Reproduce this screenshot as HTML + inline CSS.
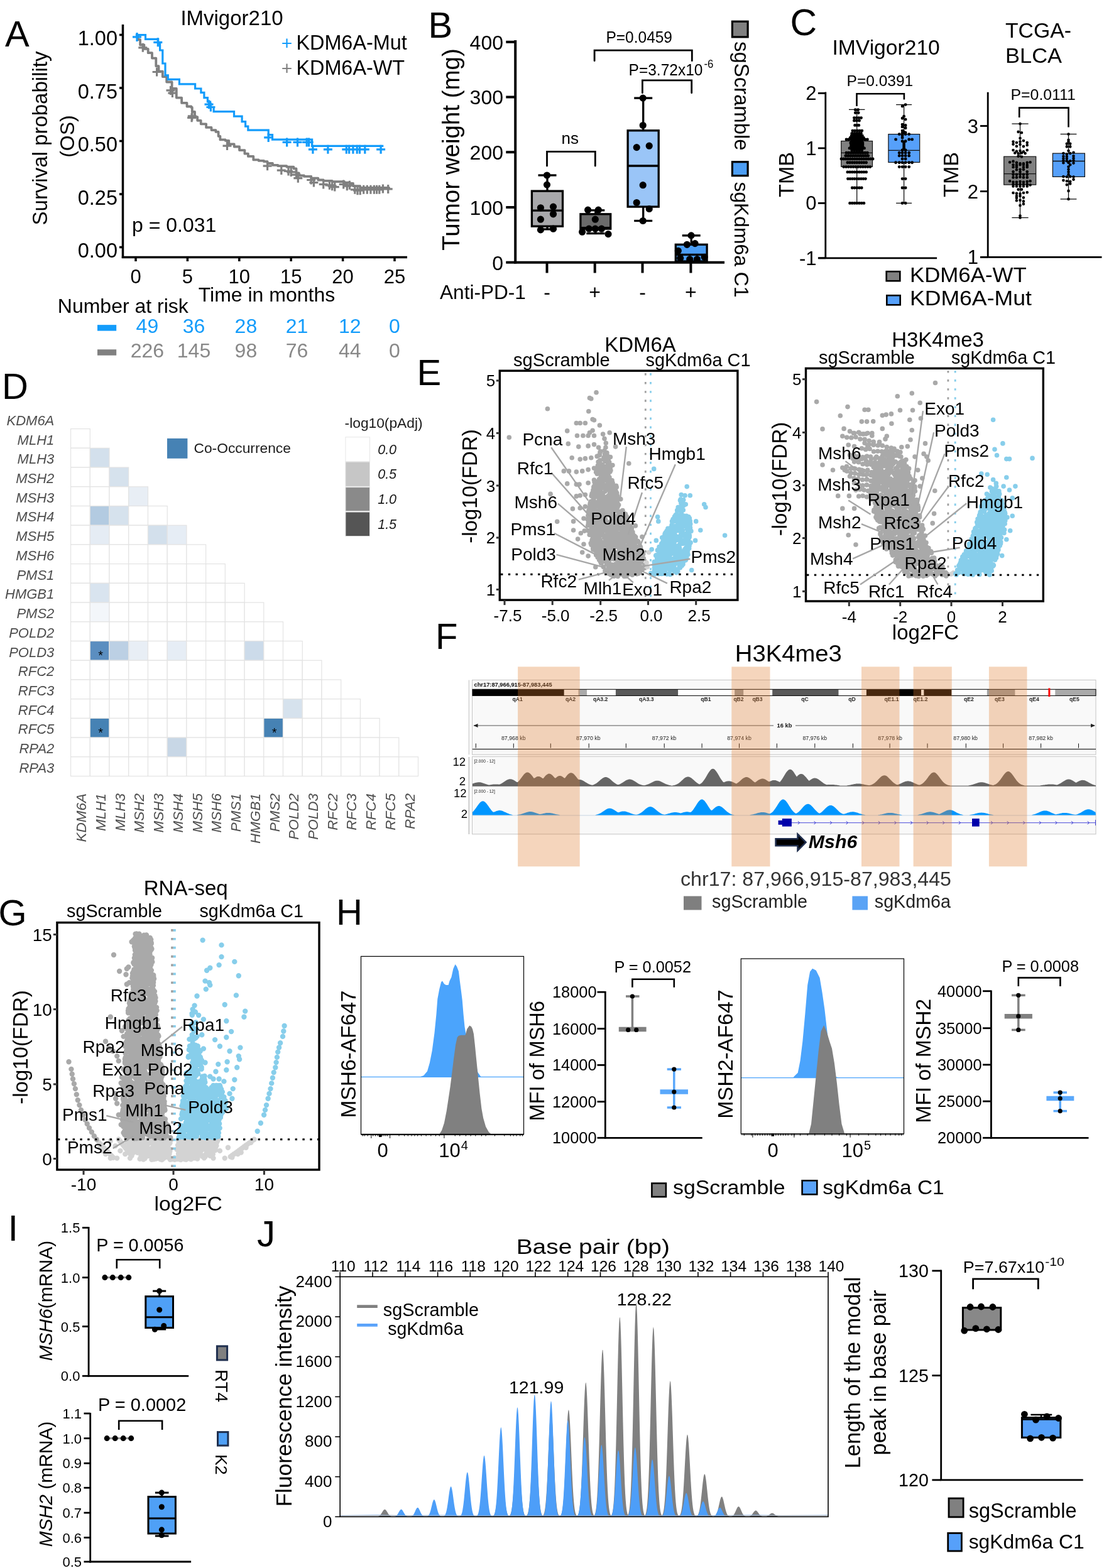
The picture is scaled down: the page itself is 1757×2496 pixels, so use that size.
<!DOCTYPE html>
<html><head><meta charset="utf-8"><title>Figure</title>
<style>html,body{margin:0;padding:0;background:#fff;}svg{display:block;}
text{font-family:"Liberation Sans",Arial,sans-serif;}</style></head>
<body><svg width="1757" height="2496" viewBox="0 0 1757 2496">
<rect width="1757" height="2496" fill="#fff"/>
<text x="8" y="74" font-size="58">A</text>
<text x="369" y="40" font-size="33" text-anchor="middle">IMvigor210</text>
<line x1="195.5" y1="39" x2="195.5" y2="411" stroke="#000" stroke-width="3.5"/>
<line x1="193.8" y1="409.5" x2="648" y2="409.5" stroke="#000" stroke-width="3.5"/>
<line x1="190" y1="55.5" x2="196" y2="55.5" stroke="#000" stroke-width="3.5"/>
<text x="187" y="72" font-size="32.5" text-anchor="end">1.00</text>
<line x1="190" y1="140" x2="196" y2="140" stroke="#000" stroke-width="3.5"/>
<text x="187" y="156.5" font-size="32.5" text-anchor="end">0.75</text>
<line x1="190" y1="224.5" x2="196" y2="224.5" stroke="#000" stroke-width="3.5"/>
<text x="187" y="241" font-size="32.5" text-anchor="end">0.50</text>
<line x1="190" y1="309" x2="196" y2="309" stroke="#000" stroke-width="3.5"/>
<text x="187" y="325.5" font-size="32.5" text-anchor="end">0.25</text>
<line x1="190" y1="393.5" x2="196" y2="393.5" stroke="#000" stroke-width="3.5"/>
<text x="187" y="410" font-size="32.5" text-anchor="end">0.00</text>
<line x1="216" y1="409" x2="216" y2="416" stroke="#000" stroke-width="3.5"/>
<text x="216" y="451" font-size="31" text-anchor="middle">0</text>
<line x1="298.4" y1="409" x2="298.4" y2="416" stroke="#000" stroke-width="3.5"/>
<text x="298.4" y="451" font-size="31" text-anchor="middle">5</text>
<line x1="380.8" y1="409" x2="380.8" y2="416" stroke="#000" stroke-width="3.5"/>
<text x="380.8" y="451" font-size="31" text-anchor="middle">10</text>
<line x1="463.2" y1="409" x2="463.2" y2="416" stroke="#000" stroke-width="3.5"/>
<text x="463.2" y="451" font-size="31" text-anchor="middle">15</text>
<line x1="545.6" y1="409" x2="545.6" y2="416" stroke="#000" stroke-width="3.5"/>
<text x="545.6" y="451" font-size="31" text-anchor="middle">20</text>
<line x1="628" y1="409" x2="628" y2="416" stroke="#000" stroke-width="3.5"/>
<text x="628" y="451" font-size="31" text-anchor="middle">25</text>
<text x="75" y="220" font-size="33" text-anchor="middle" transform="rotate(-90 75 220)">Survival probability</text>
<text x="117.5" y="217" font-size="32" text-anchor="middle" transform="rotate(-90 117.5 217)">(OS)</text>
<text x="210" y="368.5" font-size="32">p = 0.031</text>
<text x="315.7" y="480" font-size="32">Time in months</text>
<text x="91.8" y="498" font-size="32">Number at risk</text>
<text x="456.6" y="78.5" font-size="30" text-anchor="middle" fill="#139cfb">+</text>
<text x="471.4" y="79" font-size="32.4">KDM6A-Mut</text>
<text x="456.6" y="118.5" font-size="30" text-anchor="middle" fill="#808080">+</text>
<text x="471.4" y="119" font-size="32.4">KDM6A-WT</text>
<line x1="155" y1="521.9" x2="185.2" y2="521.9" stroke="#139cfb" stroke-width="9.5"/>
<line x1="155" y1="561" x2="185.2" y2="561" stroke="#808080" stroke-width="9.5"/>
<text x="234.4" y="529.5" font-size="32" text-anchor="middle" fill="#139cfb">49</text>
<text x="308.5" y="529.5" font-size="32" text-anchor="middle" fill="#139cfb">36</text>
<text x="391.4" y="529.5" font-size="32" text-anchor="middle" fill="#139cfb">28</text>
<text x="472.6" y="529.5" font-size="32" text-anchor="middle" fill="#139cfb">21</text>
<text x="556.8" y="529.5" font-size="32" text-anchor="middle" fill="#139cfb">12</text>
<text x="628" y="529.5" font-size="32" text-anchor="middle" fill="#139cfb">0</text>
<text x="234.4" y="569" font-size="32" text-anchor="middle" fill="#888888">226</text>
<text x="308.5" y="569" font-size="32" text-anchor="middle" fill="#888888">145</text>
<text x="391.4" y="569" font-size="32" text-anchor="middle" fill="#888888">98</text>
<text x="472.6" y="569" font-size="32" text-anchor="middle" fill="#888888">76</text>
<text x="556.8" y="569" font-size="32" text-anchor="middle" fill="#888888">44</text>
<text x="628" y="569" font-size="32" text-anchor="middle" fill="#888888">0</text>
<path d="M215.9 55.6 L219.7 55.6 L219.7 63.1 L223.1 63.1 L223.1 71.5 L229.4 71.5 L229.4 77.9 L235.7 77.9 L235.7 84.2 L242 84.2 L242 92.6 L248.3 92.6 L248.3 105.2 L252.5 105.2 L252.5 113.6 L258.8 113.6 L258.8 122.1 L265.2 122.1 L265.2 130.5 L273.6 130.5 L273.6 141 L280.8 141 L280.8 155.6 L289.1 155.6 L289.1 163.9 L297.5 163.9 L297.5 169.5 L304.4 169.5 L304.4 170.9 L305.8 170.9 L305.8 177.8 L310 177.8 L310 186.2 L314.2 186.2 L314.2 191.8 L319.7 191.8 L319.7 197.3 L328.1 197.3 L328.1 202.9 L336.5 202.9 L336.5 207.1 L343.4 207.1 L343.4 209.9 L347.6 209.9 L347.6 216.8 L350.4 216.8 L350.4 222.4 L358.7 222.4 L358.7 223.8 L364.3 223.8 L364.3 229.4 L372.7 229.4 L372.7 233.5 L381 233.5 L381 239.1 L389.4 239.1 L389.4 244.7 L394.9 244.7 L394.9 248.9 L403.3 248.9 L403.3 254.4 L411.6 254.4 L411.6 255.8 L420 255.8 L420 257.2 L425.6 257.2 L425.6 260 L433.9 260 L433.9 262.8 L442.3 262.8 L442.3 264.2 L456.2 264.2 L456.2 265.6 L467.3 265.6 L467.3 268.4 L471.5 268.4 L471.5 275.3 L475.7 275.3 L475.7 279.5 L484 279.5 L484 280.9 L495.2 280.9 L495.2 283.7 L506.3 283.7 L506.3 286.5 L514.7 286.5 L514.7 287.8 L528.6 287.8 L528.6 289.2 L548.1 289.2 L548.1 290.6 L556.4 290.6 L556.4 292 L562 292 L562 296.2 L573.2 296.2 L573.2 299 L619.1 299 L619.1 300.4" fill="none" stroke="#808080" stroke-width="3.8" stroke-linejoin="round"/>
<path d="M215.9 55.6 L231.5 55.6 L231.5 62.3 L251.7 62.3 L251.7 69.4 L254.6 69.4 L254.6 80 L258.8 80 L258.8 101 L263 101 L263 119.9 L267.3 119.9 L267.3 126.3 L285.4 126.3 L285.4 133.8 L310.6 133.8 L310.6 141 L319.9 141 L319.9 147.3 L324.9 147.3 L324.9 155.7 L330.4 155.7 L330.4 162 L334.6 162 L334.6 170.5 L340.1 170.5 L340.1 177.6 L372.5 177.6 L372.5 185.2 L385.1 185.2 L385.1 193.6 L390.6 193.6 L390.6 201.2 L394.8 201.2 L394.8 207.1 L427.2 207.1 L427.2 214.6 L433.5 214.6 L433.5 222.2 L496.6 222.2 L496.6 232.3 L610.3 232.3" fill="none" stroke="#139cfb" stroke-width="3.2"/>
<path d="M220.3 75.8h14M227.3 68.8v14M242.6 114.5h14M249.6 107.5v14M264.5 143.9h14M271.5 136.9v14M267.4 148.1h14M274.4 141.1v14M298.1 187.3h14M305.1 180.3v14M298.8 184.8h14M305.8 177.8v14M354.5 232.1h14M361.5 225.1v14M418.6 264.2h14M425.6 257.2v14M440.8 271.1h14M447.8 264.1v14M452 272.5h14M459 265.5v14M456.2 273.9h14M463.2 266.9v14M464.5 278.1h14M471.5 271.1v14M467.3 283.7h14M474.3 276.7v14M488.2 286.5h14M495.2 279.5v14M492.4 290.6h14M499.4 283.6v14M507.7 293.4h14M514.7 286.4v14M517.4 294.8h14M524.4 287.8v14M521.6 296.2h14M528.6 289.2v14M525.8 297.6h14M532.8 290.6v14M539.7 293.4h14M546.7 286.4v14M545.3 296.2h14M552.3 289.2v14M549.4 294.8h14M556.4 287.8v14M557.8 301.8h14M564.8 294.8v14M562 303.2h14M569 296.2v14M566.2 303.2h14M573.2 296.2v14M571.7 301.8h14M578.7 294.8v14M577.3 301.8h14M584.3 294.8v14M582.9 301.8h14M589.9 294.8v14M588.4 301.8h14M595.4 294.8v14M592.6 301.8h14M599.6 294.8v14M596.8 301.8h14M603.8 294.8v14M602.4 300.4h14M609.4 293.4v14M610.7 300.9h14M617.7 293.9v14" fill="none" stroke="#808080" stroke-width="3.2"/>
<path d="M211 58.9h14M218 51.9v14M244.3 67.3h14M251.3 60.3v14M325.5 166.2h14M332.5 159.2v14M328.4 170.5h14M335.4 163.5v14M420.2 218.9h14M427.2 211.9v14M449.6 226.4h14M456.6 219.4v14M466.5 226.4h14M473.5 219.4v14M481.2 226.4h14M488.2 219.4v14M484.6 226.4h14M491.6 219.4v14M490.9 237.8h14M497.9 230.8v14M514.9 237.8h14M521.9 230.8v14M544.3 237.8h14M551.3 230.8v14M548.6 237.8h14M555.6 230.8v14M554.9 237.8h14M561.9 230.8v14M561.2 237.8h14M568.2 230.8v14M565.4 237.8h14M572.4 230.8v14M573.8 237.8h14M580.8 230.8v14M599.1 237.8h14M606.1 230.8v14" fill="none" stroke="#139cfb" stroke-width="3.2"/>
<text x="681.5" y="60" font-size="58">B</text>
<line x1="820.2" y1="64" x2="820.2" y2="419.5" stroke="#000" stroke-width="4"/>
<line x1="818.2" y1="417.7" x2="1153" y2="417.7" stroke="#000" stroke-width="4"/>
<line x1="805.3" y1="417.7" x2="820" y2="417.7" stroke="#000" stroke-width="4"/>
<text x="801" y="429.5" font-size="32" text-anchor="end">0</text>
<line x1="805.3" y1="330" x2="820" y2="330" stroke="#000" stroke-width="4"/>
<text x="801" y="341.8" font-size="32" text-anchor="end">100</text>
<line x1="805.3" y1="242.2" x2="820" y2="242.2" stroke="#000" stroke-width="4"/>
<text x="801" y="254.1" font-size="32" text-anchor="end">200</text>
<line x1="805.3" y1="154.5" x2="820" y2="154.5" stroke="#000" stroke-width="4"/>
<text x="801" y="166.3" font-size="32" text-anchor="end">300</text>
<line x1="805.3" y1="66.8" x2="820" y2="66.8" stroke="#000" stroke-width="4"/>
<text x="801" y="78.6" font-size="32" text-anchor="end">400</text>
<line x1="870.5" y1="417" x2="870.5" y2="434.5" stroke="#000" stroke-width="4"/>
<line x1="946.7" y1="417" x2="946.7" y2="434.5" stroke="#000" stroke-width="4"/>
<line x1="1022.5" y1="417" x2="1022.5" y2="434.5" stroke="#000" stroke-width="4"/>
<line x1="1099.4" y1="417" x2="1099.4" y2="434.5" stroke="#000" stroke-width="4"/>
<text x="700" y="476" font-size="31.6">Anti-PD-1</text>
<text x="870.5" y="476" font-size="32" text-anchor="middle">-</text>
<text x="946.7" y="476" font-size="32" text-anchor="middle">+</text>
<text x="1022.5" y="476" font-size="32" text-anchor="middle">-</text>
<text x="1099.4" y="476" font-size="32" text-anchor="middle">+</text>
<text x="731" y="238" font-size="38.5" text-anchor="middle" transform="rotate(-90 731 238)">Tumor weight (mg)</text>
<line x1="871" y1="279" x2="871" y2="304.1" stroke="#000" stroke-width="3.3"/><line x1="871" y1="360.2" x2="871" y2="364.9" stroke="#000" stroke-width="3.3"/><line x1="856.5" y1="279" x2="885.5" y2="279" stroke="#000" stroke-width="3.3"/><line x1="856.5" y1="364.9" x2="885.5" y2="364.9" stroke="#000" stroke-width="3.3"/><rect x="846.4" y="304.1" width="49.1" height="56.1" fill="#a8a8ab" stroke="#000" stroke-width="3.3"/><line x1="846.4" y1="335.2" x2="895.5" y2="335.2" stroke="#000" stroke-width="3.3"/>
<line x1="947.8" y1="334.8" x2="947.8" y2="340.8" stroke="#000" stroke-width="3.3"/><line x1="947.8" y1="364.2" x2="947.8" y2="371.6" stroke="#000" stroke-width="3.3"/><line x1="933.3" y1="334.8" x2="962.3" y2="334.8" stroke="#000" stroke-width="3.3"/><line x1="933.3" y1="371.6" x2="962.3" y2="371.6" stroke="#000" stroke-width="3.3"/><rect x="923.9" y="340.8" width="47.8" height="23.4" fill="#6a6a6a" stroke="#000" stroke-width="3.3"/><line x1="923.9" y1="362.6" x2="971.7" y2="362.6" stroke="#000" stroke-width="3.3"/>
<line x1="1023.7" y1="156.1" x2="1023.7" y2="207.8" stroke="#000" stroke-width="3.3"/><line x1="1023.7" y1="329.1" x2="1023.7" y2="351.5" stroke="#000" stroke-width="3.3"/><line x1="1009.2" y1="156.1" x2="1038.2" y2="156.1" stroke="#000" stroke-width="3.3"/><line x1="1009.2" y1="351.5" x2="1038.2" y2="351.5" stroke="#000" stroke-width="3.3"/><rect x="999.1" y="207.8" width="49.1" height="121.3" fill="#9ac5f7" stroke="#000" stroke-width="3.3"/><line x1="999.1" y1="264" x2="1048.2" y2="264" stroke="#000" stroke-width="3.3"/>
<line x1="1100.2" y1="374.9" x2="1100.2" y2="389.3" stroke="#000" stroke-width="3.3"/><line x1="1100.2" y1="416" x2="1100.2" y2="416" stroke="#000" stroke-width="3.3"/><line x1="1085.7" y1="374.9" x2="1114.7" y2="374.9" stroke="#000" stroke-width="3.3"/><line x1="1085.7" y1="416" x2="1114.7" y2="416" stroke="#000" stroke-width="3.3"/><rect x="1075.3" y="389.3" width="49.8" height="26.7" fill="#4c9ef5" stroke="#000" stroke-width="3.3"/><line x1="1075.3" y1="405.3" x2="1125.1" y2="405.3" stroke="#000" stroke-width="3.3"/>
<path d="M870.5 279h0M870.5 294.1h0M860.4 330.8h0M880.5 329.1h0M880.5 340.8h0M860.4 349.2h0M860.4 365.9h0M880.5 364.2h0M935.6 334.2h0M952.3 334.2h0M947.3 349.2h0M926.6 369.2h0M937.3 364.2h0M947.3 364.2h0M957.4 364.2h0M968 372.6h0M1023.2 156.1h0M1023.2 199.5h0M1013.2 234.6h0M1033.2 232.2h0M1023.2 294.7h0M1013.2 322.5h0M1033.2 332.5h0M1023.2 351.5h0M1100 374.9h0M1093.4 389.3h0M1106.1 387.6h0M1079.3 399.3h0M1082.7 411h0M1097.7 412.7h0M1121.1 409.3h0M1109.4 412.7h0" stroke="#000" stroke-width="11.2" stroke-linecap="round" fill="none"/>
<path d="M870.5 264V241.3H947.3V264" fill="none" stroke="#000" stroke-width="2.8" stroke-linecap="round"/>
<text x="907.2" y="229" font-size="26" text-anchor="middle">ns</text>
<path d="M946.1 96.7V80.1H1101.3V96.7" fill="none" stroke="#000" stroke-width="2.8" stroke-linecap="round"/>
<text x="964.5" y="67.8" font-size="26" textLength="105.5" lengthAdjust="spacingAndGlyphs">P=0.0459</text>
<path d="M1022.4 147.8V127.8H1100.7V147.8" fill="none" stroke="#000" stroke-width="2.8" stroke-linecap="round"/>
<text x="1000.6" y="119.6" font-size="26" textLength="117.8" lengthAdjust="spacingAndGlyphs">P=3.72x10</text>
<text x="1120.4" y="108.3" font-size="18" textLength="15" lengthAdjust="spacingAndGlyphs">-6</text>
<rect x="1165.4" y="34.2" width="24.7" height="24.7" fill="#808080" stroke="#000" stroke-width="3.2"/>
<text x="1168.5" y="66" font-size="32.9" transform="rotate(90 1168.5 66)">sgScramble</text>
<rect x="1165.4" y="257.7" width="24.7" height="22" fill="#4c9ef5" stroke="#000" stroke-width="3.2"/>
<text x="1168.5" y="289.5" font-size="31.8" transform="rotate(90 1168.5 289.5)">sgKdm6a C1</text>
<text x="1257.5" y="55.5" font-size="59">C</text>
<text x="1324.5" y="86.6" font-size="33" textLength="171.3" lengthAdjust="spacingAndGlyphs">IMVigor210</text>
<text x="1600" y="59.5" font-size="33" textLength="105" lengthAdjust="spacingAndGlyphs">TCGA-</text>
<text x="1600" y="100" font-size="33" textLength="90" lengthAdjust="spacingAndGlyphs">BLCA</text>
<line x1="1313.8" y1="146.5" x2="1313.8" y2="412" stroke="#000" stroke-width="2.8"/>
<line x1="1302.3" y1="410.8" x2="1491.1" y2="410.8" stroke="#000" stroke-width="2.8"/>
<line x1="1301.9" y1="148.4" x2="1313.8" y2="148.4" stroke="#000" stroke-width="2.8"/>
<text x="1299.5" y="159.4" font-size="31" text-anchor="end">2</text>
<line x1="1301.9" y1="235.9" x2="1313.8" y2="235.9" stroke="#000" stroke-width="2.8"/>
<text x="1299.5" y="246.9" font-size="31" text-anchor="end">1</text>
<line x1="1301.9" y1="323.4" x2="1313.8" y2="323.4" stroke="#000" stroke-width="2.8"/>
<text x="1299.5" y="334.4" font-size="31" text-anchor="end">0</text>
<line x1="1301.9" y1="410.8" x2="1313.8" y2="410.8" stroke="#000" stroke-width="2.8"/>
<text x="1299.5" y="421.8" font-size="31" text-anchor="end">-1</text>
<text x="1263" y="278" font-size="34" text-anchor="middle" transform="rotate(-90 1263 278)">TMB</text>
<path d="M1363.5 169.1V149.3H1438.9V158.6" fill="none" stroke="#000" stroke-width="2.6"/>
<text x="1400.4" y="136.8" font-size="24" text-anchor="middle" textLength="105.7" lengthAdjust="spacingAndGlyphs">P=0.0391</text>
<line x1="1363.7" y1="174.4" x2="1363.7" y2="323.4" stroke="#111" stroke-width="1.3"/><line x1="1351" y1="174.4" x2="1376.4" y2="174.4" stroke="#111" stroke-width="1.3"/><line x1="1351" y1="323.4" x2="1376.4" y2="323.4" stroke="#111" stroke-width="1.3"/><rect x="1338.7" y="224.5" width="49.8" height="40.8" fill="#808080" stroke="#111" stroke-width="1.2"/><line x1="1338.7" y1="243.3" x2="1388.5" y2="243.3" stroke="#111" stroke-width="1.3"/>
<line x1="1438.6" y1="166.6" x2="1438.6" y2="323.4" stroke="#111" stroke-width="1.3"/><line x1="1426.1" y1="166.6" x2="1451.1" y2="166.6" stroke="#111" stroke-width="1.3"/><line x1="1426.1" y1="323.4" x2="1451.1" y2="323.4" stroke="#111" stroke-width="1.3"/><rect x="1413.9" y="213.6" width="49.8" height="44.8" fill="#56a0fa" stroke="#111" stroke-width="1.2"/><line x1="1413.9" y1="239.4" x2="1463.6" y2="239.4" stroke="#111" stroke-width="1.3"/>
<path d="M1352.6 323.4h0M1356.3 323.4h0M1360 323.4h0M1363.7 323.4h0M1367.5 323.4h0M1371.2 323.4h0M1374.9 323.4h0M1356.3 299h0M1360 299h0M1363.7 299h0M1367.5 299h0M1371.2 299h0M1349.5 284.6h0M1353 284.6h0M1356.5 284.6h0M1359.9 284.6h0M1363.4 284.6h0M1366.9 284.6h0M1370.4 284.6h0M1373.9 284.6h0M1377.4 284.6h0M1348.9 273.9h0M1352.6 273.9h0M1356.3 273.9h0M1360 273.9h0M1363.7 273.9h0M1367.5 273.9h0M1371.2 273.9h0M1374.9 273.9h0M1378.6 273.9h0M1342.7 265.6h0M1346.5 265.6h0M1350.3 265.6h0M1354.2 265.6h0M1358 265.6h0M1361.8 265.6h0M1365.7 265.6h0M1369.5 265.6h0M1373.3 265.6h0M1377.1 265.6h0M1381 265.6h0M1384.8 265.6h0M1348.9 258.8h0M1352.6 258.8h0M1356.3 258.8h0M1360 258.8h0M1363.7 258.8h0M1367.5 258.8h0M1371.2 258.8h0M1374.9 258.8h0M1378.6 258.8h0M1339 252.9h0M1342.6 252.9h0M1346.1 252.9h0M1349.7 252.9h0M1353.3 252.9h0M1356.9 252.9h0M1360.5 252.9h0M1364 252.9h0M1367.6 252.9h0M1371.2 252.9h0M1374.8 252.9h0M1378.4 252.9h0M1381.9 252.9h0M1385.5 252.9h0M1389.1 252.9h0M1345.8 247.9h0M1349.4 247.9h0M1353 247.9h0M1356.6 247.9h0M1360.1 247.9h0M1363.7 247.9h0M1367.3 247.9h0M1370.9 247.9h0M1374.5 247.9h0M1378.1 247.9h0M1381.7 247.9h0M1347 243.3h0M1350.7 243.3h0M1354.5 243.3h0M1358.2 243.3h0M1361.9 243.3h0M1365.6 243.3h0M1369.3 243.3h0M1373 243.3h0M1376.7 243.3h0M1380.4 243.3h0M1355.7 239h0M1359.7 239h0M1363.7 239h0M1367.8 239h0M1371.8 239h0M1352 235.9h0M1355.9 235.9h0M1359.8 235.9h0M1363.7 235.9h0M1367.7 235.9h0M1371.6 235.9h0M1375.5 235.9h0M1354.5 232.8h0M1358.2 232.8h0M1361.9 232.8h0M1365.6 232.8h0M1369.3 232.8h0M1373 232.8h0M1354.5 230.1h0M1358.2 230.1h0M1361.9 230.1h0M1365.6 230.1h0M1369.3 230.1h0M1373 230.1h0M1353.8 227.4h0M1357.7 227.4h0M1361.5 227.4h0M1365.3 227.4h0M1369.2 227.4h0M1373 227.4h0M1355.1 224.8h0M1359.3 224.8h0M1363.4 224.8h0M1367.6 224.8h0M1371.8 224.8h0M1347 221.9h0M1350.7 221.9h0M1354.5 221.9h0M1358.2 221.9h0M1361.9 221.9h0M1365.6 221.9h0M1369.3 221.9h0M1373 221.9h0M1376.7 221.9h0M1380.4 221.9h0M1353.2 219.2h0M1356.7 219.2h0M1360.2 219.2h0M1363.7 219.2h0M1367.2 219.2h0M1370.8 219.2h0M1374.3 219.2h0M1355.1 216.1h0M1358.5 216.1h0M1362 216.1h0M1365.5 216.1h0M1368.9 216.1h0M1372.4 216.1h0M1355.7 212.4h0M1359.4 212.4h0M1363.1 212.4h0M1366.8 212.4h0M1370.5 212.4h0M1356.9 208.1h0M1360.6 208.1h0M1364.4 208.1h0M1368.1 208.1h0M1371.8 208.1h0M1360.6 199.4h0M1363.7 199.4h0M1366.8 199.4h0M1359.4 192h0M1363.4 192h0M1367.5 192h0M1359.4 187.6h0M1363.1 187.6h0M1366.8 187.6h0M1370.5 187.6h0M1361.3 179.6h0M1366.2 179.6h0M1361.3 174.7h0M1365.6 174.7h0M1441.1 166.6h0M1436.1 169.1h0M1438.6 185.2h0M1436.1 188.3h0M1441.1 190.1h0M1436.1 198.2h0M1441.1 199.4h0M1436.1 201.9h0M1441.1 203.7h0M1436.1 208.1h0M1438.6 209.9h0M1436.1 211.8h0M1441.1 211.2h0M1431.2 213.6h0M1436.1 213.6h0M1441.1 213.6h0M1446.7 213.6h0M1436.1 215.7h0M1436.1 219.2h0M1425.6 221.9h0M1446.7 221.9h0M1451.6 221.9h0M1436.1 224.8h0M1441.1 224.8h0M1438.6 226.6h0M1438.6 229.1h0M1438.6 231.6h0M1438.6 234.1h0M1438.6 235.9h0M1436.1 239h0M1441.1 239h0M1431.2 243.3h0M1436.1 243.3h0M1441.1 243.3h0M1446.7 243.3h0M1431.2 247.9h0M1436.1 247.9h0M1441.1 247.9h0M1446.7 247.9h0M1436.1 252.9h0M1441.1 252.9h0M1425.6 258.8h0M1431.2 258.8h0M1436.1 258.8h0M1441.1 258.8h0M1446.7 258.8h0M1451.6 258.8h0M1431.2 265.6h0M1436.1 265.6h0M1441.1 265.6h0M1446.7 265.6h0M1436.1 284.6h0M1441.1 284.6h0M1436.1 299h0M1441.1 299h0M1436.1 323.4h0M1441.1 323.4h0" stroke="#000" stroke-width="4.9" stroke-linecap="round" fill="none"/>
<line x1="1572.2" y1="146.8" x2="1572.2" y2="410" stroke="#000" stroke-width="2.8"/>
<line x1="1560.1" y1="409.3" x2="1753.5" y2="409.3" stroke="#000" stroke-width="2.8"/>
<line x1="1560" y1="200.5" x2="1572.2" y2="200.5" stroke="#000" stroke-width="2.8"/>
<text x="1557" y="211.5" font-size="31" text-anchor="end">3</text>
<line x1="1560" y1="304.6" x2="1572.2" y2="304.6" stroke="#000" stroke-width="2.8"/>
<text x="1557" y="315.6" font-size="31" text-anchor="end">2</text>
<line x1="1560" y1="409.3" x2="1572.2" y2="409.3" stroke="#000" stroke-width="2.8"/>
<text x="1557" y="420.3" font-size="31" text-anchor="end">1</text>
<text x="1525" y="278" font-size="34" text-anchor="middle" transform="rotate(-90 1525 278)">TMB</text>
<path d="M1622.2 187V171.6H1700.5V202.5" fill="none" stroke="#000" stroke-width="2.6"/>
<text x="1660.2" y="158.9" font-size="24" text-anchor="middle" textLength="103.4" lengthAdjust="spacingAndGlyphs">P=0.0111</text>
<line x1="1623.5" y1="197.1" x2="1623.5" y2="346.5" stroke="#111" stroke-width="1.3"/><line x1="1610.4" y1="197.1" x2="1636.6" y2="197.1" stroke="#111" stroke-width="1.3"/><line x1="1610.4" y1="346.5" x2="1636.6" y2="346.5" stroke="#111" stroke-width="1.3"/><rect x="1597.7" y="249.2" width="51" height="44.9" fill="#808080" stroke="#111" stroke-width="1.2"/><line x1="1597.7" y1="276.6" x2="1648.8" y2="276.6" stroke="#111" stroke-width="1.3"/>
<line x1="1700.5" y1="213.5" x2="1700.5" y2="316.9" stroke="#111" stroke-width="1.3"/><line x1="1687.6" y1="213.5" x2="1713.4" y2="213.5" stroke="#111" stroke-width="1.3"/><line x1="1687.6" y1="316.9" x2="1713.4" y2="316.9" stroke="#111" stroke-width="1.3"/><rect x="1675.4" y="244.1" width="51" height="37.3" fill="#56a0fa" stroke="#111" stroke-width="1.2"/><line x1="1675.4" y1="256.5" x2="1726.4" y2="256.5" stroke="#111" stroke-width="1.3"/>
<path d="M1623.5 197.1h0M1620.6 209.9h0M1625.9 211.2h0M1623.5 220h0M1612.5 225.6h0M1617.9 227h0M1623.5 225.6h0M1628.9 224h0M1634.7 227h0M1612.5 229.6h0M1617.9 232.7h0M1623.5 230h0M1628.9 233.1h0M1634.7 231h0M1612.5 239h0M1617.9 240.8h0M1623.5 240.1h0M1628.9 241.2h0M1634.7 239h0M1615.2 243.5h0M1620.6 244.4h0M1625.9 243.5h0M1631.6 244.1h0M1620.6 248.8h0M1625.9 249.5h0M1607.1 258.2h0M1612.5 256.9h0M1617.9 258.9h0M1623.5 260.3h0M1628.9 260.3h0M1634.7 258.9h0M1639.6 258.2h0M1612.5 262.3h0M1617.9 262.9h0M1623.5 262.3h0M1628.9 262.3h0M1634.7 262.9h0M1612.5 265.9h0M1617.9 265.9h0M1623.5 269.7h0M1628.9 265.9h0M1634.7 265.9h0M1612.5 273.4h0M1617.9 270.3h0M1623.5 273.7h0M1628.9 269.7h0M1634.7 273.4h0M1612.5 277.7h0M1617.9 277.7h0M1623.5 277.7h0M1628.9 277.7h0M1634.7 277.7h0M1612.5 282.4h0M1617.9 282.4h0M1623.5 281.7h0M1628.9 282.4h0M1634.7 282.4h0M1607.1 288.2h0M1612.5 289.8h0M1617.9 289.8h0M1623.5 289.1h0M1628.9 289.8h0M1634.7 289.1h0M1639.6 288.2h0M1612.5 296.5h0M1617.9 296.5h0M1623.5 296.5h0M1628.9 296.5h0M1634.7 296.5h0M1639.6 294.5h0M1612.5 293.2h0M1617.9 293.2h0M1623.5 293.2h0M1628.9 293.2h0M1634.7 293.2h0M1620.6 301.6h0M1625.9 301.6h0M1612.5 307h0M1617.9 307.9h0M1623.5 308.6h0M1628.9 307h0M1634.7 306.2h0M1617.9 312h0M1623.5 312h0M1628.9 314.6h0M1617.9 315h0M1623.5 318.7h0M1617.9 319.3h0M1628.9 320.4h0M1628.9 324.7h0M1623.5 327.1h0M1623.5 343.5h0M1623.5 346.5h0M1700.5 213.5h0M1700.5 222.7h0M1700.5 225.3h0M1697.8 228.7h0M1703.2 228.7h0M1697.8 233.4h0M1703.2 233.4h0M1700.5 240.1h0M1692.4 244.1h0M1697.8 245.5h0M1703.2 244.1h0M1708.5 242.8h0M1692.4 248.8h0M1697.8 249.2h0M1708.5 248.2h0M1692.4 252.2h0M1697.8 252.5h0M1708.5 251.9h0M1692.4 255.6h0M1697.8 256.2h0M1703.2 256.2h0M1708.5 255.6h0M1692.4 259.2h0M1700.5 258.9h0M1708.5 259.6h0M1703.2 262.3h0M1700.5 265.6h0M1700.5 269.7h0M1700.5 273.7h0M1700.5 277.7h0M1692.4 281.1h0M1697.8 281.5h0M1703.2 281.1h0M1708.5 281.5h0M1692.4 287.1h0M1697.8 288.2h0M1703.2 289.1h0M1708.5 285.8h0M1697.8 294.1h0M1703.2 292.5h0M1700.5 303.9h0M1700.5 316.9h0" stroke="#000" stroke-width="4.6" stroke-linecap="round" fill="none"/>
<rect x="1410.7" y="432.2" width="21.6" height="15" fill="#808080" stroke="#000" stroke-width="2.6"/>
<rect x="1411.3" y="470.3" width="21.4" height="15" fill="#56a0fa" stroke="#000" stroke-width="2.6"/>
<text x="1447.9" y="448.5" font-size="33" textLength="185.8" lengthAdjust="spacingAndGlyphs">KDM6A-WT</text>
<text x="1447.9" y="486.2" font-size="33" textLength="194" lengthAdjust="spacingAndGlyphs">KDM6A-Mut</text>
<text x="3" y="634.5" font-size="58">D</text>
<rect x="112.6" y="682.6" width="30.7" height="30.7" fill="#fff" stroke="#e3e3e3" stroke-width="1.2"/><rect x="112.6" y="713.3" width="30.7" height="30.7" fill="#fff" stroke="#e3e3e3" stroke-width="1.2"/><rect x="143.3" y="713.3" width="30.7" height="30.7" fill="#D3E0EC" stroke="#e3e3e3" stroke-width="1.2"/><rect x="112.6" y="744" width="30.7" height="30.7" fill="#fff" stroke="#e3e3e3" stroke-width="1.2"/><rect x="143.3" y="744" width="30.7" height="30.7" fill="#fff" stroke="#e3e3e3" stroke-width="1.2"/><rect x="174" y="744" width="30.7" height="30.7" fill="#D6E2ED" stroke="#e3e3e3" stroke-width="1.2"/><rect x="112.6" y="774.8" width="30.7" height="30.7" fill="#fff" stroke="#e3e3e3" stroke-width="1.2"/><rect x="143.3" y="774.8" width="30.7" height="30.7" fill="#fff" stroke="#e3e3e3" stroke-width="1.2"/><rect x="174" y="774.8" width="30.7" height="30.7" fill="#fff" stroke="#e3e3e3" stroke-width="1.2"/><rect x="204.8" y="774.8" width="30.7" height="30.7" fill="#E8EEF5" stroke="#e3e3e3" stroke-width="1.2"/><rect x="112.6" y="805.5" width="30.7" height="30.7" fill="#fff" stroke="#e3e3e3" stroke-width="1.2"/><rect x="143.3" y="805.5" width="30.7" height="30.7" fill="#B3CBE1" stroke="#e3e3e3" stroke-width="1.2"/><rect x="174" y="805.5" width="30.7" height="30.7" fill="#D6E2ED" stroke="#e3e3e3" stroke-width="1.2"/><rect x="204.8" y="805.5" width="30.7" height="30.7" fill="#fff" stroke="#e3e3e3" stroke-width="1.2"/><rect x="235.5" y="805.5" width="30.7" height="30.7" fill="#fff" stroke="#e3e3e3" stroke-width="1.2"/><rect x="112.6" y="836.2" width="30.7" height="30.7" fill="#fff" stroke="#e3e3e3" stroke-width="1.2"/><rect x="143.3" y="836.2" width="30.7" height="30.7" fill="#E5ECF4" stroke="#e3e3e3" stroke-width="1.2"/><rect x="174" y="836.2" width="30.7" height="30.7" fill="#fff" stroke="#e3e3e3" stroke-width="1.2"/><rect x="204.8" y="836.2" width="30.7" height="30.7" fill="#fff" stroke="#e3e3e3" stroke-width="1.2"/><rect x="235.5" y="836.2" width="30.7" height="30.7" fill="#D3E0EC" stroke="#e3e3e3" stroke-width="1.2"/><rect x="266.2" y="836.2" width="30.7" height="30.7" fill="#E6EDF5" stroke="#e3e3e3" stroke-width="1.2"/><rect x="112.6" y="866.9" width="30.7" height="30.7" fill="#fff" stroke="#e3e3e3" stroke-width="1.2"/><rect x="143.3" y="866.9" width="30.7" height="30.7" fill="#fff" stroke="#e3e3e3" stroke-width="1.2"/><rect x="174" y="866.9" width="30.7" height="30.7" fill="#fff" stroke="#e3e3e3" stroke-width="1.2"/><rect x="204.8" y="866.9" width="30.7" height="30.7" fill="#fff" stroke="#e3e3e3" stroke-width="1.2"/><rect x="235.5" y="866.9" width="30.7" height="30.7" fill="#fff" stroke="#e3e3e3" stroke-width="1.2"/><rect x="266.2" y="866.9" width="30.7" height="30.7" fill="#fff" stroke="#e3e3e3" stroke-width="1.2"/><rect x="296.9" y="866.9" width="30.7" height="30.7" fill="#fff" stroke="#e3e3e3" stroke-width="1.2"/><rect x="112.6" y="897.6" width="30.7" height="30.7" fill="#fff" stroke="#e3e3e3" stroke-width="1.2"/><rect x="143.3" y="897.6" width="30.7" height="30.7" fill="#fff" stroke="#e3e3e3" stroke-width="1.2"/><rect x="174" y="897.6" width="30.7" height="30.7" fill="#fff" stroke="#e3e3e3" stroke-width="1.2"/><rect x="204.8" y="897.6" width="30.7" height="30.7" fill="#fff" stroke="#e3e3e3" stroke-width="1.2"/><rect x="235.5" y="897.6" width="30.7" height="30.7" fill="#fff" stroke="#e3e3e3" stroke-width="1.2"/><rect x="266.2" y="897.6" width="30.7" height="30.7" fill="#fff" stroke="#e3e3e3" stroke-width="1.2"/><rect x="296.9" y="897.6" width="30.7" height="30.7" fill="#fff" stroke="#e3e3e3" stroke-width="1.2"/><rect x="327.6" y="897.6" width="30.7" height="30.7" fill="#fff" stroke="#e3e3e3" stroke-width="1.2"/><rect x="112.6" y="928.4" width="30.7" height="30.7" fill="#fff" stroke="#e3e3e3" stroke-width="1.2"/><rect x="143.3" y="928.4" width="30.7" height="30.7" fill="#D9E4EF" stroke="#e3e3e3" stroke-width="1.2"/><rect x="174" y="928.4" width="30.7" height="30.7" fill="#fff" stroke="#e3e3e3" stroke-width="1.2"/><rect x="204.8" y="928.4" width="30.7" height="30.7" fill="#fff" stroke="#e3e3e3" stroke-width="1.2"/><rect x="235.5" y="928.4" width="30.7" height="30.7" fill="#fff" stroke="#e3e3e3" stroke-width="1.2"/><rect x="266.2" y="928.4" width="30.7" height="30.7" fill="#fff" stroke="#e3e3e3" stroke-width="1.2"/><rect x="296.9" y="928.4" width="30.7" height="30.7" fill="#fff" stroke="#e3e3e3" stroke-width="1.2"/><rect x="327.6" y="928.4" width="30.7" height="30.7" fill="#fff" stroke="#e3e3e3" stroke-width="1.2"/><rect x="358.4" y="928.4" width="30.7" height="30.7" fill="#fff" stroke="#e3e3e3" stroke-width="1.2"/><rect x="112.6" y="959.1" width="30.7" height="30.7" fill="#fff" stroke="#e3e3e3" stroke-width="1.2"/><rect x="143.3" y="959.1" width="30.7" height="30.7" fill="#F3F6FA" stroke="#e3e3e3" stroke-width="1.2"/><rect x="174" y="959.1" width="30.7" height="30.7" fill="#fff" stroke="#e3e3e3" stroke-width="1.2"/><rect x="204.8" y="959.1" width="30.7" height="30.7" fill="#fff" stroke="#e3e3e3" stroke-width="1.2"/><rect x="235.5" y="959.1" width="30.7" height="30.7" fill="#fff" stroke="#e3e3e3" stroke-width="1.2"/><rect x="266.2" y="959.1" width="30.7" height="30.7" fill="#fff" stroke="#e3e3e3" stroke-width="1.2"/><rect x="296.9" y="959.1" width="30.7" height="30.7" fill="#fff" stroke="#e3e3e3" stroke-width="1.2"/><rect x="327.6" y="959.1" width="30.7" height="30.7" fill="#fff" stroke="#e3e3e3" stroke-width="1.2"/><rect x="358.4" y="959.1" width="30.7" height="30.7" fill="#fff" stroke="#e3e3e3" stroke-width="1.2"/><rect x="389.1" y="959.1" width="30.7" height="30.7" fill="#fff" stroke="#e3e3e3" stroke-width="1.2"/><rect x="112.6" y="989.8" width="30.7" height="30.7" fill="#fff" stroke="#e3e3e3" stroke-width="1.2"/><rect x="143.3" y="989.8" width="30.7" height="30.7" fill="#fff" stroke="#e3e3e3" stroke-width="1.2"/><rect x="174" y="989.8" width="30.7" height="30.7" fill="#fff" stroke="#e3e3e3" stroke-width="1.2"/><rect x="204.8" y="989.8" width="30.7" height="30.7" fill="#fff" stroke="#e3e3e3" stroke-width="1.2"/><rect x="235.5" y="989.8" width="30.7" height="30.7" fill="#fff" stroke="#e3e3e3" stroke-width="1.2"/><rect x="266.2" y="989.8" width="30.7" height="30.7" fill="#fff" stroke="#e3e3e3" stroke-width="1.2"/><rect x="296.9" y="989.8" width="30.7" height="30.7" fill="#fff" stroke="#e3e3e3" stroke-width="1.2"/><rect x="327.6" y="989.8" width="30.7" height="30.7" fill="#fff" stroke="#e3e3e3" stroke-width="1.2"/><rect x="358.4" y="989.8" width="30.7" height="30.7" fill="#fff" stroke="#e3e3e3" stroke-width="1.2"/><rect x="389.1" y="989.8" width="30.7" height="30.7" fill="#fff" stroke="#e3e3e3" stroke-width="1.2"/><rect x="419.8" y="989.8" width="30.7" height="30.7" fill="#fff" stroke="#e3e3e3" stroke-width="1.2"/><rect x="112.6" y="1020.5" width="30.7" height="30.7" fill="#fff" stroke="#e3e3e3" stroke-width="1.2"/><rect x="143.3" y="1020.5" width="30.7" height="30.7" fill="#5B8EC0" stroke="#e3e3e3" stroke-width="1.2"/><rect x="174" y="1020.5" width="30.7" height="30.7" fill="#BCD0E4" stroke="#e3e3e3" stroke-width="1.2"/><rect x="204.8" y="1020.5" width="30.7" height="30.7" fill="#E8EEF5" stroke="#e3e3e3" stroke-width="1.2"/><rect x="235.5" y="1020.5" width="30.7" height="30.7" fill="#fff" stroke="#e3e3e3" stroke-width="1.2"/><rect x="266.2" y="1020.5" width="30.7" height="30.7" fill="#E6EDF5" stroke="#e3e3e3" stroke-width="1.2"/><rect x="296.9" y="1020.5" width="30.7" height="30.7" fill="#fff" stroke="#e3e3e3" stroke-width="1.2"/><rect x="327.6" y="1020.5" width="30.7" height="30.7" fill="#fff" stroke="#e3e3e3" stroke-width="1.2"/><rect x="358.4" y="1020.5" width="30.7" height="30.7" fill="#fff" stroke="#e3e3e3" stroke-width="1.2"/><rect x="389.1" y="1020.5" width="30.7" height="30.7" fill="#CCDBEA" stroke="#e3e3e3" stroke-width="1.2"/><rect x="419.8" y="1020.5" width="30.7" height="30.7" fill="#fff" stroke="#e3e3e3" stroke-width="1.2"/><rect x="450.5" y="1020.5" width="30.7" height="30.7" fill="#fff" stroke="#e3e3e3" stroke-width="1.2"/><rect x="112.6" y="1051.2" width="30.7" height="30.7" fill="#fff" stroke="#e3e3e3" stroke-width="1.2"/><rect x="143.3" y="1051.2" width="30.7" height="30.7" fill="#fff" stroke="#e3e3e3" stroke-width="1.2"/><rect x="174" y="1051.2" width="30.7" height="30.7" fill="#fff" stroke="#e3e3e3" stroke-width="1.2"/><rect x="204.8" y="1051.2" width="30.7" height="30.7" fill="#fff" stroke="#e3e3e3" stroke-width="1.2"/><rect x="235.5" y="1051.2" width="30.7" height="30.7" fill="#fff" stroke="#e3e3e3" stroke-width="1.2"/><rect x="266.2" y="1051.2" width="30.7" height="30.7" fill="#fff" stroke="#e3e3e3" stroke-width="1.2"/><rect x="296.9" y="1051.2" width="30.7" height="30.7" fill="#fff" stroke="#e3e3e3" stroke-width="1.2"/><rect x="327.6" y="1051.2" width="30.7" height="30.7" fill="#fff" stroke="#e3e3e3" stroke-width="1.2"/><rect x="358.4" y="1051.2" width="30.7" height="30.7" fill="#fff" stroke="#e3e3e3" stroke-width="1.2"/><rect x="389.1" y="1051.2" width="30.7" height="30.7" fill="#fff" stroke="#e3e3e3" stroke-width="1.2"/><rect x="419.8" y="1051.2" width="30.7" height="30.7" fill="#fff" stroke="#e3e3e3" stroke-width="1.2"/><rect x="450.5" y="1051.2" width="30.7" height="30.7" fill="#fff" stroke="#e3e3e3" stroke-width="1.2"/><rect x="481.2" y="1051.2" width="30.7" height="30.7" fill="#fff" stroke="#e3e3e3" stroke-width="1.2"/><rect x="112.6" y="1082" width="30.7" height="30.7" fill="#fff" stroke="#e3e3e3" stroke-width="1.2"/><rect x="143.3" y="1082" width="30.7" height="30.7" fill="#fff" stroke="#e3e3e3" stroke-width="1.2"/><rect x="174" y="1082" width="30.7" height="30.7" fill="#fff" stroke="#e3e3e3" stroke-width="1.2"/><rect x="204.8" y="1082" width="30.7" height="30.7" fill="#fff" stroke="#e3e3e3" stroke-width="1.2"/><rect x="235.5" y="1082" width="30.7" height="30.7" fill="#fff" stroke="#e3e3e3" stroke-width="1.2"/><rect x="266.2" y="1082" width="30.7" height="30.7" fill="#fff" stroke="#e3e3e3" stroke-width="1.2"/><rect x="296.9" y="1082" width="30.7" height="30.7" fill="#fff" stroke="#e3e3e3" stroke-width="1.2"/><rect x="327.6" y="1082" width="30.7" height="30.7" fill="#fff" stroke="#e3e3e3" stroke-width="1.2"/><rect x="358.4" y="1082" width="30.7" height="30.7" fill="#fff" stroke="#e3e3e3" stroke-width="1.2"/><rect x="389.1" y="1082" width="30.7" height="30.7" fill="#fff" stroke="#e3e3e3" stroke-width="1.2"/><rect x="419.8" y="1082" width="30.7" height="30.7" fill="#fff" stroke="#e3e3e3" stroke-width="1.2"/><rect x="450.5" y="1082" width="30.7" height="30.7" fill="#fff" stroke="#e3e3e3" stroke-width="1.2"/><rect x="481.2" y="1082" width="30.7" height="30.7" fill="#fff" stroke="#e3e3e3" stroke-width="1.2"/><rect x="512" y="1082" width="30.7" height="30.7" fill="#fff" stroke="#e3e3e3" stroke-width="1.2"/><rect x="112.6" y="1112.7" width="30.7" height="30.7" fill="#fff" stroke="#e3e3e3" stroke-width="1.2"/><rect x="143.3" y="1112.7" width="30.7" height="30.7" fill="#fff" stroke="#e3e3e3" stroke-width="1.2"/><rect x="174" y="1112.7" width="30.7" height="30.7" fill="#fff" stroke="#e3e3e3" stroke-width="1.2"/><rect x="204.8" y="1112.7" width="30.7" height="30.7" fill="#fff" stroke="#e3e3e3" stroke-width="1.2"/><rect x="235.5" y="1112.7" width="30.7" height="30.7" fill="#fff" stroke="#e3e3e3" stroke-width="1.2"/><rect x="266.2" y="1112.7" width="30.7" height="30.7" fill="#fff" stroke="#e3e3e3" stroke-width="1.2"/><rect x="296.9" y="1112.7" width="30.7" height="30.7" fill="#fff" stroke="#e3e3e3" stroke-width="1.2"/><rect x="327.6" y="1112.7" width="30.7" height="30.7" fill="#fff" stroke="#e3e3e3" stroke-width="1.2"/><rect x="358.4" y="1112.7" width="30.7" height="30.7" fill="#fff" stroke="#e3e3e3" stroke-width="1.2"/><rect x="389.1" y="1112.7" width="30.7" height="30.7" fill="#fff" stroke="#e3e3e3" stroke-width="1.2"/><rect x="419.8" y="1112.7" width="30.7" height="30.7" fill="#fff" stroke="#e3e3e3" stroke-width="1.2"/><rect x="450.5" y="1112.7" width="30.7" height="30.7" fill="#D6E2ED" stroke="#e3e3e3" stroke-width="1.2"/><rect x="481.2" y="1112.7" width="30.7" height="30.7" fill="#fff" stroke="#e3e3e3" stroke-width="1.2"/><rect x="512" y="1112.7" width="30.7" height="30.7" fill="#fff" stroke="#e3e3e3" stroke-width="1.2"/><rect x="542.7" y="1112.7" width="30.7" height="30.7" fill="#fff" stroke="#e3e3e3" stroke-width="1.2"/><rect x="112.6" y="1143.4" width="30.7" height="30.7" fill="#fff" stroke="#e3e3e3" stroke-width="1.2"/><rect x="143.3" y="1143.4" width="30.7" height="30.7" fill="#4682B4" stroke="#e3e3e3" stroke-width="1.2"/><rect x="174" y="1143.4" width="30.7" height="30.7" fill="#fff" stroke="#e3e3e3" stroke-width="1.2"/><rect x="204.8" y="1143.4" width="30.7" height="30.7" fill="#fff" stroke="#e3e3e3" stroke-width="1.2"/><rect x="235.5" y="1143.4" width="30.7" height="30.7" fill="#fff" stroke="#e3e3e3" stroke-width="1.2"/><rect x="266.2" y="1143.4" width="30.7" height="30.7" fill="#fff" stroke="#e3e3e3" stroke-width="1.2"/><rect x="296.9" y="1143.4" width="30.7" height="30.7" fill="#fff" stroke="#e3e3e3" stroke-width="1.2"/><rect x="327.6" y="1143.4" width="30.7" height="30.7" fill="#fff" stroke="#e3e3e3" stroke-width="1.2"/><rect x="358.4" y="1143.4" width="30.7" height="30.7" fill="#fff" stroke="#e3e3e3" stroke-width="1.2"/><rect x="389.1" y="1143.4" width="30.7" height="30.7" fill="#fff" stroke="#e3e3e3" stroke-width="1.2"/><rect x="419.8" y="1143.4" width="30.7" height="30.7" fill="#4682B4" stroke="#e3e3e3" stroke-width="1.2"/><rect x="450.5" y="1143.4" width="30.7" height="30.7" fill="#fff" stroke="#e3e3e3" stroke-width="1.2"/><rect x="481.2" y="1143.4" width="30.7" height="30.7" fill="#fff" stroke="#e3e3e3" stroke-width="1.2"/><rect x="512" y="1143.4" width="30.7" height="30.7" fill="#fff" stroke="#e3e3e3" stroke-width="1.2"/><rect x="542.7" y="1143.4" width="30.7" height="30.7" fill="#fff" stroke="#e3e3e3" stroke-width="1.2"/><rect x="573.4" y="1143.4" width="30.7" height="30.7" fill="#fff" stroke="#e3e3e3" stroke-width="1.2"/><rect x="112.6" y="1174.1" width="30.7" height="30.7" fill="#fff" stroke="#e3e3e3" stroke-width="1.2"/><rect x="143.3" y="1174.1" width="30.7" height="30.7" fill="#fff" stroke="#e3e3e3" stroke-width="1.2"/><rect x="174" y="1174.1" width="30.7" height="30.7" fill="#fff" stroke="#e3e3e3" stroke-width="1.2"/><rect x="204.8" y="1174.1" width="30.7" height="30.7" fill="#fff" stroke="#e3e3e3" stroke-width="1.2"/><rect x="235.5" y="1174.1" width="30.7" height="30.7" fill="#fff" stroke="#e3e3e3" stroke-width="1.2"/><rect x="266.2" y="1174.1" width="30.7" height="30.7" fill="#C8D7E6" stroke="#e3e3e3" stroke-width="1.2"/><rect x="296.9" y="1174.1" width="30.7" height="30.7" fill="#fff" stroke="#e3e3e3" stroke-width="1.2"/><rect x="327.6" y="1174.1" width="30.7" height="30.7" fill="#fff" stroke="#e3e3e3" stroke-width="1.2"/><rect x="358.4" y="1174.1" width="30.7" height="30.7" fill="#fff" stroke="#e3e3e3" stroke-width="1.2"/><rect x="389.1" y="1174.1" width="30.7" height="30.7" fill="#fff" stroke="#e3e3e3" stroke-width="1.2"/><rect x="419.8" y="1174.1" width="30.7" height="30.7" fill="#fff" stroke="#e3e3e3" stroke-width="1.2"/><rect x="450.5" y="1174.1" width="30.7" height="30.7" fill="#fff" stroke="#e3e3e3" stroke-width="1.2"/><rect x="481.2" y="1174.1" width="30.7" height="30.7" fill="#fff" stroke="#e3e3e3" stroke-width="1.2"/><rect x="512" y="1174.1" width="30.7" height="30.7" fill="#fff" stroke="#e3e3e3" stroke-width="1.2"/><rect x="542.7" y="1174.1" width="30.7" height="30.7" fill="#fff" stroke="#e3e3e3" stroke-width="1.2"/><rect x="573.4" y="1174.1" width="30.7" height="30.7" fill="#fff" stroke="#e3e3e3" stroke-width="1.2"/><rect x="604.1" y="1174.1" width="30.7" height="30.7" fill="#fff" stroke="#e3e3e3" stroke-width="1.2"/><rect x="112.6" y="1204.8" width="30.7" height="30.7" fill="#fff" stroke="#e3e3e3" stroke-width="1.2"/><rect x="143.3" y="1204.8" width="30.7" height="30.7" fill="#fff" stroke="#e3e3e3" stroke-width="1.2"/><rect x="174" y="1204.8" width="30.7" height="30.7" fill="#fff" stroke="#e3e3e3" stroke-width="1.2"/><rect x="204.8" y="1204.8" width="30.7" height="30.7" fill="#fff" stroke="#e3e3e3" stroke-width="1.2"/><rect x="235.5" y="1204.8" width="30.7" height="30.7" fill="#fff" stroke="#e3e3e3" stroke-width="1.2"/><rect x="266.2" y="1204.8" width="30.7" height="30.7" fill="#fff" stroke="#e3e3e3" stroke-width="1.2"/><rect x="296.9" y="1204.8" width="30.7" height="30.7" fill="#fff" stroke="#e3e3e3" stroke-width="1.2"/><rect x="327.6" y="1204.8" width="30.7" height="30.7" fill="#fff" stroke="#e3e3e3" stroke-width="1.2"/><rect x="358.4" y="1204.8" width="30.7" height="30.7" fill="#fff" stroke="#e3e3e3" stroke-width="1.2"/><rect x="389.1" y="1204.8" width="30.7" height="30.7" fill="#fff" stroke="#e3e3e3" stroke-width="1.2"/><rect x="419.8" y="1204.8" width="30.7" height="30.7" fill="#fff" stroke="#e3e3e3" stroke-width="1.2"/><rect x="450.5" y="1204.8" width="30.7" height="30.7" fill="#fff" stroke="#e3e3e3" stroke-width="1.2"/><rect x="481.2" y="1204.8" width="30.7" height="30.7" fill="#fff" stroke="#e3e3e3" stroke-width="1.2"/><rect x="512" y="1204.8" width="30.7" height="30.7" fill="#fff" stroke="#e3e3e3" stroke-width="1.2"/><rect x="542.7" y="1204.8" width="30.7" height="30.7" fill="#fff" stroke="#e3e3e3" stroke-width="1.2"/><rect x="573.4" y="1204.8" width="30.7" height="30.7" fill="#fff" stroke="#e3e3e3" stroke-width="1.2"/><rect x="604.1" y="1204.8" width="30.7" height="30.7" fill="#fff" stroke="#e3e3e3" stroke-width="1.2"/><rect x="634.8" y="1204.8" width="30.7" height="30.7" fill="#fff" stroke="#e3e3e3" stroke-width="1.2"/>
<text x="160.2" y="1049.9" font-size="20" text-anchor="middle">*</text>
<text x="160.2" y="1172.8" font-size="20" text-anchor="middle">*</text>
<text x="436.7" y="1172.8" font-size="20" text-anchor="middle">*</text>
<text x="86.3" y="676.8" font-size="22" text-anchor="end" fill="#4d4d4d" font-style="italic">KDM6A</text>
<text x="86.3" y="707.6" font-size="22" text-anchor="end" fill="#4d4d4d" font-style="italic">MLH1</text>
<text x="86.3" y="738.3" font-size="22" text-anchor="end" fill="#4d4d4d" font-style="italic">MLH3</text>
<text x="86.3" y="769" font-size="22" text-anchor="end" fill="#4d4d4d" font-style="italic">MSH2</text>
<text x="86.3" y="799.7" font-size="22" text-anchor="end" fill="#4d4d4d" font-style="italic">MSH3</text>
<text x="86.3" y="830.4" font-size="22" text-anchor="end" fill="#4d4d4d" font-style="italic">MSH4</text>
<text x="86.3" y="861.2" font-size="22" text-anchor="end" fill="#4d4d4d" font-style="italic">MSH5</text>
<text x="86.3" y="891.9" font-size="22" text-anchor="end" fill="#4d4d4d" font-style="italic">MSH6</text>
<text x="86.3" y="922.6" font-size="22" text-anchor="end" fill="#4d4d4d" font-style="italic">PMS1</text>
<text x="86.3" y="953.3" font-size="22" text-anchor="end" fill="#4d4d4d" font-style="italic">HMGB1</text>
<text x="86.3" y="984" font-size="22" text-anchor="end" fill="#4d4d4d" font-style="italic">PMS2</text>
<text x="86.3" y="1014.8" font-size="22" text-anchor="end" fill="#4d4d4d" font-style="italic">POLD2</text>
<text x="86.3" y="1045.5" font-size="22" text-anchor="end" fill="#4d4d4d" font-style="italic">POLD3</text>
<text x="86.3" y="1076.2" font-size="22" text-anchor="end" fill="#4d4d4d" font-style="italic">RFC2</text>
<text x="86.3" y="1106.9" font-size="22" text-anchor="end" fill="#4d4d4d" font-style="italic">RFC3</text>
<text x="86.3" y="1137.6" font-size="22" text-anchor="end" fill="#4d4d4d" font-style="italic">RFC4</text>
<text x="86.3" y="1168.4" font-size="22" text-anchor="end" fill="#4d4d4d" font-style="italic">RFC5</text>
<text x="86.3" y="1199.1" font-size="22" text-anchor="end" fill="#4d4d4d" font-style="italic">RPA2</text>
<text x="86.3" y="1229.8" font-size="22" text-anchor="end" fill="#4d4d4d" font-style="italic">RPA3</text>
<text x="137.3" y="1263" font-size="22.5" text-anchor="end" fill="#4d4d4d" font-style="italic" transform="rotate(-90 137.3 1263)">KDM6A</text>
<text x="168" y="1263" font-size="22.5" text-anchor="end" fill="#4d4d4d" font-style="italic" transform="rotate(-90 168 1263)">MLH1</text>
<text x="198.7" y="1263" font-size="22.5" text-anchor="end" fill="#4d4d4d" font-style="italic" transform="rotate(-90 198.7 1263)">MLH3</text>
<text x="229.4" y="1263" font-size="22.5" text-anchor="end" fill="#4d4d4d" font-style="italic" transform="rotate(-90 229.4 1263)">MSH2</text>
<text x="260.1" y="1263" font-size="22.5" text-anchor="end" fill="#4d4d4d" font-style="italic" transform="rotate(-90 260.1 1263)">MSH3</text>
<text x="290.9" y="1263" font-size="22.5" text-anchor="end" fill="#4d4d4d" font-style="italic" transform="rotate(-90 290.9 1263)">MSH4</text>
<text x="321.6" y="1263" font-size="22.5" text-anchor="end" fill="#4d4d4d" font-style="italic" transform="rotate(-90 321.6 1263)">MSH5</text>
<text x="352.3" y="1263" font-size="22.5" text-anchor="end" fill="#4d4d4d" font-style="italic" transform="rotate(-90 352.3 1263)">MSH6</text>
<text x="383" y="1263" font-size="22.5" text-anchor="end" fill="#4d4d4d" font-style="italic" transform="rotate(-90 383 1263)">PMS1</text>
<text x="413.7" y="1263" font-size="22.5" text-anchor="end" fill="#4d4d4d" font-style="italic" transform="rotate(-90 413.7 1263)">HMGB1</text>
<text x="444.5" y="1263" font-size="22.5" text-anchor="end" fill="#4d4d4d" font-style="italic" transform="rotate(-90 444.5 1263)">PMS2</text>
<text x="475.2" y="1263" font-size="22.5" text-anchor="end" fill="#4d4d4d" font-style="italic" transform="rotate(-90 475.2 1263)">POLD2</text>
<text x="505.9" y="1263" font-size="22.5" text-anchor="end" fill="#4d4d4d" font-style="italic" transform="rotate(-90 505.9 1263)">POLD3</text>
<text x="536.6" y="1263" font-size="22.5" text-anchor="end" fill="#4d4d4d" font-style="italic" transform="rotate(-90 536.6 1263)">RFC2</text>
<text x="567.3" y="1263" font-size="22.5" text-anchor="end" fill="#4d4d4d" font-style="italic" transform="rotate(-90 567.3 1263)">RFC3</text>
<text x="598.1" y="1263" font-size="22.5" text-anchor="end" fill="#4d4d4d" font-style="italic" transform="rotate(-90 598.1 1263)">RFC4</text>
<text x="628.8" y="1263" font-size="22.5" text-anchor="end" fill="#4d4d4d" font-style="italic" transform="rotate(-90 628.8 1263)">RFC5</text>
<text x="659.5" y="1263" font-size="22.5" text-anchor="end" fill="#4d4d4d" font-style="italic" transform="rotate(-90 659.5 1263)">RPA2</text>
<rect x="266" y="697.9" width="32.4" height="31.9" fill="#4682B4"/>
<text x="308.5" y="720.5" font-size="22.4" fill="#1a1a1a" textLength="154.4" lengthAdjust="spacingAndGlyphs">Co-Occurrence</text>
<text x="548.6" y="680.6" font-size="22" fill="#1a1a1a" textLength="124" lengthAdjust="spacingAndGlyphs">-log10(pAdj)</text>
<rect x="549.9" y="695.8" width="38.6" height="38.8" fill="#ffffff" stroke="#e6e6e6" stroke-width="1"/>
<rect x="549.9" y="735.2" width="38.6" height="39.1" fill="#c6c6c6" stroke="#e6e6e6" stroke-width="1"/>
<rect x="549.9" y="775.6" width="38.6" height="38" fill="#8a8a8a" stroke="#e6e6e6" stroke-width="1"/>
<rect x="549.9" y="815" width="38.6" height="38.6" fill="#555555" stroke="#e6e6e6" stroke-width="1"/>
<text x="601.2" y="723.2" font-size="21.5" fill="#1a1a1a" font-style="italic">0.0</text>
<text x="601.2" y="762.3" font-size="21.5" fill="#1a1a1a" font-style="italic">0.5</text>
<text x="601.2" y="802.2" font-size="21.5" fill="#1a1a1a" font-style="italic">1.0</text>
<text x="601.2" y="842.1" font-size="21.5" fill="#1a1a1a" font-style="italic">1.5</text>
<text x="663.5" y="613" font-size="58">E</text>
<text x="1019" y="560" font-size="33" text-anchor="middle">KDM6A</text>
<text x="817" y="583" font-size="29" textLength="153.7" lengthAdjust="spacingAndGlyphs">sgScramble</text>
<text x="1027.5" y="583" font-size="29" textLength="167" lengthAdjust="spacingAndGlyphs">sgKdm6a C1</text>
<line x1="1027.3" y1="594" x2="1027.3" y2="953" stroke="#a0a0a0" stroke-width="2.8" stroke-dasharray="3.4 10.7" stroke-dashoffset="0"/>
<line x1="1035.5" y1="594" x2="1035.5" y2="953" stroke="#87ceeb" stroke-width="2.8" stroke-dasharray="3.4 10.7" stroke-dashoffset="0"/>
<path d="M972.1 810.7h0M965.9 817.4h0M959.6 770.4h0M968.6 890.6h0M982.2 858.9h0M943.8 805.3h0M980.7 860.7h0M952.2 769.3h0M965.1 867.3h0M959.1 852.3h0M967.7 885.4h0M1000.7 850.5h0M1020.1 875.1h0M973.4 778h0M943.7 783.4h0M984.4 865.4h0M1005.3 898.3h0M971.2 853.7h0M939.5 834.6h0M1019.4 870.7h0M980.3 889.8h0M975.9 865.4h0M944.1 786h0M965.9 881.2h0M964.1 772.1h0M1016.8 899.5h0M955.5 803.5h0M951.7 783.3h0M966.3 796.3h0M958.2 801h0M992.5 817.9h0M989.3 868.9h0M1010.2 866.6h0M1008.7 883.1h0M941.9 821.6h0M944 860h0M955.3 792.4h0M950.6 767.7h0M944.8 775.4h0M966.7 898.1h0M955.8 799.3h0M942.5 836.1h0M983.1 813.7h0M981.7 784.9h0M974.4 843.2h0M970 869.8h0M959.3 843.8h0M1005.8 887.3h0M955.8 795.3h0M954.9 763.9h0M1017.6 911.1h0M949.4 817.2h0M967.9 790.5h0M990.5 902.2h0M946.1 863h0M1000 864.2h0M959.2 878.4h0M1009.4 884.6h0M987.6 913.5h0M972.9 909.6h0M979.4 779.5h0M1012.3 887.3h0M943.9 814.9h0M1010.8 862.4h0M970.7 890.4h0M967.2 805.8h0M944.8 800.5h0M989.2 903.8h0M967.9 851.9h0M994 905h0M966.9 842.4h0M975.5 788.4h0M972.3 786.7h0M973.6 847.6h0M943.7 847.5h0M956.2 848.2h0M990.2 881.9h0M980.3 879.9h0M976.4 856.5h0M982.9 869.3h0M1015.3 870.3h0M982.7 800.5h0M962.2 892.6h0M951.1 829.5h0M960 883.7h0M953.6 873h0M997.4 822.5h0M984.5 891.4h0M949.5 841.1h0M957 829.2h0M943.4 858.3h0M980.9 913.5h0M958.4 802.2h0M976.3 904h0M942.9 849.9h0M996.2 826.8h0M945.3 860h0M1017.6 895.2h0M972.2 831.3h0M969.1 906.4h0M943.6 842.9h0M950.3 784.9h0M977.2 808.8h0M946.7 805.3h0M950.7 814.4h0M970.3 846.8h0M1011.6 907.7h0M989.8 827.9h0M978.1 821.7h0M1006.3 915.2h0M973.6 871.5h0M943.9 814.5h0M942.7 799.9h0M1002.7 892.8h0M952.4 804.1h0M965.2 832.2h0M980 913.7h0M984.7 912.6h0M949.1 834.6h0M954 839.4h0M945.8 773.6h0M953.6 762.9h0M992.4 852.3h0M1007.2 863.7h0M996.2 821.1h0M1002.8 861.4h0M1007.6 900.9h0M990 888.2h0M991.7 839.4h0M1018.3 890.5h0M958.7 867.7h0M957.3 764.3h0M981.6 848h0M941 867.3h0M987.4 885.9h0M940.6 844.3h0M950 876.3h0M987 914.2h0M987.8 835.3h0M944 857.2h0M973 782.7h0M938.2 807.6h0M967.7 768.9h0M963.9 869.2h0M968.5 841.3h0M989.7 907.9h0M949.2 830.6h0M997.2 909.4h0M1011 910.5h0M984.8 840.1h0M935.7 836.5h0M956.3 837.4h0M955.4 781.6h0M1008.5 892.7h0M1021.4 892.5h0M964.9 872.5h0M995.5 818.4h0M968.8 852.8h0M943.1 803h0M1021.9 891.8h0M962.6 798.9h0M982.4 789.4h0M1000.7 899.7h0M939.6 846.5h0M1002.5 875.6h0M943.1 861.6h0M990.4 906.4h0M978.1 813.9h0M999.7 914.3h0M957.8 807.1h0M950.4 785.9h0M973.5 903.1h0M948 830.7h0M947.6 773.7h0M965.4 797.3h0M985.7 900.1h0M959.3 825h0M952.2 813h0M992.7 912.9h0M955 859.2h0M957.3 802.3h0M955.6 894h0M997.6 901.5h0M946.1 798.7h0M1002.3 842.2h0M1002.8 873.9h0M937.9 831.9h0M1018.1 883.5h0M949.1 861.8h0M947 870.2h0M963.2 842.6h0M959.9 761h0M1014.4 911.5h0M952.2 834.8h0M981.6 911.8h0M960.4 866.4h0M957.7 865.2h0M959.1 764.7h0M1002.7 867.6h0M960.4 876.6h0M1008.9 913.3h0M974 795.9h0M951 838h0M996.4 825.5h0M951.1 782.5h0M971 913.9h0M975.1 768.9h0M1026 899.6h0M972.9 907.2h0M963.8 907.9h0M968.9 864.8h0M937.1 812h0M984.6 803.7h0M976.6 792.2h0M955.3 889.8h0M997.8 834.5h0M979.8 789.9h0M953.8 888.2h0M974.1 764.8h0M976.6 901.9h0M978.8 911.3h0M964.1 873.1h0M1020.3 904.8h0M960.5 763.2h0M961.9 820.7h0M1004.4 876.5h0M961.7 855.7h0M971.3 771.8h0M940.6 798.6h0M1006.9 847h0M943 801.4h0M966.6 838.4h0M967.7 796.5h0M1006 866.3h0M1004.8 864.8h0M956.5 805.9h0M963.5 876.5h0M979.8 798.3h0M965.8 851.1h0M975 775.6h0M956.2 892.7h0M947.3 805.9h0M1013.5 913.7h0M987 830.6h0M998 909.4h0M966.1 857.7h0M952.9 781.7h0M952.7 854.5h0M965.9 761.1h0M949.8 788.7h0M954.1 885.5h0M964.7 775.4h0M951.5 860.8h0M963.5 869.7h0M956.1 808.9h0M983.2 917.5h0M943.9 874.9h0M1013 902.4h0M936.3 832.5h0M1001.7 846.9h0M944.6 818.2h0M983.4 804.3h0M974.8 776.6h0M972.6 912.8h0M998.8 835.9h0M950.4 857.8h0M979.2 884h0M967.2 893.6h0M963.1 793.9h0M950.7 820.2h0M946.4 874.4h0M938.9 848.6h0M997.3 892.4h0M958.1 846.6h0M962.6 826h0M973.5 863.9h0M988.1 837h0M961.6 883.1h0M944.1 834.4h0M964 827.7h0M980.2 840.3h0M951.9 882.7h0M1001.8 839.3h0M1024.3 888.7h0M1010.4 904.7h0M983 907h0M1014.9 879.3h0M980.2 782.1h0M962.7 792.4h0M946.9 810h0M953.8 867.2h0M988.7 883.9h0M1005.2 860.3h0M1000 847.4h0M999 859.3h0M992.8 851h0M984.4 829.5h0M940.2 864.7h0M964.9 764.7h0M993.8 827.9h0M969.2 780.3h0M957.1 762.8h0M952.3 776.2h0M952 851.9h0M948.7 858.3h0M971 908h0M984.5 897.6h0M968.8 801.3h0M983.1 848.6h0M1014.3 875.7h0M938.8 823.7h0M989.8 882.9h0M974.3 908.7h0M985.8 855.8h0M974 888.4h0M983 807h0M948.7 883.6h0M987.8 893.3h0M962.2 877h0M945.2 776h0M996.9 869.6h0M959 801.5h0M968.8 884.5h0M955.7 861.2h0M974.9 899h0M982 909.3h0M973.4 899h0M1004.5 903.4h0M982.6 833.8h0M1007.6 895.4h0M951.9 849.8h0M1007 858.1h0M946.7 782.3h0M970 906.8h0M967 763.9h0M994.7 859.9h0M956.3 889.4h0M974.8 909.2h0M976.6 777.1h0M1012.5 888.2h0M946.4 859.5h0M959.1 791.8h0M955 762.6h0M967.6 872.9h0M1012.1 912.3h0M969.3 857.4h0M957.9 828.6h0M958.7 871.2h0M1014.5 896.2h0M950.1 786.4h0M948.2 837.3h0M993 837.8h0M972.4 804.3h0M979.7 838.4h0M990.5 870h0M959.1 815.8h0M1018.1 900.6h0M954.4 763.3h0M983.8 902.4h0M988.9 899.6h0M989.4 843.7h0M964.3 861.9h0M953.1 864.4h0M973.3 829h0M978.6 779.3h0M953.1 797.1h0M953.8 870.9h0M955.6 784.1h0M958.9 842.2h0M1018.6 875h0M981.2 775.4h0M982.1 885.5h0M958.6 776.3h0M986.8 884.9h0M949.6 859.7h0M992.9 855.1h0M996.7 903.4h0M962.9 878.2h0M1003.6 873.9h0M994.8 870.4h0M963 861.1h0M970.4 859h0M996 883.5h0M960 799h0M989.2 858h0M1001.7 907h0M985.1 882.8h0M994.6 914h0M968.3 908.6h0M989.2 850.5h0M993.8 840.6h0M1002.7 842.1h0M943 821.6h0M974.8 915.6h0M938.9 802.9h0M980.2 825.7h0M949.2 815.2h0M985.5 877h0M943.5 821.5h0M996 882.6h0M950.6 833.8h0M1000.3 912.3h0M986.2 889.3h0M944.1 806h0M1015.5 891.6h0M950.4 801.8h0M935.2 826.9h0M962.1 873.9h0M959.5 807.2h0M966.5 860.5h0M968.3 903.1h0M953.6 891.3h0M947.6 863.4h0M974.3 782h0M987.6 814.3h0M1016.4 885h0M987.8 855.9h0M1014.6 901.2h0M967 843.6h0M975.3 899.4h0M961.9 796.5h0M962.9 782.2h0M936.4 844.9h0M994.7 892.8h0M969 864.9h0M985.2 860.3h0M966.5 867.7h0M991.9 915.1h0M1006.4 901.8h0M1003.5 858.6h0M967 817.4h0M980.4 881.6h0M988.8 826.4h0M952.4 823.4h0M965 863.2h0M968.3 809.6h0M942 860.1h0M985.7 874h0M946.1 767.2h0M996.9 855.9h0M999.5 903.7h0M983.6 858.8h0M992.5 867.4h0M942.1 832h0M974.4 788.1h0M983.6 904.4h0M993.5 889.9h0M958.4 800.3h0M971.3 809.9h0M996.3 907.5h0M971 765.6h0M969.3 850.6h0M1009.9 853.3h0M942.3 834.8h0M950.9 861.6h0M966.2 761.8h0M971.9 779.8h0M974.4 789.1h0M999.6 872.6h0M1015.3 871.9h0M943.7 873.1h0M945.7 862.6h0M960.7 836.5h0M986.2 850.6h0M973 817h0M985.9 825.7h0M940.7 849.3h0M997 890.6h0M969.5 854.7h0M1004.3 900.3h0M997.7 854.8h0M950.9 804.3h0M988.1 826.4h0M1014.5 900.2h0M993.5 888.2h0M1018.8 887.4h0M967.9 814.4h0M1006 885.9h0M998.7 907.2h0M956.6 866.9h0M955.6 885h0M967.8 887.3h0M1001.9 851.3h0M977.4 842.1h0M948.7 789.3h0M985.8 870.6h0M944.6 823.2h0M973.7 818.7h0M993.9 884.3h0M937.7 814.1h0M996.3 896.8h0M1020.6 881.1h0M948.2 799.6h0M943.4 788h0M969.3 847.8h0M995.4 822.4h0M968.6 800.1h0M986.3 911.1h0M999.4 830.5h0M976.6 916.7h0M980.8 799.9h0M1019.5 871.9h0M970.2 768.2h0M980.2 908.4h0M945 853.2h0M943.8 810.7h0M951.7 835.7h0M981.2 790.3h0M965.6 896.9h0M996.9 830.3h0M986.7 893h0M945.1 835.1h0M971.9 794.5h0M999 847.1h0M945.8 801.6h0M963.9 812.4h0M977.1 865.4h0M947.9 804.7h0M977.6 774.8h0M936.8 813.4h0M966.3 891.4h0M974 781.2h0M948.3 872.3h0M949.8 838h0M998.8 856.5h0M941.7 851.8h0M1000.1 875.6h0M956.5 896.5h0M1016 903.8h0M977.5 801.6h0M957.9 817.6h0M975.9 853.7h0M943.2 830.1h0M1010.3 872.7h0M939.4 819.8h0M972.2 837.8h0M1005 844.6h0M944.4 794.8h0M967.2 764.1h0M966.9 790.3h0M988.2 850.8h0M952.2 873.1h0M954.8 837.7h0M948.5 778.7h0M948.1 853.2h0M948.5 850.2h0M980.9 890.4h0M1002.5 842.7h0M966 882.6h0M991 812.5h0M1011.3 887h0M991.8 893.8h0M968.2 798.9h0M940.2 817.2h0M936.4 828h0M995.9 882.6h0M1016.8 887.8h0M982.5 802.7h0M977.5 857.9h0M970 804.9h0M979.1 911.1h0M945.3 833.3h0M954.8 779h0M950.6 823.8h0M995.2 892.6h0M993.8 862.5h0M976.5 832.5h0M951.7 833.7h0M957.1 794.5h0M963 852.3h0M995.5 896.1h0M1003.6 837.3h0M978.4 784.5h0M960.7 829.1h0M942.3 829.1h0M970.6 876.5h0M971.7 815.3h0M992 894.2h0M1003.4 876.6h0M983.6 834.7h0M1015.7 904.5h0M1008.1 852.3h0M993.9 850.1h0M983 897.8h0M983.5 831.1h0M965.7 805.8h0M983.7 820.3h0M986.6 894.2h0M947.3 788.5h0M943 850.6h0M1013.8 905.4h0M980.5 791.7h0M962.8 761h0M1023.6 882.1h0M983.9 841.4h0M972.2 821.1h0M948.3 866.7h0M969.5 818.7h0M1007.3 850.4h0M978.4 836.6h0M993.5 917.4h0M974.8 888.8h0M998.4 840.7h0M1018.3 868.8h0M968.2 900.3h0M963 805.3h0M968.2 789.2h0M1011.7 855h0M970.2 860.3h0M1001 884.3h0M969.9 759.9h0M951.5 852.4h0M954 838.3h0M1015.4 862h0M945.5 850.5h0M950.2 776.2h0M979.1 842.2h0M951.2 887.3h0M1001.8 881.6h0M951.7 815.5h0M970 851.7h0M990.1 820.5h0M951.6 829.1h0M1020.2 895h0M996.1 888.8h0M1018.1 911.7h0M972.2 797.9h0M979.2 794.4h0M952.1 836.2h0M949.3 786.8h0M995.6 913.5h0M939.6 820.5h0M947.3 815.1h0M939.8 804.3h0M952.1 864.7h0M962.9 871.3h0M985.5 891.8h0M964.7 892.1h0M958 815.3h0M1018.3 911.4h0M967.2 839.4h0M955.3 852.6h0M1003 855.8h0M991.3 845.4h0M970.3 820.4h0M941.9 808.6h0M943 810.3h0M972.5 848.5h0M953.5 806.4h0M972.1 795.2h0M982.5 804.1h0M1013.2 882.3h0M943.9 780.3h0M968 867.2h0M980 824.8h0M946.8 815.2h0M947.1 875.8h0M952.3 765.7h0M939.6 807.4h0M946.8 808.7h0M1006 892.6h0M970.6 799.7h0M983.9 814.7h0M950.9 882.6h0M957.9 894.9h0M975.5 798.1h0M999 878.3h0M986.9 821.8h0M984.2 803.9h0M1005.9 869.1h0M942.8 859h0M981.5 870.1h0M1008.4 906.6h0M991.2 887.2h0M994.8 913.2h0M955.5 798.9h0M955 824.6h0M959 865.7h0M1001.5 841.1h0M987 815.1h0M948.2 846.3h0M975.7 865.1h0M955.5 880.9h0M948.2 805.2h0M952 768.9h0M950.5 870.7h0M956.6 810.8h0M942 786h0M960.4 776.6h0M941.2 789.4h0M1000.1 905.3h0M977.1 907.8h0M940.4 798.4h0M970.1 882.2h0M966.1 893.5h0M1004.7 883.8h0M981.7 811.2h0M966.6 810.1h0M965.2 797.3h0M991.9 859h0M946.4 837.8h0M941.7 806.9h0M975.6 868.5h0M969 913.2h0M982.9 829.1h0M985.6 895.1h0M959.5 841h0M989.6 828.9h0M978.4 902.8h0M958.2 829.6h0M954.8 790.3h0M942.9 857.7h0M963.6 866.7h0M955.9 835.6h0M966.5 763.7h0M979.1 830.3h0M960.7 818.4h0M964 843.4h0M978.4 777.4h0M998.1 846.3h0M963.5 799.5h0M964.6 799.2h0M944.8 795.3h0M941.3 840.8h0M963.1 824.1h0M1006.9 896.4h0M1022.2 879.4h0M1007.9 873.8h0M994.9 821.5h0M946.1 848.7h0M965.7 882.5h0M971.4 818.4h0M971.6 793.1h0M980.7 857.9h0M950.3 867.3h0M992.5 818.5h0M990.2 873.9h0M1019.5 886.8h0M955.5 866.5h0M973.8 830.2h0M947.7 777.3h0M991.5 886.4h0M988.8 819.8h0M993.7 844.8h0M983.1 909.9h0M978.4 783.3h0M963.5 886.4h0M980.6 889.2h0M992.9 834.8h0M962.6 856.3h0M949.7 852.8h0M969.8 816.6h0M935.9 820.9h0M938.2 851.2h0M967 766.5h0M962.2 802.6h0M963.3 800.9h0M1006.3 881.7h0M966.3 859.8h0M1000 867.5h0M993.8 876.7h0M959.6 814.9h0M956.1 768.9h0M949.9 817.6h0M936.9 814.7h0M987.6 897.6h0M948.7 849.6h0M955.6 769.8h0M1016.6 874.6h0M950.1 851.9h0M975.7 902h0M954.6 763h0M973.1 871.1h0M969.5 896.5h0M990.8 875.8h0M966 898.3h0M978.8 789.2h0M955.3 860.9h0M991.3 862.3h0M959.7 812.9h0M969.8 812.4h0M939.4 800.1h0M1022.5 906.2h0M950.4 874.2h0M974 784.1h0M973.3 826.5h0M979.6 847.4h0M970.2 880.5h0M970.2 831.2h0M962.9 908.7h0M988.1 834.8h0M949.2 773.6h0M1004.1 847.4h0M946.5 817.3h0M956.9 876.4h0M959.5 838.5h0M974.1 886.4h0M1007.2 902.7h0M976 909.3h0M959 799.3h0M974 796h0M1014.9 861.3h0M1009.4 897.3h0M976.4 889.9h0M980.5 854.2h0M1018.1 899.4h0M1017.7 896.3h0M977.2 917.2h0M969.6 774.8h0M977.9 773.6h0M1019.4 873h0M970.1 764.5h0M980.4 868.7h0M944.3 796.1h0M948.5 778.4h0M979.9 827.3h0M960.1 838.8h0M991.5 814.8h0M975.9 899.5h0M944.2 787.4h0M958.2 824.1h0M981.6 863h0M1009.3 868.9h0M967.5 873.2h0M960.7 820.7h0M999 906.3h0M947.8 819.1h0M952.1 883.7h0M991.8 869.5h0M1006 846.4h0M997.7 894.8h0M996.7 917.2h0M1000 877.3h0M973.5 821.8h0M989.3 866.8h0M979.9 845.5h0M970.8 834.4h0M945.1 835h0M993.6 906.5h0M952.7 843h0M990.9 832.4h0M971.9 766.2h0M962.7 889.1h0M955.4 799.2h0M984 886.8h0M980.6 773.3h0M978.7 869.6h0M960.9 886h0M981.1 867.3h0M954.9 797h0M947.9 819.8h0M949.5 849.9h0M968 873.3h0M985.7 895.6h0M977.1 885.1h0M953.5 817.6h0M986.8 824.1h0M969.5 815.2h0M1021.6 906.1h0M994.4 872.3h0M978.2 811.6h0M965.8 819.5h0M960.4 902.4h0M971.5 853.4h0M988.1 892.6h0M991.1 900.6h0M982.6 840.5h0M947.7 876.8h0M1000.4 867.2h0M964 881.5h0M972.4 775.5h0M985.8 848.9h0M946.3 872.2h0M986.7 869h0M979.8 897.7h0M1005.3 841.6h0M953.3 802.9h0M966.5 847.5h0M973.5 767.4h0M969.2 886.6h0M964.1 791.4h0M965.1 818.6h0M996 852h0M958.8 847.6h0M976.1 843.9h0M979.9 810.7h0M984.1 886.7h0M1015.2 907.7h0M1004.6 860.8h0M972.3 848.4h0M963.3 866.3h0M944.5 792.1h0M979.8 883.8h0M1009.4 863.9h0M945.4 868.2h0M1006.7 869.7h0M967 805.9h0M945.4 809.9h0M1014 904.1h0M972.3 914.9h0M949.3 819.6h0M969.4 845.9h0M996.5 874.9h0M960.5 842.9h0M1017.2 878.4h0M994.3 896.4h0M954.2 773.3h0M973.3 901.1h0M998.3 906.1h0M1016.1 912.9h0M965.3 863.5h0M984.6 830.7h0M966.1 806.6h0M983.6 884.4h0M974.4 815.3h0M981.4 785.3h0M966.7 897.9h0M964.5 777.9h0M949.7 778h0M962.1 844.3h0M949.5 790.7h0M978.1 779.5h0M974.7 836.8h0M999.5 868.7h0M943.3 783.7h0M953.6 821.7h0M997 900.7h0M953 883.8h0M997.4 915.3h0M967.9 869.1h0M1019.6 888h0M940.6 824.7h0M967.4 867.1h0M951.5 781.6h0M988.6 835.5h0M1000.8 903.4h0M960.5 893.5h0M955.3 873.2h0M1005.9 912.6h0M1007 877.6h0M998.2 853h0M971.1 883.8h0M1017.8 911.8h0M1012.1 884.3h0M960.3 796.1h0M980.8 796.9h0M971.4 868.1h0M1000.1 883.7h0M976.6 823.8h0M996.8 892h0M948.6 751.6h0M952.1 735.3h0M963.9 750.5h0M954.2 733.8h0M951.3 741.4h0M965.8 733.1h0M965.9 720.9h0M966.6 729.3h0M968.1 730.8h0M963.9 712.3h0M954.3 724.1h0M968.9 736.4h0M950.3 754.3h0M970.7 741.6h0M961 742h0M969.7 735.7h0M959.5 744.4h0M949.8 746.6h0M967.4 727.6h0M963.9 754.2h0M958 739.4h0M955.7 747.4h0M962.1 748.1h0M971.4 744.1h0M955.6 745.7h0M957.4 751.1h0M967.7 753.5h0M954.9 720.3h0M967.3 726.3h0M956.5 757.5h0M956.8 756.7h0M955.1 732.9h0M968.3 730.8h0M966.1 724.8h0M956.4 742.2h0M963.3 734.4h0M957.6 747.7h0M955.9 755.4h0M966.6 741.9h0M969.7 738.9h0M953.6 724.8h0M967.8 744.2h0M961.9 717.5h0M967.1 757.8h0M971.9 748.7h0M958.3 747.2h0M953.3 750.2h0M962 753.3h0M955.6 718.6h0M966.4 731.7h0M958.4 743.7h0M967.7 739.3h0M952.4 749.4h0M960.7 743.9h0M968 754.5h0M970.9 750.9h0M955.5 745.4h0M954 751h0M962.5 722.8h0M958 758.1h0M968.7 745.2h0M962 727.6h0M955.5 718.8h0M965.8 733.2h0M961.8 717.5h0M960.9 728.3h0M949.4 750.3h0M961.2 748.9h0M962.2 732.2h0M958.5 746.4h0M949 624.8h0M938.4 633.5h0M940.8 634.7h0M871.4 650.7h0M936.8 654.7h0M943.1 667.6h0M945.5 668.8h0M917.3 673.5h0M923.2 673.5h0M931.4 673.5h0M954.4 677h0M902.7 685.9h0M943.1 685.2h0M938.4 688.8h0M959.6 691.1h0M970.2 688.8h0M810.3 696.3h0M918.5 693.5h0M927.9 693.5h0M936.1 693.5h0M945.5 693.5h0M962 698.2h0M964.3 705.2h0M904.3 706.4h0M920.8 711.1h0M936.1 709.9h0M945.5 707.6h0M952.6 712.3h0M979.6 711.1h0M910.2 728.7h0M923.2 731.1h0M931.4 729.9h0M940.8 728.7h0M950.2 726.4h0M963.1 731.1h0M971.4 727.6h0M1000.8 737.7h0M897.3 749.9h0M905.5 749.9h0M917.3 751.1h0M926.7 749.9h0M936.1 747.6h0M945.5 745.2h0M954.9 742.8h0M964.3 742.8h0M974.9 740.5h0M902.7 769.9h0M917.3 771.1h0M922 771.1h0M936.1 768.7h0M945.5 764h0M954.9 761.7h0M964.3 759.3h0M978.4 773.4h0M876.1 786.4h0M917.3 789.9h0M923.2 788.7h0M931.4 787.5h0M942 789.9h0M951.4 787.5h0M959.6 785.2h0M970.2 786.4h0M983.1 794.6h0M987.8 794.6h0M911.4 809.9h0M923.2 808.7h0M931.4 806.3h0M940.8 804h0M950.2 801.6h0M959.6 801.6h0M886.7 830.3h0M912.6 829.9h0M929 825.2h0M936.1 821.6h0M924.3 848.7h0M930.2 845.1h0M1011.3 836.9h0M1021.9 854.5h0M936.1 885.1h0M929 866.3h0M947.8 902.7h0M912.6 844h0M919.6 858.1h0M926.7 879.2h0M1016 862.8h0M1018.4 872.2h0" stroke="#a9a9a9" stroke-width="7.6" stroke-linecap="round" fill="none"/>
<path d="M1032.5 879.2h0M1030.2 902.7h0M1029 895.7h0" stroke="#d3d3d3" stroke-width="7.6" stroke-linecap="round" fill="none"/>
<path d="M1059.8 868.6h0M1057.2 896.1h0M1054.7 913.2h0M1088.9 833h0M1060.3 887.1h0M1074.1 838.3h0M1058.2 869h0M1056.5 886.6h0M1096.7 873.1h0M1088.7 890.8h0M1045.7 888.4h0M1094.8 839.8h0M1056 888.4h0M1083.8 853.9h0M1036.9 913.7h0M1096 836.9h0M1045.7 896.1h0M1092.1 830.5h0M1058.7 906.2h0M1045.5 897.8h0M1057.1 873.4h0M1096.7 844.1h0M1092.8 887.3h0M1070.2 861.5h0M1047.1 896.8h0M1085.4 821.7h0M1092.3 856.1h0M1043.2 894.4h0M1041.4 904.1h0M1095.5 850.9h0M1059.8 866h0M1081.3 856.4h0M1081.8 832.3h0M1082.2 875.5h0M1086.3 861.8h0M1082 825.5h0M1056 883.7h0M1068.5 881.5h0M1057.7 876.8h0M1051.2 913.3h0M1073.1 894.6h0M1046.9 890.2h0M1077.7 824h0M1066.2 908h0M1077 908h0M1061 845.2h0M1091.1 891.7h0M1084 887.2h0M1069.1 835.8h0M1087.4 894.5h0M1072.5 872.7h0M1086.1 878.7h0M1085.5 827.7h0M1059.2 847.8h0M1084.2 890.5h0M1046.5 896.8h0M1066.3 881.6h0M1051.6 871.8h0M1085.5 889.1h0M1077.8 830h0M1072.4 892.2h0M1035.8 912.5h0M1089.8 827.5h0M1068.9 876.8h0M1083.4 858.8h0M1072.7 906.6h0M1069.4 906.3h0M1081.3 900.4h0M1063.7 862h0M1072.1 848.7h0M1098.2 829.4h0M1083.2 882h0M1054.5 891.2h0M1063.8 859.2h0M1090.7 851.4h0M1062.5 904.1h0M1073.5 850h0M1055.5 871h0M1075 870.4h0M1076.2 908.7h0M1047.9 885.3h0M1096.4 840.4h0M1088.5 821.7h0M1052.9 913.5h0M1081.5 885.1h0M1054.9 891.3h0M1098.5 840.1h0M1078.1 881h0M1061.1 876.7h0M1071 826.5h0M1060.5 854.5h0M1082.7 885.1h0M1075.3 837.2h0M1073.9 858.9h0M1089.9 889h0M1057.7 852.6h0M1081.8 898.4h0M1054.6 896h0M1092.4 821.4h0M1055.1 875.7h0M1098.7 834h0M1080.4 856.5h0M1062.9 841.4h0M1085.2 900.6h0M1061.6 854.7h0M1059.6 894.6h0M1060.5 869.6h0M1060.1 895.3h0M1051.4 892.4h0M1076.2 841h0M1089.1 880.8h0M1041.1 899.1h0M1073.7 861.7h0M1048.8 887.4h0M1061.3 865.6h0M1055 861.9h0M1097.3 854.4h0M1058 872.6h0M1086.3 890.4h0M1056.5 869.8h0M1042.7 901.8h0M1054.4 863.8h0M1061 863.1h0M1050.1 882.8h0M1042.7 913h0M1072 868.9h0M1054 890.1h0M1081.4 867.4h0M1073.2 909.4h0M1085.5 837.5h0M1047.5 905.3h0M1075.2 823.8h0M1066.6 875.3h0M1092.1 884.3h0M1081.4 842.4h0M1078.7 909.6h0M1087.8 878.9h0M1097.4 863.4h0M1072.2 850.7h0M1063 883.3h0M1082.9 844.7h0M1055.1 887.4h0M1083.5 834.5h0M1048.8 875.1h0M1084.2 842.5h0M1093.9 863h0M1093 882.7h0M1095.7 858.8h0M1077.3 830.2h0M1063.5 902.3h0M1070.6 900.3h0M1060.6 868.7h0M1085.1 882.4h0M1096 838.6h0M1081.9 874.1h0M1075.2 844.5h0M1051.6 869.7h0M1066.1 890.2h0M1044.2 883.7h0M1084.8 865.2h0M1093.5 881.4h0M1062.9 894.3h0M1053.4 910.5h0M1075.6 842.3h0M1050.5 882.8h0M1072.4 841.4h0M1081.9 823.8h0M1080 860h0M1051.8 909.1h0M1051.9 886.7h0M1083.1 865.8h0M1098.1 835.6h0M1074.1 892.6h0M1094.2 880.1h0M1093.1 848.7h0M1090.5 877h0M1046.5 875.8h0M1061.3 870.8h0M1075.2 827h0M1054.9 885.9h0M1099.9 845.4h0M1093.9 822.3h0M1049.7 911.7h0M1069.1 869.6h0M1052.7 865.5h0M1072.2 828.3h0M1058.4 879.1h0M1058.2 894.9h0M1095.4 866.7h0M1054.3 873.2h0M1079.9 885.6h0M1070.2 895.9h0M1052.3 896.1h0M1056.2 873.6h0M1078.5 875.2h0M1077.8 843.1h0M1049 870.6h0M1057.3 888.6h0M1076 880.6h0M1051.8 905.3h0M1052 882.8h0M1087 898.2h0M1056.8 895.2h0M1073.6 888.3h0M1084.4 828.8h0M1047.6 903h0M1084 831.7h0M1079.1 854.6h0M1044.9 893.4h0M1065.8 856.9h0M1060.1 883.3h0M1087.8 865.3h0M1096.8 855.4h0M1041.4 908.3h0M1064.5 863.3h0M1058.4 906h0M1048.5 878.7h0M1064.1 891.1h0M1072.2 828.5h0M1048 911.1h0M1046.9 892.7h0M1085.3 827.1h0M1048.2 898.8h0M1058.7 892.4h0M1098.1 832h0M1090.9 831.5h0M1069.3 877.3h0M1049.3 887.8h0M1067.7 852.3h0M1089.5 850.7h0M1074.8 852.6h0M1068.5 897.7h0M1094.3 877.5h0M1058.3 897.5h0M1071.9 855.7h0M1096.1 830.8h0M1094.4 859.1h0M1088.5 891.5h0M1083.8 888.9h0M1075.8 844.3h0M1065.7 899.4h0M1071.7 852.1h0M1081.8 899.8h0M1075.2 890.5h0M1064.2 872h0M1085.2 894.1h0M1072.1 840.6h0M1069.5 829.9h0M1044.4 895.4h0M1078.1 839.1h0M1056.3 895.9h0M1068.8 879.9h0M1051.9 905.1h0M1043.5 902.7h0M1072.5 875.7h0M1093.1 866h0M1062.4 883h0M1089.9 885.9h0M1072.5 861.1h0M1093.4 829.1h0M1052.2 894.6h0M1053.2 890.5h0M1085.7 861.2h0M1050.1 907.9h0M1065.1 851.4h0M1081.3 871.9h0M1066.6 914.5h0M1091.5 872.3h0M1081.6 840h0M1075.7 910.3h0M1079 873.1h0M1071 896h0M1077.2 844.8h0M1053 868.7h0M1088 821h0M1054.9 890.8h0M1078.6 869h0M1064 905.5h0M1078.9 888.2h0M1085.6 887.3h0M1078.5 907.5h0M1055 862.1h0M1048 895.4h0M1099.1 863.7h0M1067.4 852.1h0M1078.4 839.2h0M1053.3 878.6h0M1069.8 841h0M1065.5 850.2h0M1097.7 865.6h0M1072.9 866.2h0M1068.9 839.1h0M1089.2 836.4h0M1050.6 911.4h0M1085 860.4h0M1093.6 857.3h0M1089.9 874.3h0M1074.5 889h0M1056.3 907h0M1086.4 848.5h0M1049.7 889.6h0M1090.7 854.9h0M1063.2 875.9h0M1053.7 909.3h0M1096 837.6h0M1057 895.7h0M1067.8 865.6h0M1062.2 904.6h0M1057.8 907.9h0M1083.4 851.7h0M1059.8 894.4h0M1095.9 856.9h0M1064.2 871.1h0M1074.2 897.7h0M1073.4 822.5h0M1052 896.2h0M1091.1 825.9h0M1090.8 888.2h0M1051.2 872.3h0M1045.5 907.5h0M1061.6 890.8h0M1091.4 891.3h0M1074.8 824h0M1053 879.7h0M1088.1 837.5h0M1076.5 911.6h0M1064 861.3h0M1042.1 914h0M1076.9 837.4h0M1069.2 889.8h0M1066 884.5h0M1063.8 894.8h0M1053.9 903.3h0M1065.6 901.3h0M1079.1 833.8h0M1084.3 885.4h0M1041.3 894.4h0M1074.6 895.5h0M1067.3 874.1h0M1050.8 907.8h0M1095.6 855.9h0M1082.5 895h0M1048 913.6h0M1072.7 891.7h0M1095.1 866.4h0M1080.4 891.6h0M1076.3 874.4h0M1072 830.1h0M1072.6 902.4h0M1086.4 844.6h0M1090.5 829.6h0M1073.1 840.6h0M1090.5 860.6h0M1085.5 891.8h0M1086.8 864.9h0M1053.8 871.3h0M1057.4 880.4h0M1064.1 897.1h0M1059.2 904.5h0M1085.9 864.6h0M1093.1 837.9h0M1083.3 831.7h0M1097.3 852.1h0M1062.4 865h0M1077.8 906.3h0M1084.8 878.1h0M1088.6 879.8h0M1095.2 862.2h0M1078 896.2h0M1093.3 842.3h0M1055.2 872.6h0M1082.8 833.3h0M1082.4 845.6h0M1049.9 892.1h0M1082.4 903.8h0M1059.2 912.8h0M1058.7 911.4h0M1066.5 850h0M1087.3 832.1h0M1081.7 873.4h0M1088.9 880.1h0M1074.7 883.5h0M1086 826.5h0M1067.6 839.8h0M1072.9 899.2h0M1043.7 884.2h0M1097.4 825.1h0M1058.1 849.9h0M1046.4 875.9h0M1093.7 839.5h0M1097 868.9h0M1056.5 858.5h0M1074.7 845.9h0M1094.9 882.7h0M1061.4 913.9h0M1093.1 872.3h0M1067 844.4h0M1092.7 834.5h0M1085 835.5h0M1074.5 873.2h0M1083.5 795h0M1083.9 800.8h0M1088.2 804.6h0M1084.3 816.2h0M1077.1 818.5h0M1082.5 796.4h0M1084.4 805.5h0M1076.4 818.8h0M1089.9 802.5h0M1077.8 812.8h0M1087.7 795.8h0M1086.6 811.3h0M1087.7 803.3h0M1077.8 813.1h0M1087.3 811.9h0M1083.3 794.7h0M1086.5 799.7h0M1078.8 820.3h0M1082.4 811.9h0M1077.7 812.4h0M1074.9 820.2h0M1079.2 807.6h0M1040.7 746.4h0M1093.2 774.6h0M1084.2 787.5h0M1090.1 788.7h0M1098.3 788.7h0M1120.7 802.8h0M1123 807.5h0M1080.7 807.5h0M1091.3 802.8h0M1046.6 822.8h0M1047.8 829.9h0M1107.7 829.9h0M1114.8 844h0M1153.6 852.2h0M1106.6 860.4h0M1100.7 907.5h0M1037.2 874.5h0M1044.3 860.4h0M1053.7 855.7h0M1096 822.8h0M1088.9 822.8h0" stroke="#87ceeb" stroke-width="7.6" stroke-linecap="round" fill="none"/>
<line x1="797" y1="914.2" x2="1172" y2="914.2" stroke="#000" stroke-width="3" stroke-dasharray="3.4 8.4" stroke-dashoffset="0"/>
<path d="M877.3 712.3L936.1 796.9M996.8 711.1L986.6 796.9M1074.8 739.3L1017.2 872.2M877.3 752.3L938.4 821.6M1021.9 784L999.6 851M887.9 801.6L936.1 842.8M882 848.7L950.2 883.9M885.5 882.8L964.3 903.9M1098.3 889.8L1020.7 901.6M920.8 922.7L969 909.8M969 923.9L980.8 914.5M1007.8 927.4L997.2 918M1061.9 928.6L1018.4 907.5" fill="none" stroke="#a6a6a6" stroke-width="2.4"/>
<text x="831.4" y="708.7" font-size="28">Pcna</text>
<text x="974.9" y="707.6" font-size="28">Msh3</text>
<text x="1032.5" y="732.3" font-size="28">Hmgb1</text>
<text x="822.7" y="754.6" font-size="28">Rfc1</text>
<text x="998.4" y="778.1" font-size="28">Rfc5</text>
<text x="818.5" y="808.7" font-size="28">Msh6</text>
<text x="940.3" y="834.6" font-size="28">Pold4</text>
<text x="812.6" y="852.2" font-size="28">Pms1</text>
<text x="813.3" y="892.2" font-size="28">Pold3</text>
<text x="958.4" y="892.2" font-size="28">Msh2</text>
<text x="1099.5" y="895.7" font-size="28">Pms2</text>
<text x="860.4" y="934.5" font-size="28">Rfc2</text>
<text x="928.6" y="946.3" font-size="28">Mlh1</text>
<text x="990.2" y="947.5" font-size="28">Exo1</text>
<text x="1065.4" y="943.9" font-size="28">Rpa2</text>
<rect x="795.3" y="590.2" width="378.6" height="364.9" fill="none" stroke="#000" stroke-width="3.4"/>
<line x1="789.8" y1="605.9" x2="795.3" y2="605.9" stroke="#333" stroke-width="3"/>
<text x="788.3" y="615.4" font-size="26" text-anchor="end">5</text>
<line x1="789.8" y1="689.4" x2="795.3" y2="689.4" stroke="#333" stroke-width="3"/>
<text x="788.3" y="698.9" font-size="26" text-anchor="end">4</text>
<line x1="789.8" y1="773" x2="795.3" y2="773" stroke="#333" stroke-width="3"/>
<text x="788.3" y="782.5" font-size="26" text-anchor="end">3</text>
<line x1="789.8" y1="855.9" x2="795.3" y2="855.9" stroke="#333" stroke-width="3"/>
<text x="788.3" y="865.4" font-size="26" text-anchor="end">2</text>
<line x1="789.8" y1="938.4" x2="795.3" y2="938.4" stroke="#333" stroke-width="3"/>
<text x="788.3" y="947.9" font-size="26" text-anchor="end">1</text>
<line x1="803" y1="955.1" x2="803" y2="963.1" stroke="#333" stroke-width="3"/>
<text x="808" y="989.1" font-size="26" text-anchor="middle">-7.5</text>
<line x1="879.2" y1="955.1" x2="879.2" y2="963.1" stroke="#333" stroke-width="3"/>
<text x="884.2" y="989.1" font-size="26" text-anchor="middle">-5.0</text>
<line x1="955.7" y1="955.1" x2="955.7" y2="963.1" stroke="#333" stroke-width="3"/>
<text x="960.7" y="989.1" font-size="26" text-anchor="middle">-2.5</text>
<line x1="1031.5" y1="955.1" x2="1031.5" y2="963.1" stroke="#333" stroke-width="3"/>
<text x="1036.5" y="989.1" font-size="26" text-anchor="middle">0.0</text>
<line x1="1107.7" y1="955.1" x2="1107.7" y2="963.1" stroke="#333" stroke-width="3"/>
<text x="1112.7" y="989.1" font-size="26" text-anchor="middle">2.5</text>
<text x="758.5" y="774" font-size="33" text-anchor="middle" transform="rotate(-90 758.5 774)">-log10(FDR)</text>
<text x="1492.5" y="551.5" font-size="33" text-anchor="middle">H3K4me3</text>
<text x="1303" y="579" font-size="29" textLength="153" lengthAdjust="spacingAndGlyphs">sgScramble</text>
<text x="1514" y="579" font-size="29" textLength="166" lengthAdjust="spacingAndGlyphs">sgKdm6a C1</text>
<text x="1473" y="1018" font-size="33" text-anchor="middle">log2FC</text>
<line x1="1508.9" y1="590" x2="1508.9" y2="955" stroke="#a0a0a0" stroke-width="2.8" stroke-dasharray="3.4 10.7" stroke-dashoffset="0"/>
<line x1="1520.2" y1="590" x2="1520.2" y2="955" stroke="#87ceeb" stroke-width="2.8" stroke-dasharray="3.4 10.7" stroke-dashoffset="0"/>
<path d="M1461.9 862.4h0M1447.1 799.3h0M1429.5 829.7h0M1434.2 771.8h0M1437.8 758.2h0M1390.5 769.5h0M1423.8 847.9h0M1456.4 866.7h0M1418.4 796.8h0M1431.9 751.2h0M1435.8 895h0M1433.9 896.2h0M1390.7 814.1h0M1442 757.7h0M1505.8 917h0M1456.1 881.8h0M1505.7 912.4h0M1435.2 845.1h0M1421.8 831.2h0M1411.7 835.8h0M1423.3 796.9h0M1405.9 820.5h0M1452.3 839.4h0M1443.1 868.1h0M1423.3 792.2h0M1419.8 813.2h0M1441.1 868.9h0M1441.3 872.7h0M1415.9 810.4h0M1426.8 876.6h0M1433.7 789.6h0M1454 863.5h0M1412.5 796.1h0M1466.4 838.2h0M1441 884.9h0M1436.3 768.7h0M1414.4 832h0M1460 831.9h0M1452.6 892.3h0M1463.5 820.9h0M1405.7 781.2h0M1455.6 904.6h0M1449 821.9h0M1456.7 813.2h0M1436.5 824h0M1414.5 793.2h0M1417.7 813.9h0M1459.9 877.7h0M1402.8 854.9h0M1425.5 863.2h0M1451.4 784h0M1427.8 789.6h0M1411.7 804.4h0M1439.1 858.2h0M1407.7 771h0M1458.1 820.1h0M1403.5 790.7h0M1401.6 848.6h0M1435.6 883.6h0M1482.3 880.2h0M1403.6 759.7h0M1461.9 854.9h0M1455 842.2h0M1437.2 768.1h0M1401.7 765.8h0M1397.4 751h0M1427.3 812.2h0M1424.6 798.9h0M1476.7 914.5h0M1457.7 833h0M1411.5 785.6h0M1430 806.6h0M1457.4 798h0M1438.3 812.3h0M1420.1 839.4h0M1450.6 891.7h0M1465.6 910.4h0M1432.8 777.6h0M1410.3 825.1h0M1473 882.5h0M1392.3 813.2h0M1435.4 787.3h0M1438.3 863.4h0M1432.2 783.6h0M1451.5 866.4h0M1397.7 773.3h0M1435.6 835.7h0M1428.8 773h0M1433.2 773.1h0M1453.5 841.8h0M1430 846h0M1471.3 889.2h0M1461.2 811.4h0M1427.5 887.9h0M1467.8 852.8h0M1458.3 912.9h0M1477.7 891.8h0M1460.7 837.5h0M1443.3 824.1h0M1411 839.5h0M1430.9 900.6h0M1393.6 806.8h0M1412.8 854.8h0M1455.1 799.5h0M1500 901.8h0M1413.6 824.1h0M1485.3 905.3h0M1453.4 788.6h0M1459.7 842.8h0M1418.2 774.6h0M1429.5 881.8h0M1489.9 910.3h0M1467.6 889.4h0M1407.1 816.7h0M1472.9 909.9h0M1450.1 834.3h0M1436.1 875h0M1438.8 785.6h0M1441 860.5h0M1419 776.3h0M1409.8 835.2h0M1465.6 871.2h0M1429.2 766.4h0M1436.7 831.1h0M1385.6 787h0M1473.7 883.9h0M1442.5 842.8h0M1406.3 771.5h0M1470.7 894.7h0M1464.6 886.7h0M1443.6 909.7h0M1402.9 819.4h0M1413.9 787.5h0M1426.4 775.5h0M1424.3 782.3h0M1454.1 824h0M1441.1 783.9h0M1413.5 845.8h0M1465 881h0M1433.1 788.7h0M1394.8 812.7h0M1413.5 858h0M1404.2 842.5h0M1425.7 890.7h0M1404.2 792.1h0M1404.3 765h0M1414.2 800.7h0M1424.2 882.2h0M1409.6 787.9h0M1439.2 768.7h0M1446.1 916.9h0M1476.8 877h0M1396.3 816.1h0M1467.1 908.9h0M1453.6 823.6h0M1423.9 830.1h0M1474.3 899.4h0M1439 844.1h0M1449.5 791.5h0M1444.4 763.9h0M1484.3 913.9h0M1435.5 856.1h0M1435.4 772.5h0M1454.3 872.2h0M1405 860.3h0M1436.7 824.3h0M1438 806.8h0M1408.7 798.5h0M1405.1 841.7h0M1475 872.7h0M1412.3 754.8h0M1421.5 780.6h0M1430.3 819.9h0M1415.1 800.7h0M1463.6 823.3h0M1449.6 804.3h0M1411.5 816.3h0M1417.1 768.9h0M1456.4 896.5h0M1423.9 878h0M1464.2 837.3h0M1468.3 900.4h0M1424.6 820.1h0M1473 903.5h0M1472.3 869.2h0M1434.9 768.8h0M1398.7 753.8h0M1405.2 829.6h0M1392.1 787.7h0M1395.4 783.1h0M1437.1 887.7h0M1388.9 790.8h0M1476.5 874.5h0M1454.9 818.8h0M1433.1 767.4h0M1419 848.7h0M1426.9 833.6h0M1408 797.6h0M1391.9 796.5h0M1433.4 884.4h0M1420.8 769.8h0M1437.3 870.7h0M1496.9 899.6h0M1493.4 908.1h0M1472.4 852.8h0M1442.7 858.7h0M1429.6 779.9h0M1437.1 783h0M1394.5 766.6h0M1444.4 830h0M1447.1 757.8h0M1418.4 815.9h0M1452 866.8h0M1429.3 817.8h0M1455 782h0M1411.5 828.3h0M1476.1 874.6h0M1439.5 889.7h0M1437.5 882.1h0M1452 812.1h0M1434.3 891.6h0M1400.5 776.6h0M1399.7 806.8h0M1467.6 870.3h0M1410.4 805.5h0M1386.4 795.3h0M1393.9 823.3h0M1425 894.4h0M1455.6 910.9h0M1431.7 754.7h0M1416.3 847.8h0M1413.7 798.5h0M1451.1 915.8h0M1470.4 892.2h0M1455.8 885.8h0M1455.4 886.3h0M1399.8 795h0M1462 868.9h0M1467.8 855.5h0M1441.1 886.3h0M1439.7 905.5h0M1457.3 806.2h0M1469.8 858.4h0M1446.7 880.5h0M1420.6 877.4h0M1418.8 854.1h0M1414.3 864.8h0M1409.1 773.3h0M1439.3 825h0M1417.9 779.7h0M1414.8 753.6h0M1497.2 909.9h0M1431.6 880.8h0M1416.2 801.5h0M1425.8 858.4h0M1386.3 784.4h0M1415.3 766.3h0M1486 890.3h0M1460.5 890.3h0M1406.4 752.7h0M1440.1 854.2h0M1420 813.3h0M1440.2 767.7h0M1442.9 850.5h0M1473.4 877.2h0M1469.5 861.6h0M1413.5 791.9h0M1432.4 800h0M1457.1 806h0M1438.7 845.2h0M1474.6 916.3h0M1467.5 842.8h0M1446.8 854.7h0M1465.3 839.7h0M1440.6 752.9h0M1391.4 760.6h0M1419.9 858.8h0M1442.3 814.3h0M1419.8 838.9h0M1455.3 848.6h0M1473.1 909.5h0M1449.7 815h0M1441 779.8h0M1453.1 906.8h0M1406.8 832.9h0M1458.7 891h0M1456.3 905.5h0M1407 776.6h0M1415 867.6h0M1427.6 884.4h0M1434.7 887.6h0M1450.7 907.5h0M1471.8 888.5h0M1471.5 879.7h0M1499.4 915h0M1480.9 904.4h0M1445.5 864.9h0M1426.2 796.6h0M1447.9 773.2h0M1435.2 791.1h0M1438.8 771h0M1407.8 801.8h0M1470.2 879.4h0M1410.3 777.3h0M1432 897.5h0M1458.3 876.3h0M1430.7 764.5h0M1456.9 896.5h0M1404.9 755.8h0M1469.6 882.3h0M1405.4 839.4h0M1411.4 814.9h0M1433.3 874h0M1433.5 797.8h0M1461.6 830.8h0M1475.1 907.4h0M1442.4 894.6h0M1438.2 767.8h0M1455.9 776.7h0M1455.7 830.9h0M1436.9 899.5h0M1468.3 856.9h0M1440.4 860.8h0M1420.9 798.6h0M1496.7 902.9h0M1404.5 830.4h0M1494.5 904.4h0M1475.4 887.4h0M1419.7 786.3h0M1450.4 819.2h0M1477.9 872.6h0M1415.8 787.5h0M1466.8 846.9h0M1409.6 856.3h0M1425.3 762.1h0M1422.6 819.7h0M1427.8 779.3h0M1414.8 841.2h0M1420.5 803.3h0M1455.2 914.1h0M1410.7 759.6h0M1431.8 881.2h0M1452.1 880.9h0M1401 839.6h0M1431.2 862.1h0M1453.1 904h0M1429.7 761.8h0M1421.2 788.1h0M1427.1 756.3h0M1403 797.2h0M1444.2 781.6h0M1418.9 826.3h0M1462.5 885.3h0M1405 816.2h0M1477.1 913.2h0M1426.2 857.2h0M1386.4 789.1h0M1450.3 824.8h0M1424.6 870.6h0M1457.6 868.2h0M1431.4 809h0M1413.4 755.6h0M1428.5 879.1h0M1467.3 881.5h0M1451 832.3h0M1385.5 787h0M1442.4 793.8h0M1454.6 856.9h0M1442.3 862.3h0M1413.8 850.4h0M1394.1 802.5h0M1431.6 808.8h0M1393.8 779.5h0M1418.8 876h0M1405.5 792.6h0M1437.9 797.9h0M1466.4 844.3h0M1460.5 910.3h0M1419.5 804.2h0M1487.7 900.6h0M1454.1 802.2h0M1394.2 796.1h0M1403 811.9h0M1418.6 792.4h0M1444.6 801.5h0M1473.1 871.5h0M1449 882.7h0M1453.8 805.6h0M1467 852.2h0M1476.4 898.7h0M1447 790.4h0M1438.2 809.1h0M1416.2 782.7h0M1490.7 914.6h0M1397.4 757.5h0M1397.8 775.5h0M1459.3 883.3h0M1439.5 894.4h0M1477.6 878.3h0M1459.4 807h0M1454.7 808h0M1453.7 784h0M1439.1 770.2h0M1418.8 875.7h0M1492.9 910.6h0M1456.7 871.4h0M1395.1 819.2h0M1491.5 906.4h0M1416.1 829.3h0M1432.3 841.6h0M1474 863.7h0M1434.8 764.4h0M1466.8 851.8h0M1452.4 823.8h0M1454.7 796.6h0M1395.7 795.8h0M1457.8 916.7h0M1432.5 775.1h0M1428.5 847.9h0M1465.4 908.6h0M1425.4 891.1h0M1440.8 866.7h0M1442.2 774.8h0M1415.1 772.6h0M1419.8 795h0M1466.5 858.7h0M1467.6 836h0M1409.5 786.5h0M1418.3 802.9h0M1445.4 831.5h0M1430.6 872.5h0M1448.2 872.3h0M1411.5 850h0M1448.3 808.1h0M1455.2 913.9h0M1436.8 768.4h0M1439.8 858.8h0M1444.4 844.5h0M1438.6 860.1h0M1421.7 877h0M1424.1 821.7h0M1425.7 844.3h0M1463.5 821.9h0M1434.6 765.7h0M1434.6 816.6h0M1390.9 811.9h0M1410 798.3h0M1438.9 890.3h0M1439.4 867.2h0M1449.4 815.3h0M1432.9 894.8h0M1418.1 870h0M1393.7 760.7h0M1450.6 885.7h0M1443.2 853.5h0M1460.2 820.9h0M1425.6 872.5h0M1412.6 807.8h0M1406.3 824h0M1474.6 870.8h0M1479.5 909.5h0M1428.8 769.1h0M1404.6 857.2h0M1398 771.3h0M1454.1 801.7h0M1438.3 836.6h0M1397.2 796.6h0M1453.2 794.3h0M1394.9 778.2h0M1414.3 786.3h0M1445.7 877.4h0M1457.4 816.8h0M1410.9 821.6h0M1488.1 913.9h0M1400.4 814.3h0M1475.9 898.4h0M1408.9 827.5h0M1434.4 780.2h0M1448.4 841.3h0M1411.8 822.9h0M1425.6 785.9h0M1409.4 805.2h0M1444.9 797.4h0M1476.4 882.3h0M1406.4 859.8h0M1423.1 778h0M1449 887.9h0M1441.2 791h0M1461.4 807.6h0M1394.2 793.4h0M1466.7 859.6h0M1401.2 800.2h0M1422.7 857.9h0M1459.3 796.1h0M1411 757.8h0M1452.6 781.8h0M1432.1 792h0M1416.3 860.3h0M1438.2 896.6h0M1420.7 791h0M1462.1 843h0M1454.6 828.8h0M1399.6 753.7h0M1409.1 851.2h0M1437.8 799.7h0M1440.1 768.7h0M1440 818.8h0M1399.6 803.9h0M1419.7 817.8h0M1426.3 842.7h0M1440.1 884.2h0M1500 906.4h0M1467.7 878.4h0M1416.4 846.2h0M1427.6 804.4h0M1439.9 767.5h0M1438.8 883.5h0M1434.5 774.9h0M1401.3 812.6h0M1475.4 889.5h0M1426.5 807.3h0M1435.9 875.1h0M1466.8 866.4h0M1438.1 877.5h0M1445.5 796.3h0M1401.2 801.6h0M1495.5 911.6h0M1435.4 838.9h0M1398.5 819.1h0M1441.4 904.2h0M1461.8 862.9h0M1409.5 866.2h0M1435.1 752.4h0M1440.1 776.1h0M1449.5 776.7h0M1444.8 875.4h0M1444.3 797h0M1457 864.2h0M1421.2 831.9h0M1458.2 897.8h0M1435.8 844.6h0M1501.2 910.9h0M1467.5 869.8h0M1436 775.5h0M1486.7 888.1h0M1411.7 858.9h0M1409 763.4h0M1391.3 794.2h0M1470 902.4h0M1437.2 824.8h0M1459.6 808.5h0M1414.5 871.9h0M1395 771.3h0M1387.2 787.6h0M1425.1 796.3h0M1428.5 800.8h0M1452.6 850.3h0M1439 865.7h0M1396.8 828.1h0M1407.5 828.4h0M1482 894.2h0M1431.4 886.9h0M1459.2 795.9h0M1410.6 769.2h0M1397.2 808.9h0M1482.8 891.5h0M1400.9 805.6h0M1496.7 911.8h0M1434.4 761.1h0M1453.5 767.9h0M1414.7 839.9h0M1412.4 794.6h0M1467 847h0M1482.9 897h0M1444.7 753.7h0M1428.7 793.1h0M1433.6 790.1h0M1410.7 762.5h0M1455.9 774.6h0M1471.3 884.1h0M1476.6 912.5h0M1459.1 796.5h0M1468.4 872.5h0M1453.9 818.9h0M1387.2 783.9h0M1407 840.3h0M1445 904.5h0M1423.3 819.3h0M1431.2 751.1h0M1442 772.6h0M1436.7 894.5h0M1400.9 850.6h0M1435.7 822.6h0M1446.2 914.3h0M1421.7 866.6h0M1423 804.8h0M1435.4 777.7h0M1401.3 804.7h0M1417.3 767.6h0M1484.9 903.9h0M1413.5 862.4h0M1434.5 852.8h0M1438.6 829.5h0M1426.3 821.3h0M1469.3 842.4h0M1413.2 843.6h0M1419.5 855.9h0M1423 816h0M1417.7 859.5h0M1393.5 808.3h0M1442.4 801.7h0M1449.8 855.9h0M1394.4 750.9h0M1431.2 822.7h0M1463.3 856.2h0M1418.2 819.7h0M1419.9 854.1h0M1432.4 880.8h0M1424.8 804.2h0M1426.3 756.7h0M1471.1 885.6h0M1421.8 815.8h0M1484.3 904h0M1408.8 867.5h0M1463.3 889.3h0M1455.8 802.8h0M1421 839.4h0M1461.3 808.9h0M1429.8 901.4h0M1445.2 820.3h0M1472 885.7h0M1392.8 770.8h0M1456.8 891.2h0M1394.3 789.8h0M1460.9 804.9h0M1450.7 819.9h0M1491.2 911.4h0M1410.5 788.4h0M1472.3 915.6h0M1432.9 833.4h0M1442.3 878.7h0M1472.8 874.9h0M1442 802.2h0M1439.1 846.3h0M1408.3 763.4h0M1435.4 771.2h0M1424.1 872.7h0M1452 871.1h0M1414.5 788.6h0M1450.2 795.5h0M1414.2 856.2h0M1389.9 794.7h0M1422.6 801.1h0M1475.7 902.5h0M1425.3 848.3h0M1424.5 882.9h0M1395.1 787.7h0M1391.9 753.9h0M1400.8 793.8h0M1405.7 751h0M1414.4 804.7h0M1450 804.7h0M1410.8 873.9h0M1419.1 789.6h0M1450.3 784.9h0M1424.8 771h0M1428.6 770.2h0M1448.7 863.1h0M1391.5 813.7h0M1482 890.4h0M1399.5 763.3h0M1452.5 808.4h0M1445.5 887.4h0M1475.2 906.9h0M1431.7 863h0M1399.6 767.3h0M1430.5 773.3h0M1463.3 857h0M1449.1 876.2h0M1396 778.9h0M1444.6 763.5h0M1419 860.2h0M1401 849.4h0M1426.9 766.3h0M1403.8 764h0M1423.6 849h0M1465.7 908.6h0M1468.4 840.8h0M1463.3 879.1h0M1454.5 912.7h0M1414.4 845.5h0M1463.9 881.1h0M1446.3 832.3h0M1462.1 917.4h0M1471.2 862.3h0M1395.2 825.2h0M1416.6 829.1h0M1391.9 768.2h0M1410.4 779.3h0M1423.4 834.1h0M1424.8 772.9h0M1464 912.6h0M1424.2 803.9h0M1426.3 883.5h0M1414.5 785h0M1422.9 814.9h0M1444.7 846.7h0M1423.5 849.9h0M1401.1 839.8h0M1455.9 875h0M1413.3 798h0M1402.2 796.6h0M1458.9 795.8h0M1440.5 769.9h0M1438 763.2h0M1415.9 869.6h0M1484.7 899.2h0M1429 829.4h0M1422.4 793.6h0M1442.4 758.9h0M1408.9 846.4h0M1402.3 830.8h0M1439.5 794.6h0M1458.2 835.6h0M1440.1 909.9h0M1442.4 896.2h0M1426.5 773.5h0M1404 827.4h0M1429.9 870.5h0M1417 762.1h0M1452.8 793.5h0M1453.6 773.7h0M1435.2 899h0M1450.9 826.8h0M1456.4 781.7h0M1397.2 752.6h0M1475.9 875.9h0M1402.1 787.9h0M1394.7 758.6h0M1416.9 815.5h0M1444.3 870.3h0M1438.7 840.7h0M1453.8 825.1h0M1413.3 866h0M1428.2 759.4h0M1478.7 894.9h0M1481.7 877.9h0M1415.2 850.6h0M1429.2 772.3h0M1425.2 893.8h0M1458.2 913h0M1479.1 895.3h0M1471.5 900.3h0M1425.8 751.6h0M1422.2 879.3h0M1391.3 787.8h0M1440.2 768.4h0M1466.9 841.8h0M1439.5 847.6h0M1453.2 893.4h0M1443.9 857.2h0M1440.6 804.3h0M1409.2 754h0M1433.4 850.6h0M1420 855.7h0M1411.7 835.8h0M1438.1 878.3h0M1452.5 793h0M1439.1 907.2h0M1463.2 856.1h0M1436.3 864h0M1431.1 864.6h0M1456 882h0M1404.3 767.8h0M1424 755.9h0M1498.4 904.9h0M1414.6 828.9h0M1429.5 828.1h0M1403.2 751h0M1435.4 854.7h0M1438.6 905.4h0M1425.4 755.7h0M1405.7 859.5h0M1437.4 826h0M1443.9 758h0M1448.1 841.6h0M1478.7 905h0M1449.8 885.4h0M1428.7 885.9h0M1425.9 895.1h0M1448 761.2h0M1408.4 853.7h0M1422.2 846.8h0M1388.7 775.5h0M1468 860.2h0M1473.5 878.8h0M1432.4 841.3h0M1399.5 764.2h0M1504.1 914.9h0M1443.1 832.8h0M1426.7 869.1h0M1409.1 820.8h0M1432.3 777h0M1449.3 761.7h0M1408.3 795.2h0M1444 764.9h0M1463.1 880.4h0M1448.9 854.3h0M1446.5 837.7h0M1445 772.1h0M1449.2 845.5h0M1435.1 832.8h0M1393.6 754.3h0M1488.3 916.9h0M1405.6 777h0M1459 885h0M1468.8 874.4h0M1457.7 841.2h0M1412.3 793.1h0M1444 865.1h0M1451.6 897.5h0M1440.7 865.2h0M1435.4 793.8h0M1455.4 807.5h0M1475.4 912.6h0M1392.2 768h0M1450.7 834.3h0M1458.4 811.3h0M1487.8 893.5h0M1433.2 858.5h0M1462.8 852.2h0M1429.3 900.1h0M1459.9 880.6h0M1445.2 763h0M1461.5 811.4h0M1389.9 783.2h0M1408.6 844.3h0M1483.8 888.5h0M1465.9 870.3h0M1463.5 885.2h0M1408.8 780.4h0M1444.1 894h0M1447.5 916.5h0M1458.5 805.3h0M1452.6 810.5h0M1428.3 839.6h0M1414 827.4h0M1406.2 838.3h0M1442 775h0M1461 822.7h0M1388.8 773.6h0M1421.6 859.1h0M1424.2 821h0M1430.3 820.4h0M1399.8 797.5h0M1410.3 772.7h0M1456 871h0M1411.8 811.4h0M1431.8 822.9h0M1416.4 797.5h0M1439.2 868.8h0M1444.6 843.6h0M1400.9 822.2h0M1398.4 775.1h0M1468.5 861.1h0M1398.9 789.7h0M1426.3 774.7h0M1435.6 792.6h0M1440.6 822.2h0M1419.7 824.2h0M1481.1 908.6h0M1443.8 765.4h0M1427.9 812.9h0M1395 792.7h0M1473.2 865.3h0M1504.8 911.3h0M1430.8 890.5h0M1483.2 913.5h0M1431.5 854.1h0M1404.9 774.9h0M1425.7 771h0M1466 896.9h0M1401.2 796.8h0M1426.1 858.7h0M1421.7 764h0M1432.3 887.2h0M1404 801.6h0M1407.8 856.4h0M1415 868.9h0M1422.7 829.6h0M1433.9 843.6h0M1419 847.4h0M1446.1 781.8h0M1431 813.8h0M1438.8 784h0M1386.7 777.8h0M1428.4 754.3h0M1404.6 860.8h0M1498.2 910.6h0M1423.9 830.1h0M1402.5 763.1h0M1455.2 867.8h0M1469.3 853.7h0M1416 799.9h0M1481.9 899.9h0M1465.3 850.8h0M1438.7 807.1h0M1452.5 890.8h0M1439.2 816.6h0M1398.7 840.7h0M1397.3 752.8h0M1480.9 891.2h0M1440.8 788.2h0M1447.2 863.7h0M1433.9 842.9h0M1426.5 840.7h0M1454.7 865.8h0M1471.9 905.6h0M1395.9 809.6h0M1459.6 840.6h0M1443.6 781.2h0M1408 830.7h0M1442.2 806.6h0M1456.6 825.5h0M1407.4 816h0M1420.9 831.2h0M1404.7 861.2h0M1476.6 911.3h0M1441.9 910.7h0M1447.4 784.9h0M1415.5 837h0M1417.8 835.9h0M1446.2 901.6h0M1437.1 850.4h0M1442.1 858.8h0M1432.9 802.3h0M1443.3 902.4h0M1443.8 781.6h0M1406.8 761h0M1434.8 828.6h0M1430.5 874.9h0M1435.1 853.9h0M1408.4 839.2h0M1443 890.6h0M1392.5 811.8h0M1439.3 910.1h0M1465 877.8h0M1411.8 751.8h0M1410.4 764.7h0M1477.6 873.9h0M1483.4 891.4h0M1465.5 900h0M1401.2 779h0M1409 783.3h0M1470.6 878.8h0M1420.8 765.2h0M1451.8 856.1h0M1434.4 818.4h0M1438.5 774h0M1422.2 753.3h0M1441.3 869.9h0M1399.7 830.2h0M1438.4 835.8h0M1402.7 793.9h0M1490.2 900h0M1448.8 873.4h0M1439 855.9h0M1416 833.3h0M1435.5 902.5h0M1440.3 887.3h0M1469.5 869.4h0M1436.4 792.1h0M1452.5 828.3h0M1446.6 846.3h0M1428.6 817.4h0M1447.2 786.6h0M1468.6 891.9h0M1444 835.8h0M1445.4 751.8h0M1391.1 784.9h0M1387.9 793.2h0M1476.2 884h0M1413.1 793.5h0M1433.1 825.8h0M1405.4 864.3h0M1447 794.8h0M1435.8 792.3h0M1408.4 782.6h0M1456.7 838.6h0M1463.1 882h0M1412.5 807.4h0M1420.1 874.1h0M1386.5 790.8h0M1398.2 758.1h0M1480 899h0M1453.8 883.3h0M1469.5 916.2h0M1506.9 913.5h0M1410.5 802.4h0M1452.4 859.4h0M1468.2 871.3h0M1439.5 768.5h0M1419.3 880.3h0M1438.7 830.5h0M1430.7 816.9h0M1419.3 848.8h0M1393.9 796.5h0M1448.4 771.6h0M1447.6 916.3h0M1386.6 792.3h0M1436.1 793h0M1408.9 776.4h0M1394.6 765.8h0M1420.7 884.1h0M1462.1 884.9h0M1392.5 800.7h0M1440.7 787.6h0M1428.7 758.4h0M1433 775h0M1401.1 789.2h0M1473 896.1h0M1464.8 854.4h0M1455.6 880.7h0M1433.7 832.8h0M1401.5 797h0M1439.9 751.4h0M1444 870.7h0M1431.9 848h0M1459.7 835.7h0M1445.2 836.7h0M1407.9 770.6h0M1410.9 809.7h0M1469.3 917.2h0M1417.6 867.5h0M1449.4 813.3h0M1447.5 804h0M1426 820h0M1473.4 872.2h0M1439.2 878.6h0M1410.9 751.8h0M1394.9 780.2h0M1420.8 859.6h0M1407.1 865.1h0M1480.3 890.6h0M1438.3 799.7h0M1406.9 859.7h0M1459.3 797.9h0M1391 774.8h0M1496.4 912.8h0M1428.5 875.7h0M1411.5 720.4h0M1402.4 748h0M1392.6 749.6h0M1403.9 728.8h0M1430.3 741.5h0M1410.5 724.2h0M1395.9 745.7h0M1414.7 741.6h0M1400.7 741.3h0M1434 740.6h0M1416.6 747.2h0M1430.2 739.1h0M1419.9 733.8h0M1414.1 731.3h0M1427.4 725h0M1435.9 746.8h0M1410.4 742.2h0M1409.8 737.7h0M1420.3 739.5h0M1442.9 742.5h0M1402.8 736.8h0M1403.6 741.6h0M1414 735.3h0M1437.8 743.9h0M1397.4 748.6h0M1417.5 722.5h0M1428.1 718.4h0M1420.8 721.5h0M1400.3 735h0M1396.1 740h0M1439.2 733.4h0M1409.6 719.3h0M1418.3 743.3h0M1404 741h0M1413.2 732.1h0M1413.8 736.3h0M1415.3 750.2h0M1429 742.5h0M1412.8 718.2h0M1436.1 748.9h0M1437 748.7h0M1399.6 739h0M1401.8 737.6h0M1411.4 749.3h0M1403.2 731.5h0M1411.7 720.1h0M1437.8 747.3h0M1412.4 747.2h0M1420.3 728.8h0M1419 749.1h0M1427.1 748h0M1415.7 735.8h0M1432.9 719.7h0M1416 730.2h0M1423.9 725.2h0M1428.3 748.1h0M1413.6 736.8h0M1421.2 718.1h0M1415.5 744.4h0M1406.3 721.6h0M1437.5 733.9h0M1415 748.3h0M1434.4 734.8h0M1419.9 719.1h0M1400.1 750.5h0M1439.7 743.7h0M1416 718.3h0M1425.7 745.6h0M1415.1 744.2h0M1411.2 724.9h0M1396.9 741.9h0M1433.9 727.1h0M1441.1 742.5h0M1399.6 749.9h0M1430.2 737.3h0M1425.2 735.1h0M1414.3 748.9h0M1439.5 736.8h0M1394 744.1h0M1440.9 748h0M1442.6 748.4h0M1421.8 737.7h0M1427.3 725h0M1420.5 732.5h0M1432 726.4h0M1432.4 738h0M1415.4 732.1h0M1428 746.8h0M1425.4 724.8h0M1443.2 743.2h0M1352.5 724.4h0M1359.3 723.9h0M1366.1 726.6h0M1372.9 727.9h0M1379.7 726.3h0M1386.5 730.2h0M1393.3 729.4h0M1400.1 729.8h0M1406.9 731.3h0M1413.7 732.8h0M1357.2 730h0M1364.3 730.2h0M1371.4 730.4h0M1378.4 733.6h0M1385.5 735h0M1392.5 735.9h0M1399.6 735.9h0M1406.6 738.7h0M1413.7 736.6h0M1359.6 735.1h0M1366.4 735.7h0M1373.1 738.7h0M1379.9 739.6h0M1386.6 739.5h0M1393.4 741.7h0M1400.2 740.7h0M1406.9 741.8h0M1413.7 746.3h0M1340.8 744.5h0M1347.4 742.5h0M1354 745.7h0M1360.7 746.1h0M1367.3 747.2h0M1373.9 749.3h0M1380.5 749.6h0M1387.2 751.7h0M1393.8 751.7h0M1400.4 753.6h0M1407.1 751.6h0M1413.7 755.2h0M1347.8 749.9h0M1354.2 753.1h0M1360.6 753.6h0M1367 755.2h0M1373.4 755.4h0M1379.8 755h0M1386.1 756.4h0M1392.5 758.4h0M1352.5 758.3h0M1359.2 761.2h0M1365.9 762.3h0M1372.5 763.8h0M1379.2 763.4h0M1385.9 765.4h0M1392.5 766.9h0M1359.6 769h0M1366.2 771.1h0M1372.8 772.9h0M1379.4 771.9h0M1385.9 773.5h0M1392.5 774.3h0M1362 780.1h0M1368.5 778.9h0M1375.1 780h0M1381.7 781.4h0M1388.3 783.3h0M1394.9 782.5h0M1366.7 790h0M1373.1 789.2h0M1379.6 791h0M1386.1 790.8h0M1392.5 790.3h0M1371.4 713.7h0M1377.7 715.4h0M1384.1 714.5h0M1390.5 718.8h0M1396.9 718.3h0M1403.3 718.8h0M1409.7 718.1h0M1416 719.9h0M1376.1 705.3h0M1383.1 707.5h0M1390.2 706.8h0M1397.2 709h0M1404.3 709.3h0M1411.3 711.5h0M1418.4 713h0M1340.8 694.2h0M1347.8 696.2h0M1354.9 696.7h0M1362 695.8h0M1369 699h0M1376.1 699.4h0M1383.1 701.5h0M1390.2 703.2h0M1352.5 686.6h0M1359.6 689.5h0M1366.7 688.2h0M1373.7 690.9h0M1380.8 689.5h0M1387.8 693.6h0M1299.6 639.6h0M1349 647.6h0M1376.1 652.3h0M1381.9 652.3h0M1337.3 661.7h0M1371.4 671.1h0M1379.6 671.1h0M1389.7 670.7h0M1404.3 661.2h0M1410.2 660.1h0M1418.4 658.9h0M1418.9 674.2h0M1428.3 630.7h0M1451.3 626h0M1488.5 609.5h0M1464.2 641.3h0M1432.5 653h0M1452.5 653h0M1447.8 668.3h0M1451.3 684.8h0M1449 700h0M1465.4 666h0M1309 682.9h0M1343.1 682.4h0M1358.4 689.5h0M1369 690.6h0M1378.4 690.6h0M1387.8 689.5h0M1404.3 682.4h0M1411.3 694.2h0M1350.2 708.3h0M1359.6 710.6h0M1380.8 709.5h0M1390.2 708.3h0M1399.6 703.6h0M1409 698.9h0M1423.1 714.2h0M1434.8 711.8h0M1444.3 710.6h0M1472.5 705.9h0M1309 740h0M1325.5 748.3h0M1344.3 748.3h0M1359.6 745.9h0M1371.4 748.3h0M1380.8 748.3h0M1390.2 743.6h0M1399.6 736.5h0M1413.7 727.1h0M1418.4 722.4h0M1477.2 733h0M1333.7 789.4h0M1351.4 789.4h0M1340.8 809.4h0M1359.6 809.4h0M1350.2 851.7h0M1362 867h0M1474.8 727.1h0M1470.1 722.4h0M1464.2 774.1h0M1487.8 781.2h0M1486.6 817.6h0M1484.2 832.9h0M1357.2 729.4h0M1364.3 728.3h0M1376.1 728.3h0M1385.5 727.1h0M1394.9 727.1h0M1404.3 725.9h0M1446.6 745.9h0M1460.7 748.3h0M1467.8 761.2h0M1456 727.1h0M1441.9 731.8h0M1432.5 736.5h0M1446.6 760h0M1456 764.7h0" stroke="#a9a9a9" stroke-width="7.6" stroke-linecap="round" fill="none"/>
<path d="M1513.6 914h0M1517.2 911.7h0" stroke="#d3d3d3" stroke-width="7.6" stroke-linecap="round" fill="none"/>
<path d="M1576.2 837.1h0M1587.2 826.7h0M1556.7 862.6h0M1539.9 905.6h0M1593.5 855.7h0M1533.2 912.8h0M1572.8 798.2h0M1543.8 869.3h0M1578.7 777.8h0M1576.3 793h0M1557.1 912h0M1534 898.8h0M1542 872.5h0M1581 861.4h0M1531.8 886.2h0M1560.1 861.7h0M1550.8 888.7h0M1567.8 834.4h0M1570.8 840.3h0M1599.2 833.7h0M1579.3 880.7h0M1554.1 903.8h0M1579.2 828.8h0M1601.2 824.2h0M1569.4 884.7h0M1591.3 843h0M1564.6 881.5h0M1557.4 887.5h0M1586.7 842.5h0M1573.9 821.4h0M1586.9 869.2h0M1544.4 906.8h0M1583.7 823.7h0M1573.8 905.1h0M1576.8 876.1h0M1593.7 833.5h0M1538.7 897.9h0M1568.1 844.6h0M1598.6 843.2h0M1568.2 902.3h0M1581 827.9h0M1572 878.5h0M1578.1 826.3h0M1595.4 813.7h0M1590 848.2h0M1581.4 899.8h0M1593.2 829.2h0M1572.6 825.3h0M1594.8 822.4h0M1567.4 885.7h0M1554.8 897.4h0M1591.8 805h0M1574.9 864.7h0M1574.9 800.3h0M1573.2 855.3h0M1590 820h0M1590 825h0M1594 827.1h0M1581.5 851.9h0M1589.8 861.1h0M1525.9 900.5h0M1572.4 862.1h0M1576.7 891.3h0M1559.7 817.9h0M1581 789.2h0M1539.2 906.7h0M1571.6 826.8h0M1542.7 868.6h0M1552.3 855.9h0M1560.4 871.6h0M1578.4 782h0M1568.9 897.9h0M1568.5 864.1h0M1561.8 866.7h0M1551.6 892.2h0M1574.7 822.7h0M1589.4 803.8h0M1572.5 800.6h0M1551.5 855.7h0M1582.3 842.7h0M1551.9 869.7h0M1596 816.9h0M1548.8 897.4h0M1574.1 838.6h0M1544.5 908.3h0M1560.7 816.6h0M1581 871.6h0M1550.8 875.9h0M1562.5 809.5h0M1550.9 906.3h0M1581.1 825.1h0M1538.6 883.2h0M1580.7 870.9h0M1557 897.2h0M1586.6 856.9h0M1551.3 873.6h0M1578.7 845.3h0M1593.2 837.3h0M1584 852.6h0M1566.7 805.1h0M1578.1 798.7h0M1577.1 839.7h0M1562.7 809.9h0M1570.1 795.4h0M1587.2 839.5h0M1530.6 897.7h0M1558.1 910.3h0M1582.7 880.9h0M1572.7 902.1h0M1593.1 835.7h0M1556.6 827.7h0M1594 802.9h0M1599.7 817.7h0M1544.5 871.6h0M1599 825.7h0M1595.2 812.2h0M1587 858.1h0M1562.4 905.4h0M1537.6 876.8h0M1549.3 871.2h0M1581.5 787.6h0M1545.7 877.7h0M1593.9 834.3h0M1526.9 900h0M1574.2 867.9h0M1565.8 887.4h0M1582.8 890h0M1549.4 868.1h0M1590.2 864.6h0M1579.6 813.5h0M1573.2 906.8h0M1587.1 876.2h0M1556.9 898.8h0M1583.7 780.3h0M1593.6 823.1h0M1553.7 892.7h0M1528.1 904.8h0M1531.7 901.3h0M1580 867.1h0M1586.8 871h0M1575 915h0M1577 887.2h0M1527.7 906.5h0M1572.2 826.7h0M1568.5 797.6h0M1586.5 841.1h0M1574.2 864.9h0M1556.6 851.6h0M1581.2 841.4h0M1593.5 808.5h0M1549.5 846.5h0M1573.7 838.3h0M1586.9 781.5h0M1551.4 881.3h0M1581.2 784.9h0M1580.5 880.3h0M1522 915h0M1589.9 781.8h0M1581.9 831.5h0M1576.8 790.8h0M1573 878.2h0M1592.7 799.6h0M1583.1 798.7h0M1558.8 914.5h0M1592.3 839.2h0M1588.7 818.8h0M1589.6 832.8h0M1577.6 873h0M1561.3 908h0M1581.1 887.9h0M1546.9 898.9h0M1590.6 838.8h0M1567.1 804.7h0M1565.5 798.2h0M1566.1 854.5h0M1569.3 886.7h0M1570.4 786.2h0M1595.3 827.4h0M1583.6 891.2h0M1551.8 881.7h0M1553.7 848h0M1559.1 899.9h0M1573 831.5h0M1575.1 875.1h0M1527.5 897.8h0M1568.8 906.9h0M1554.7 831.2h0M1555.7 834.6h0M1540.7 898.4h0M1587.2 831h0M1579.6 814.3h0M1588.5 807.6h0M1567.1 845.3h0M1565.6 854.6h0M1555.9 853.1h0M1577.7 897.6h0M1578.8 851h0M1529.5 898.8h0M1564.3 858.6h0M1582.4 819.8h0M1543.8 903h0M1563.4 871.6h0M1567.4 885.2h0M1570.5 820.6h0M1586.7 800.5h0M1559.4 874.6h0M1552 843.1h0M1585.5 888h0M1591.6 849.4h0M1578.1 812.4h0M1586.3 815h0M1592.7 862.5h0M1575.1 789.1h0M1597 825.5h0M1561.2 862.2h0M1536.7 883.7h0M1583.2 835.4h0M1561.1 870.8h0M1557.5 894.9h0M1574.2 822.9h0M1573.4 821.4h0M1565.4 896.4h0M1572.2 799.1h0M1578.1 903h0M1574 854.1h0M1569.9 905.5h0M1553.4 854h0M1565.6 891.5h0M1597.9 848.5h0M1579.2 883.1h0M1588.8 872.3h0M1549.4 901.9h0M1593.9 844.8h0M1555.4 891.3h0M1553.3 887.5h0M1574 809.5h0M1564.9 859.8h0M1588.5 790.3h0M1552.9 840.2h0M1589.6 788.7h0M1562 840.9h0M1592.5 865.2h0M1571.6 787.3h0M1560.2 815h0M1572.2 888h0M1531.7 888.9h0M1577.2 856.9h0M1586 859.3h0M1572.9 849.4h0M1584 840.6h0M1529.4 891.8h0M1560.2 831.3h0M1576.2 845.4h0M1588.5 820.7h0M1554.3 848.1h0M1570.2 911.5h0M1587.3 827.5h0M1586.8 835.9h0M1582.3 794.6h0M1568.4 808.1h0M1573.2 876.3h0M1582.2 793.1h0M1576.3 889.6h0M1552.7 845.7h0M1571.4 873.4h0M1594.9 846.3h0M1599 827.2h0M1587.6 881.6h0M1576.2 835.7h0M1589.1 843.3h0M1590.8 804.1h0M1578.3 812.8h0M1531.8 906.9h0M1587.2 878.6h0M1534.9 913.5h0M1572.6 830.8h0M1544.7 880.1h0M1564.1 865.2h0M1594.8 833.1h0M1599.4 816h0M1585.8 817.4h0M1575.9 821.4h0M1570 891.4h0M1565.6 855h0M1574.8 795h0M1583.7 848.2h0M1585.1 783.5h0M1546.8 895.3h0M1574.8 835.3h0M1575 879.8h0M1571 843.8h0M1555.2 906.1h0M1575.2 852.9h0M1567.2 905.2h0M1590.6 813.9h0M1564 848h0M1555.9 852.4h0M1583.5 784h0M1588.1 831h0M1562.3 826h0M1555.9 860.1h0M1591 868.1h0M1578.5 868.5h0M1578.9 860.8h0M1545.9 881.4h0M1545.9 910.3h0M1543.1 904.9h0M1579.1 801.1h0M1586.3 794.5h0M1566.1 831.7h0M1551.8 841.6h0M1543.8 896.1h0M1553.7 906h0M1590.2 794h0M1580.9 890.4h0M1566.2 806.7h0M1560.6 865.9h0M1569.7 874.6h0M1590.1 833h0M1558.7 881.5h0M1586.1 803h0M1572.4 826.4h0M1589.7 811.7h0M1594.4 835.2h0M1569.6 795.9h0M1548.3 853.1h0M1570.6 904.6h0M1557.8 833.6h0M1536.8 891.7h0M1568 833.8h0M1580.7 808.7h0M1560.2 851.7h0M1582.9 863.4h0M1534.1 897.2h0M1551.4 854.6h0M1552 874.2h0M1557.2 903.5h0M1582.3 805.3h0M1581.2 817.2h0M1579.8 780.3h0M1589.7 857.8h0M1549.8 859.9h0M1560 897.3h0M1553.8 890.9h0M1585.9 796.7h0M1560.3 886.2h0M1523.7 907.4h0M1589.8 834.2h0M1587.5 807.1h0M1572.6 854h0M1585.5 883.1h0M1582.7 782.1h0M1588 869.6h0M1580.7 802.5h0M1574.2 823.7h0M1565.2 898.6h0M1592.2 854.2h0M1567.8 810.2h0M1557.5 873h0M1586.3 821.7h0M1585.6 774.3h0M1539.5 896.6h0M1567.8 834.3h0M1573.1 909.1h0M1572.7 911.2h0M1568.5 901.6h0M1546.2 903.6h0M1583.5 882.8h0M1560.8 835.3h0M1547.8 887.4h0M1585.7 774.3h0M1537.6 909.4h0M1543.8 906.3h0M1562.9 902.3h0M1566.6 814.5h0M1582.2 811.3h0M1595.7 818.5h0M1556.1 826.1h0M1575.1 852h0M1554.4 861.4h0M1574.5 892.4h0M1544.1 905.6h0M1586.9 850.8h0M1578 797.8h0M1574.4 821.5h0M1555.7 897.8h0M1561.1 858.7h0M1540.2 911.3h0M1576.6 865.9h0M1577.3 869.4h0M1560.9 823.7h0M1561.2 852.2h0M1576 816.1h0M1551.9 911.6h0M1592.2 830.6h0M1566.2 847.9h0M1566.3 800.3h0M1576 814.3h0M1584.1 855h0M1572.8 837.9h0M1538.3 886.2h0M1584.7 851.6h0M1557.1 826.4h0M1534.5 913.2h0M1546.6 905.5h0M1590.1 835.2h0M1525.7 911.6h0M1571.5 804.5h0M1548.4 861.6h0M1548.8 857h0M1583.1 782.1h0M1546.1 889.5h0M1588.3 832.5h0M1557.4 869.9h0M1590.5 862.5h0M1581.6 848.8h0M1583.3 842.2h0M1599.5 817.2h0M1547.2 889h0M1577.1 799.3h0M1575.7 835.1h0M1579.1 855.1h0M1550.8 874.3h0M1570.7 869.4h0M1546.9 859.5h0M1551.6 873.7h0M1538.4 882h0M1590.3 813.2h0M1564.2 829.1h0M1530.6 899.7h0M1578.7 814.5h0M1549.9 849.1h0M1583.5 875.5h0M1556.8 868h0M1556.4 856.2h0M1565 868.2h0M1562.2 897.2h0M1552.5 887.1h0M1567 845.7h0M1578.2 908.6h0M1562 902.3h0M1576.6 902.2h0M1551.4 886.6h0M1552.4 871.5h0M1592.9 801.4h0M1548.1 914.9h0M1558.9 879.4h0M1560.9 847.5h0M1586.3 822.6h0M1593.3 808.2h0M1575.4 884.5h0M1590.5 801.6h0M1557.7 887.9h0M1557.4 857.2h0M1559.5 878.7h0M1563.5 854.7h0M1575.3 883.1h0M1574.8 890.9h0M1574.6 910.5h0M1587.5 837.9h0M1569.1 821.9h0M1547.2 888.4h0M1578.6 878.7h0M1575.5 859.4h0M1546.5 913.2h0M1559.4 857.4h0M1568.4 889.5h0M1584.7 845.3h0M1550 879.6h0M1555.6 834.5h0M1566.5 881.2h0M1594.2 846.8h0M1576.3 862.2h0M1590.8 795.6h0M1562 839.5h0M1590.3 840.5h0M1564.1 858.4h0M1586 803.9h0M1574.6 818.2h0M1599.8 828.5h0M1558 875.9h0M1578.5 805.9h0M1566.6 864.5h0M1591.9 822.7h0M1557.8 831.2h0M1585.1 888h0M1554.8 903.1h0M1559.3 869h0M1560.1 876h0M1570.2 853.5h0M1580.5 815.7h0M1564.5 873.2h0M1591.3 868.6h0M1581.8 804.3h0M1559.6 872.2h0M1592.3 822.5h0M1559.1 895.9h0M1587.2 839h0M1539.4 902.5h0M1587.6 781.7h0M1597.4 846.8h0M1571.2 884.8h0M1569.4 828.5h0M1571.4 806.2h0M1592.5 827.6h0M1589.5 869.8h0M1541.9 905.6h0M1530.9 891.3h0M1580.3 827.4h0M1569.6 907.8h0M1571.9 912.4h0M1582.9 836.4h0M1545.7 885.2h0M1534.3 882.9h0M1577.5 813.1h0M1547.6 899.2h0M1544.1 868.1h0M1561.9 826.6h0M1566.1 800.4h0M1582.3 785.3h0M1567.8 866.7h0M1562 821h0M1590.2 862.2h0M1568.8 803.6h0M1583.1 836.8h0M1586.2 884.1h0M1568.9 838.4h0M1598.8 814.8h0M1569.2 819.7h0M1553.5 875.5h0M1557 837.3h0M1547.1 902.2h0M1588.7 868.6h0M1581.6 835.3h0M1574.5 879.9h0M1561 870.1h0M1587.5 846h0M1597.1 811.8h0M1574.3 861.6h0M1549.6 853.7h0M1582.6 827.5h0M1594.6 807h0M1556.7 875.8h0M1574.6 877.7h0M1536.3 895.7h0M1540.8 903.1h0M1544.9 887.1h0M1546.6 871.2h0M1541.7 894.2h0M1570.7 834.4h0M1596.7 810.5h0M1580.1 787.5h0M1520.8 913.1h0M1552.7 864.7h0M1540.6 914.3h0M1529.4 900.9h0M1580.3 901.2h0M1558.4 846.5h0M1577.9 843h0M1571.6 912.4h0M1561.5 858.7h0M1564 839.4h0M1542.5 865.6h0M1546.8 881.9h0M1593.7 828.6h0M1568.8 886.6h0M1594.4 796.9h0M1573.3 795.2h0M1587.6 861.5h0M1557.8 834.8h0M1573.6 848.2h0M1580.4 789.4h0M1535.8 892.7h0M1549.9 863.2h0M1567.5 799.2h0M1563.5 900.4h0M1563.3 887.9h0M1576.1 870.9h0M1571.1 794h0M1586.6 842.5h0M1577.3 820h0M1559.3 903.1h0M1585.4 882.1h0M1567.6 908.8h0M1585.7 794.1h0M1584.6 856h0M1586.5 820.9h0M1585.6 813h0M1545.6 863.5h0M1576.7 900.3h0M1589 860.5h0M1537.2 879.4h0M1540 893.6h0M1588.6 836.4h0M1572.2 792.5h0M1583.1 879.3h0M1573.3 832.2h0M1565.4 827.5h0M1543.9 913.7h0M1575.1 897.3h0M1563.8 876.6h0M1588.9 875.2h0M1580.4 880.7h0M1582.6 814.5h0M1569 911h0M1595.7 816.4h0M1573.4 898.8h0M1552.4 863.6h0M1539.7 907.6h0M1595.1 801.8h0M1558.6 820.5h0M1574.5 906.7h0M1575.3 879h0M1596.1 827.9h0M1544.5 867.8h0M1554 865.7h0M1585.4 780.9h0M1568.3 878h0M1534.4 904.3h0M1590.7 786.3h0M1580.6 818.9h0M1534.3 884.1h0M1568.3 901.1h0M1592.5 864.5h0M1585.3 872.6h0M1546 858.4h0M1575.9 776.1h0M1585.1 856.3h0M1596 837.8h0M1541.7 911.2h0M1583.6 886.1h0M1568.5 821.6h0M1559.2 876.1h0M1544.2 876.1h0M1587.8 798.5h0M1582.1 869.2h0M1561.5 807.1h0M1568.1 823.8h0M1556.1 886.3h0M1574.1 870.6h0M1559.2 830.6h0M1576.5 866.1h0M1571.2 895.9h0M1558.6 892.4h0M1567.1 796.9h0M1575.2 789.8h0M1560 853.5h0M1536.3 900.3h0M1548.3 857.3h0M1562.2 805.2h0M1531.3 896.2h0M1587.5 827h0M1555.8 849h0M1537.4 901.9h0M1573 848.2h0M1555.8 844.9h0M1560 833.2h0M1576.4 850h0M1577.4 816.4h0M1559.6 892.7h0M1564.3 824h0M1597.1 808.5h0M1569.7 852.5h0M1593.1 847.7h0M1588.4 833.4h0M1554.1 896.7h0M1573.4 833.9h0M1572.9 802.7h0M1570.1 823.4h0M1566.4 883.4h0M1589.9 798.7h0M1567.1 884.8h0M1590.2 798.2h0M1586.8 830.5h0M1542.3 896.4h0M1573.1 809.2h0M1548.7 855.2h0M1567.9 902.8h0M1567.2 803h0M1576.6 849.6h0M1544.2 875h0M1571.4 846.8h0M1561.2 826.1h0M1573.2 876.7h0M1552.3 864.2h0M1550.2 903.1h0M1598 811h0M1559.9 831.4h0M1556.4 858.7h0M1585.5 817h0M1571.5 835.7h0M1569.2 863.9h0M1596.3 823.4h0M1553.5 891.8h0M1568.4 802.7h0M1574.5 816.8h0M1568.3 839.1h0M1573.4 845.8h0M1578.2 901.8h0M1528.6 895.5h0M1580.6 668.3h0M1595.9 705.9h0M1583 715.3h0M1586.5 724.7h0M1601.8 730.6h0M1606.5 730.6h0M1643 729.4h0M1561.8 754.1h0M1571.2 755.3h0M1601.8 760h0M1580.6 763.5h0M1585.3 769.4h0M1597.1 774.1h0M1606.5 780h0M1615.9 774.1h0M1611.2 792.9h0M1603 823.5h0M1611.2 821.2h0M1607.7 844.7h0M1601.8 858.8h0M1594.7 884.6h0M1580.6 898.7h0" stroke="#87ceeb" stroke-width="7.6" stroke-linecap="round" fill="none"/>
<line x1="1284" y1="915.2" x2="1659" y2="915.2" stroke="#000" stroke-width="3" stroke-dasharray="3.4 8.4" stroke-dashoffset="0"/>
<path d="M1468.9 654.2L1451.3 788.2M1486.1 688.3L1460.7 804.7M1503.5 722.4L1465.4 818.8M1345.5 734.1L1383.1 762.4M1508.9 775.3L1467.8 830.6M1350.2 796.5L1385.5 818.8M1538.3 801.2L1472.5 854.1M1370.9 834.1L1399.6 845.8M1527.7 871.7L1484.2 878.8M1357.2 889.3L1404.3 868.2M1369 930.5L1430.1 889.3M1414.9 930.5L1437.2 905.8M1492.5 930.5L1483.1 914" fill="none" stroke="#a6a6a6" stroke-width="2.4"/>
<text x="1471.3" y="660.1" font-size="28">Exo1</text>
<text x="1487" y="695.3" font-size="28">Pold3</text>
<text x="1502.6" y="727.1" font-size="28">Pms2</text>
<text x="1302" y="730.6" font-size="28">Msh6</text>
<text x="1508.9" y="775.3" font-size="28">Rfc2</text>
<text x="1301.3" y="781.2" font-size="28">Msh3</text>
<text x="1380.8" y="804.7" font-size="28">Rpa1</text>
<text x="1537.8" y="809.4" font-size="28">Hmgb1</text>
<text x="1302" y="841.1" font-size="28">Msh2</text>
<text x="1406.6" y="842.3" font-size="28">Rfc3</text>
<text x="1384.3" y="875.2" font-size="28">Pms1</text>
<text x="1514.8" y="874" font-size="28">Pold4</text>
<text x="1289" y="898.7" font-size="28">Msh4</text>
<text x="1439.6" y="905.8" font-size="28">Rpa2</text>
<text x="1310.2" y="944.6" font-size="28">Rfc5</text>
<text x="1381.9" y="950.5" font-size="28">Rfc1</text>
<text x="1458.4" y="950.5" font-size="28">Rfc4</text>
<rect x="1282.5" y="586.4" width="377.8" height="370.6" fill="none" stroke="#000" stroke-width="3.4"/>
<line x1="1277" y1="603.7" x2="1282.5" y2="603.7" stroke="#333" stroke-width="3"/>
<text x="1275.5" y="613.2" font-size="26" text-anchor="end">5</text>
<line x1="1277" y1="688.4" x2="1282.5" y2="688.4" stroke="#333" stroke-width="3"/>
<text x="1275.5" y="697.9" font-size="26" text-anchor="end">4</text>
<line x1="1277" y1="772.5" x2="1282.5" y2="772.5" stroke="#333" stroke-width="3"/>
<text x="1275.5" y="782" font-size="26" text-anchor="end">3</text>
<line x1="1277" y1="856.6" x2="1282.5" y2="856.6" stroke="#333" stroke-width="3"/>
<text x="1275.5" y="866.1" font-size="26" text-anchor="end">2</text>
<line x1="1277" y1="941.3" x2="1282.5" y2="941.3" stroke="#333" stroke-width="3"/>
<text x="1275.5" y="950.8" font-size="26" text-anchor="end">1</text>
<line x1="1351.3" y1="957" x2="1351.3" y2="965" stroke="#333" stroke-width="3"/>
<text x="1351.3" y="991" font-size="26" text-anchor="middle">-4</text>
<line x1="1432.7" y1="957" x2="1432.7" y2="965" stroke="#333" stroke-width="3"/>
<text x="1432.7" y="991" font-size="26" text-anchor="middle">-2</text>
<line x1="1514" y1="957" x2="1514" y2="965" stroke="#333" stroke-width="3"/>
<text x="1514" y="991" font-size="26" text-anchor="middle">0</text>
<line x1="1595.5" y1="957" x2="1595.5" y2="965" stroke="#333" stroke-width="3"/>
<text x="1595.5" y="991" font-size="26" text-anchor="middle">2</text>
<text x="1252" y="762.5" font-size="33" text-anchor="middle" transform="rotate(-90 1252 762.5)">-log10(FDR)</text>
<text x="693" y="1033" font-size="58">F</text>
<text x="1169.8" y="1052.6" font-size="37" textLength="170" lengthAdjust="spacingAndGlyphs">H3K4me3</text>
<rect x="751.5" y="1082.4" width="992.5" height="118.8" fill="#f9f9f9" stroke="#c4c4c4" stroke-width="1"/>
<rect x="751.5" y="1204.3" width="992.5" height="123.5" fill="#f9f9f9" stroke="#c4c4c4" stroke-width="1"/>
<line x1="746.4" y1="1082.4" x2="746.4" y2="1201.2" stroke="#c8c8c8" stroke-width="1.2"/>
<line x1="746.4" y1="1205" x2="746.4" y2="1328" stroke="#c0c0c0" stroke-width="1.6"/>
<text x="754.5" y="1093.3" font-size="9.3" fill="#111" font-weight="bold">chr17:87,966,915-87,983,445</text>
<rect x="752" y="1097.3" width="145.8" height="10.1" fill="#000"/>
<rect x="897.8" y="1097.3" width="22.7" height="10.1" fill="#fff"/>
<rect x="920.5" y="1097.3" width="13.5" height="10.1" fill="#aaa"/>
<rect x="934" y="1097.3" width="45.9" height="10.1" fill="#fff"/>
<rect x="979.9" y="1097.3" width="99.4" height="10.1" fill="#5a5a5a"/>
<rect x="1079.3" y="1097.3" width="89.9" height="10.1" fill="#fff"/>
<rect x="1169.2" y="1097.3" width="14.2" height="10.1" fill="#9a9a9a"/>
<rect x="1183.4" y="1097.3" width="45.8" height="10.1" fill="#fff"/>
<rect x="1229.2" y="1097.3" width="105.5" height="10.1" fill="#5a5a5a"/>
<rect x="1334.7" y="1097.3" width="44.2" height="10.1" fill="#fff"/>
<rect x="1378.9" y="1097.3" width="87.1" height="10.1" fill="#000"/>
<rect x="1466" y="1097.3" width="4.4" height="10.1" fill="#fff"/>
<rect x="1470.4" y="1097.3" width="44.2" height="10.1" fill="#000"/>
<rect x="1514.6" y="1097.3" width="56.2" height="10.1" fill="#fff"/>
<rect x="1570.8" y="1097.3" width="44.8" height="10.1" fill="#a0a0a0"/>
<rect x="1615.6" y="1097.3" width="63.7" height="10.1" fill="#fff"/>
<rect x="1679.3" y="1097.3" width="64.7" height="10.1" fill="#aaaaaa"/>
<rect x="752" y="1097.3" width="992" height="10.1" fill="none" stroke="#000" stroke-width="1"/>
<rect x="1668.4" y="1095.5" width="3" height="13.5" fill="#ff0000"/>
<text x="823.6" y="1115.8" font-size="8.6" text-anchor="middle" fill="#222" font-weight="bold">qA1</text>
<text x="908" y="1115.8" font-size="8.6" text-anchor="middle" fill="#222" font-weight="bold">qA2</text>
<text x="955.6" y="1115.8" font-size="8.6" text-anchor="middle" fill="#222" font-weight="bold">qA3.2</text>
<text x="1028.8" y="1115.8" font-size="8.6" text-anchor="middle" fill="#222" font-weight="bold">qA3.3</text>
<text x="1123.4" y="1115.8" font-size="8.6" text-anchor="middle" fill="#222" font-weight="bold">qB1</text>
<text x="1175.5" y="1115.8" font-size="8.6" text-anchor="middle" fill="#222" font-weight="bold">qB2</text>
<text x="1205.5" y="1115.8" font-size="8.6" text-anchor="middle" fill="#222" font-weight="bold">qB3</text>
<text x="1281" y="1115.8" font-size="8.6" text-anchor="middle" fill="#222" font-weight="bold">qC</text>
<text x="1356" y="1115.8" font-size="8.6" text-anchor="middle" fill="#222" font-weight="bold">qD</text>
<text x="1419" y="1115.8" font-size="8.6" text-anchor="middle" fill="#222" font-weight="bold">qE1.1</text>
<text x="1465" y="1115.8" font-size="8.6" text-anchor="middle" fill="#222" font-weight="bold">qE1.2</text>
<text x="1542" y="1115.8" font-size="8.6" text-anchor="middle" fill="#222" font-weight="bold">qE2</text>
<text x="1591" y="1115.8" font-size="8.6" text-anchor="middle" fill="#222" font-weight="bold">qE3</text>
<text x="1646" y="1115.8" font-size="8.6" text-anchor="middle" fill="#222" font-weight="bold">qE4</text>
<text x="1710" y="1115.8" font-size="8.6" text-anchor="middle" fill="#222" font-weight="bold">qE5</text>
<line x1="754" y1="1155" x2="1231" y2="1155" stroke="#555" stroke-width="1.2"/>
<line x1="1266" y1="1155" x2="1742" y2="1155" stroke="#555" stroke-width="1.2"/>
<path d="M753.5 1155L760.5 1152V1158Z" fill="#222"/>
<path d="M1743 1155L1736 1152V1158Z" fill="#222"/>
<text x="1248.5" y="1158.3" font-size="9.3" text-anchor="middle" fill="#111" font-weight="bold">16 kb</text>
<text x="817.3" y="1177.7" font-size="8.8" text-anchor="middle" fill="#222">87,968 kb</text>
<text x="936.3" y="1177.7" font-size="8.8" text-anchor="middle" fill="#222">87,970 kb</text>
<text x="1057.2" y="1177.7" font-size="8.8" text-anchor="middle" fill="#222">87,972 kb</text>
<text x="1176.5" y="1177.7" font-size="8.8" text-anchor="middle" fill="#222">87,974 kb</text>
<text x="1296.8" y="1177.7" font-size="8.8" text-anchor="middle" fill="#222">87,976 kb</text>
<text x="1416.7" y="1177.7" font-size="8.8" text-anchor="middle" fill="#222">87,978 kb</text>
<text x="1536.7" y="1177.7" font-size="8.8" text-anchor="middle" fill="#222">87,980 kb</text>
<text x="1656.6" y="1177.7" font-size="8.8" text-anchor="middle" fill="#222">87,982 kb</text>
<path d="M757.3 1183.5V1190.7M817.3 1183.5V1190.7M876.3 1183.5V1190.7M937.2 1183.5V1190.7M996.3 1183.5V1190.7M1057.2 1183.5V1190.7M1117.1 1183.5V1190.7M1176.5 1183.5V1190.7M1236.4 1183.5V1190.7M1296.8 1183.5V1190.7M1357.4 1183.5V1190.7M1416.1 1183.5V1190.7M1476 1183.5V1190.7M1537.3 1183.5V1190.7M1596.6 1183.5V1190.7M1656.6 1183.5V1190.7M1716.5 1183.5V1190.7" fill="none" stroke="#111" stroke-width="1"/>
<line x1="752" y1="1192.5" x2="1744" y2="1192.5" stroke="#000" stroke-width="1.2"/>
<text x="754.5" y="1214.2" font-size="6.6" fill="#222">[2.000 - 12]</text>
<text x="754.5" y="1261.8" font-size="6.6" fill="#222">[2.000 - 12]</text>
<path d="M752 1250.9 752 1247.6 753.5 1247.1 755 1246.6 756.5 1246.1 758 1245.7 759.5 1245.4 761 1245.2 762.5 1245.2 764 1245.3 765.5 1245.6 767 1245.9 768.5 1246.4 770 1246.9 771.5 1247.4 773 1248 774.5 1248.5 776 1249 777.5 1249.4 779 1249.5 780.5 1249.2 782 1249 783.5 1248.8 785 1248.6 786.5 1248.5 788 1248.4 789.5 1248.4 791 1248.5 792.5 1248.6 794 1248.7 795.5 1248.5 797 1247.8 798.5 1247 800 1246.1 801.5 1245.1 803 1244.1 804.5 1243.1 806 1242.1 807.5 1241.3 809 1240.7 810.5 1240.3 812 1240.2 813.5 1240.3 815 1240.7 816.5 1241.3 818 1242.1 819.5 1243.1 821 1244.1 822.5 1245.1 824 1245.1 825.5 1243.5 827 1241.7 828.5 1239.8 830 1237.7 831.5 1235.7 833 1233.8 834.5 1232.1 836 1230.7 837.5 1229.8 839 1229.4 840.5 1229.5 842 1230.2 843.5 1231.3 845 1232.8 846.5 1234.6 848 1236.6 849.5 1238.7 851 1238.5 852.5 1237.4 854 1236.5 855.5 1236 857 1235.9 858.5 1236.1 860 1236.7 861.5 1237.6 863 1238.8 864.5 1239.2 866 1237.4 867.5 1235.6 869 1234.1 870.5 1232.9 872 1232 873.5 1231.6 875 1231.7 876.5 1232.3 878 1233.2 879.5 1234.6 881 1236.2 882.5 1238 884 1238.7 885.5 1237.4 887 1236.3 888.5 1235.4 890 1235 891.5 1234.9 893 1235.3 894.5 1235.9 896 1237 897.5 1238.2 899 1238.7 900.5 1236.7 902 1234.8 903.5 1233.1 905 1231.7 906.5 1230.7 908 1230.2 909.5 1230.2 911 1230.7 912.5 1231.6 914 1233 915.5 1234.7 917 1236.6 918.5 1238.5 920 1240.5 921.5 1240.9 923 1241 924.5 1241.2 926 1241.7 927.5 1242.4 929 1243.3 930.5 1244.2 932 1245.2 933.5 1246.1 935 1247 936.5 1247.8 938 1248.5 939.5 1249.1 941 1249.5 942.5 1249.8 944 1249.4 945.5 1248.8 947 1248.1 948.5 1247.2 950 1246.2 951.5 1245.1 953 1243.8 954.5 1242.5 956 1241.1 957.5 1239.9 959 1238.8 960.5 1237.9 962 1237.3 963.5 1237 965 1237.1 966.5 1237.5 968 1238.2 969.5 1239.1 971 1240.3 972.5 1241.6 974 1242.9 975.5 1244.2 977 1245.5 978.5 1246.6 980 1247.5 981.5 1248.4 983 1249 984.5 1249 986 1248.4 987.5 1247.7 989 1246.8 990.5 1245.9 992 1244.9 993.5 1243.9 995 1243 996.5 1242.1 998 1241.4 999.5 1240.9 1001 1240.6 1002.5 1240.5 1004 1240.7 1005.5 1241.2 1007 1241.8 1008.5 1242.7 1010 1243.6 1011.5 1244.6 1013 1245.6 1014.5 1246.5 1016 1247.4 1017.5 1248.2 1019 1248.8 1020.5 1249.3 1022 1249.8 1023.5 1250.1 1025 1250.2 1026.5 1249.9 1028 1249.5 1029.5 1249.1 1031 1248.5 1032.5 1247.9 1034 1247.2 1035.5 1246.4 1037 1245.7 1038.5 1244.9 1040 1244.2 1041.5 1243.6 1043 1243.1 1044.5 1242.8 1046 1242.7 1047.5 1242.8 1049 1243.1 1050.5 1243.6 1052 1244.2 1053.5 1244.9 1055 1245.7 1056.5 1246.4 1058 1247.2 1059.5 1247.9 1061 1248.5 1062.5 1249.1 1064 1249.5 1065.5 1249.9 1067 1250.2 1068.5 1250.9 1070 1250.9 1071.5 1250.2 1073 1249.9 1074.5 1249.5 1076 1248.9 1077.5 1248.2 1079 1247.4 1080.5 1246.4 1082 1245.2 1083.5 1243.9 1085 1242.6 1086.5 1241.2 1088 1239.8 1089.5 1238.6 1091 1237.6 1092.5 1236.9 1094 1236.5 1095.5 1236.4 1097 1236.7 1098.5 1237.4 1100 1238.3 1101.5 1239.4 1103 1240.7 1104.5 1242.1 1106 1243.5 1107.5 1244.8 1109 1246 1110.5 1247.1 1112 1248 1113.5 1248.5 1115 1247.6 1116.5 1246.4 1118 1244.9 1119.5 1243.1 1121 1241 1122.5 1238.7 1124 1236.2 1125.5 1233.6 1127 1231.1 1128.5 1228.7 1130 1226.7 1131.5 1225.1 1133 1224.1 1134.5 1223.8 1136 1224.1 1137.5 1225.1 1139 1226.7 1140.5 1228.7 1142 1231.1 1143.5 1233.6 1145 1236.2 1146.5 1238.7 1148 1241 1149.5 1243.1 1151 1244.9 1152.5 1245.2 1154 1244.6 1155.5 1244 1157 1243.6 1158.5 1243.4 1160 1243.3 1161.5 1243.4 1163 1243.7 1164.5 1244.2 1166 1244.8 1167.5 1245.5 1169 1246.2 1170.5 1246.9 1172 1247.5 1173.5 1246.6 1175 1245.5 1176.5 1244.2 1178 1242.9 1179.5 1241.6 1181 1240.3 1182.5 1239.1 1184 1238.2 1185.5 1237.5 1187 1237.1 1188.5 1237 1190 1237.3 1191.5 1237.9 1193 1238.8 1194.5 1239.9 1196 1241.1 1197.5 1242.5 1199 1243.8 1200.5 1245.1 1202 1245.4 1203.5 1244.3 1205 1243.2 1206.5 1242.1 1208 1241.2 1209.5 1240.4 1211 1239.9 1212.5 1239.6 1214 1239.5 1215.5 1239.8 1217 1240.3 1218.5 1241 1220 1241.9 1221.5 1243 1223 1244.1 1224.5 1244.3 1226 1243.5 1227.5 1242.9 1229 1242.3 1230.5 1242 1232 1241.9 1233.5 1242 1235 1242.3 1236.5 1242.9 1238 1243.5 1239.5 1244.3 1241 1245 1242.5 1243.2 1244 1241.2 1245.5 1238.9 1247 1236.5 1248.5 1234 1250 1231.6 1251.5 1229.3 1253 1227.4 1254.5 1225.9 1256 1225 1257.5 1224.7 1259 1225.1 1260.5 1226.1 1262 1227.6 1263.5 1229.6 1265 1231.9 1266.5 1234.3 1268 1236.4 1269.5 1234.8 1271 1233.5 1272.5 1232.5 1274 1232 1275.5 1231.9 1277 1232.3 1278.5 1233.1 1280 1234.4 1281.5 1235.9 1283 1237.6 1284.5 1239.4 1286 1241.2 1287.5 1242.9 1289 1242.1 1290.5 1241 1292 1240.1 1293.5 1239.3 1295 1238.8 1296.5 1238.6 1298 1238.7 1299.5 1239.1 1301 1239.7 1302.5 1240.6 1304 1241.7 1305.5 1242.8 1307 1244 1308.5 1245.1 1310 1246.2 1311.5 1247.2 1313 1248 1314.5 1248.7 1316 1249.3 1317.5 1249.1 1319 1249 1320.5 1248.9 1322 1248.9 1323.5 1248.9 1325 1249 1326.5 1249.1 1328 1249.3 1329.5 1249.4 1331 1249.6 1332.5 1249.8 1334 1250 1335.5 1250.2 1337 1250.9 1338.5 1250.9 1340 1250.9 1341.5 1250.9 1343 1250.9 1344.5 1250.9 1346 1250.9 1347.5 1250.9 1349 1250.2 1350.5 1250 1352 1249.7 1353.5 1249.4 1355 1249.1 1356.5 1248.8 1358 1248.4 1359.5 1248.1 1361 1247.9 1362.5 1247.6 1364 1247.5 1365.5 1247.4 1367 1247.4 1368.5 1247.5 1370 1247.7 1371.5 1247.9 1373 1248.2 1374.5 1248.6 1376 1248.9 1377.5 1249.2 1379 1249.5 1380.5 1249.8 1382 1250.1 1383.5 1250.2 1385 1249.8 1386.5 1249.4 1388 1248.8 1389.5 1248 1391 1247.1 1392.5 1245.9 1394 1244.6 1395.5 1243.2 1397 1241.6 1398.5 1240 1400 1238.5 1401.5 1237 1403 1235.8 1404.5 1234.9 1406 1234.4 1407.5 1234.2 1409 1234.5 1410.5 1235.1 1412 1236.1 1413.5 1237.4 1415 1238.9 1416.5 1240.5 1418 1242 1419.5 1243.6 1421 1245 1422.5 1246.3 1424 1247.3 1425.5 1248.2 1427 1249 1428.5 1249.2 1430 1248.7 1431.5 1248.1 1433 1247.5 1434.5 1246.8 1436 1246 1437.5 1245.3 1439 1244.7 1440.5 1244.1 1442 1243.7 1443.5 1243.4 1445 1243.3 1446.5 1243.4 1448 1243.7 1449.5 1244.1 1451 1244.7 1452.5 1245.3 1454 1246 1455.5 1246.8 1457 1247.5 1458.5 1248.1 1460 1248.7 1461.5 1249.2 1463 1249.6 1464.5 1249.2 1466 1248.6 1467.5 1247.7 1469 1246.6 1470.5 1245.2 1472 1243.6 1473.5 1241.9 1475 1239.9 1476.5 1237.9 1478 1235.8 1479.5 1233.9 1481 1232.2 1482.5 1230.8 1484 1229.9 1485.5 1229.4 1487 1229.5 1488.5 1230.1 1490 1231.2 1491.5 1232.7 1493 1234.5 1494.5 1236.5 1496 1238.5 1497.5 1240.6 1499 1242.5 1500.5 1244.2 1502 1245.7 1503.5 1247 1505 1248 1506.5 1248.8 1508 1249.4 1509.5 1249.9 1511 1250.2 1512.5 1250.9 1514 1250.9 1515.5 1250.9 1517 1250.9 1518.5 1250.9 1520 1250.9 1521.5 1250.9 1523 1250.9 1524.5 1250.9 1526 1250.9 1527.5 1250.9 1529 1250.9 1530.5 1250.9 1532 1250.9 1533.5 1250.9 1535 1250.9 1536.5 1250.9 1538 1250.9 1539.5 1250.9 1541 1250.9 1542.5 1250.2 1544 1250 1545.5 1249.6 1547 1249.3 1548.5 1248.8 1550 1248.3 1551.5 1247.8 1553 1247.3 1554.5 1246.7 1556 1246.2 1557.5 1245.8 1559 1245.5 1560.5 1245.3 1562 1245.2 1563.5 1245.3 1565 1245.5 1566.5 1245.8 1568 1246.2 1569.5 1246.7 1571 1247.3 1572.5 1247.8 1574 1248.3 1575.5 1248.8 1577 1249.3 1578.5 1249.6 1580 1250 1581.5 1249.7 1583 1249.1 1584.5 1248.4 1586 1247.4 1587.5 1246.3 1589 1244.8 1590.5 1243.1 1592 1241.2 1593.5 1239.1 1595 1236.9 1596.5 1234.8 1598 1232.7 1599.5 1230.9 1601 1229.4 1602.5 1228.4 1604 1227.9 1605.5 1228 1607 1228.7 1608.5 1229.9 1610 1231.4 1611.5 1233.4 1613 1235.5 1614.5 1237.7 1616 1239.8 1617.5 1241.9 1619 1243.7 1620.5 1245.3 1622 1246.7 1623.5 1247.8 1625 1248.7 1626.5 1249.3 1628 1249.8 1629.5 1250.2 1631 1250.9 1632.5 1250.9 1634 1250.9 1635.5 1250.9 1637 1250.9 1638.5 1250.9 1640 1250.9 1641.5 1250.9 1643 1250.9 1644.5 1250.9 1646 1250.9 1647.5 1250.9 1649 1250.9 1650.5 1250.9 1652 1250.9 1653.5 1250.9 1655 1250.9 1656.5 1250.2 1658 1250.1 1659.5 1249.8 1661 1249.6 1662.5 1249.4 1664 1249.1 1665.5 1248.9 1667 1248.7 1668.5 1248.6 1670 1248.5 1671.5 1248.4 1673 1248.4 1674.5 1248.5 1676 1248.6 1677.5 1248.8 1679 1249 1680.5 1249.2 1682 1249.4 1683.5 1248.9 1685 1248.3 1686.5 1247.6 1688 1246.7 1689.5 1245.8 1691 1244.8 1692.5 1243.8 1694 1242.9 1695.5 1242 1697 1241.3 1698.5 1240.8 1700 1240.5 1701.5 1240.5 1703 1240.8 1704.5 1241.3 1706 1241.9 1707.5 1242.8 1709 1243.7 1710.5 1244.7 1712 1245.7 1713.5 1245.4 1715 1244.5 1716.5 1243.7 1718 1243 1719.5 1242.4 1721 1242 1722.5 1241.8 1724 1241.9 1725.5 1242.1 1727 1242.6 1728.5 1243.2 1730 1244 1731.5 1244.8 1733 1245.7 1734.5 1246.5 1736 1247.3 1737.5 1248.1 1739 1248.7 1740.5 1249.2 1742 1249.7 1743.5 1250 1744 1250.9Z" fill="#666666"/>
<line x1="752" y1="1251.2" x2="1744" y2="1251.2" stroke="#555" stroke-width="1"/>
<path d="M752 1297.7 752 1292.7 753.5 1291.2 755 1289.4 756.5 1287.5 758 1285.4 759.5 1283.3 761 1281.2 762.5 1279.2 764 1277.6 765.5 1276.3 767 1275.5 768.5 1275.3 770 1275.6 771.5 1276.5 773 1277.8 774.5 1279.5 776 1281.4 777.5 1283.5 779 1285.7 780.5 1287.7 782 1289.7 783.5 1291.4 785 1292.8 786.5 1292.6 788 1291.9 789.5 1291.3 791 1290.7 792.5 1290.4 794 1290.1 795.5 1290.1 797 1290.3 798.5 1290.6 800 1291.1 801.5 1291.7 803 1292.4 804.5 1293.1 806 1293.8 807.5 1294.5 809 1295.1 810.5 1295.7 812 1296.2 813.5 1296.6 815 1296.9 816.5 1297.7 818 1297.7 819.5 1297.7 821 1297.7 822.5 1297.7 824 1297.1 825.5 1296.8 827 1296.6 828.5 1296.2 830 1295.8 831.5 1295.3 833 1294.8 834.5 1294.2 836 1293.7 837.5 1293.2 839 1292.7 840.5 1292.4 842 1292.1 843.5 1292 845 1292 846.5 1292.2 848 1292.5 849.5 1292.9 851 1293.4 852.5 1293.9 854 1294.4 855.5 1295 857 1295.5 858.5 1295.9 860 1296.1 861.5 1295.8 863 1295.4 864.5 1295 866 1294.7 867.5 1294.4 869 1294.1 870.5 1294 872 1293.9 873.5 1293.9 875 1294 876.5 1294.2 878 1294.5 879.5 1294.8 881 1295.2 882.5 1295.5 884 1295.9 885.5 1296.2 887 1296.5 888.5 1296.8 890 1297 891.5 1297.7 893 1297.7 894.5 1297.7 896 1297.7 897.5 1297.7 899 1297.7 900.5 1297.7 902 1297.7 903.5 1297.7 905 1297.7 906.5 1297.7 908 1297.7 909.5 1297.7 911 1297.7 912.5 1297.7 914 1297.7 915.5 1297.7 917 1297.7 918.5 1297.7 920 1297.7 921.5 1297.7 923 1297.7 924.5 1297.7 926 1297.7 927.5 1297.7 929 1297.7 930.5 1297.7 932 1297.7 933.5 1297.7 935 1297.7 936.5 1297.7 938 1297.7 939.5 1297.7 941 1297.7 942.5 1297.7 944 1297.7 945.5 1297.7 947 1297.7 948.5 1296.9 950 1296.6 951.5 1296.2 953 1295.6 954.5 1295 956 1294.2 957.5 1293.3 959 1292.3 960.5 1291.3 962 1290.3 963.5 1289.3 965 1288.3 966.5 1287.6 968 1287 969.5 1286.7 971 1286.7 972.5 1287 974 1287.5 975.5 1288.2 977 1289.1 978.5 1290.1 980 1291.1 981.5 1292.1 983 1293.1 984.5 1293.3 986 1292.7 987.5 1292.2 989 1291.8 990.5 1291.5 992 1291.4 993.5 1291.4 995 1291.6 996.5 1291.9 998 1292.4 999.5 1292.9 1001 1293.5 1002.5 1294.1 1004 1294.7 1005.5 1295.2 1007 1295.7 1008.5 1296.2 1010 1296.5 1011.5 1296.8 1013 1296.8 1014.5 1296.4 1016 1295.9 1017.5 1295.2 1019 1294.4 1020.5 1293.5 1022 1292.4 1023.5 1291.2 1025 1289.9 1026.5 1288.6 1028 1287.3 1029.5 1286.2 1031 1285.3 1032.5 1284.6 1034 1284.2 1035.5 1284.1 1037 1284.4 1038.5 1285 1040 1285.9 1041.5 1286.9 1043 1288.2 1044.5 1289.5 1046 1290.7 1047.5 1292 1049 1293.1 1050.5 1294.1 1052 1295 1053.5 1295.7 1055 1296.2 1056.5 1296.6 1058 1296.7 1059.5 1296.3 1061 1296 1062.5 1295.6 1064 1295.1 1065.5 1294.7 1067 1294.3 1068.5 1293.8 1070 1293.5 1071.5 1293.2 1073 1293.1 1074.5 1293 1076 1293.1 1077.5 1293.2 1079 1293.5 1080.5 1293.8 1082 1294.3 1083.5 1294.6 1085 1294.1 1086.5 1293.6 1088 1293.1 1089.5 1292.8 1091 1292.5 1092.5 1292.3 1094 1292.3 1095.5 1292.4 1097 1292.7 1098.5 1293 1100 1292.6 1101.5 1291 1103 1289.2 1104.5 1287.1 1106 1284.8 1107.5 1282.4 1109 1280 1110.5 1277.8 1112 1275.8 1113.5 1274.2 1115 1273.1 1116.5 1272.5 1118 1272.6 1119.5 1273.4 1121 1274.6 1122.5 1276.4 1124 1278.5 1125.5 1280.8 1127 1283.2 1128.5 1285.6 1130 1287.8 1131.5 1289.8 1133 1290.1 1134.5 1288.7 1136 1287.3 1137.5 1286 1139 1284.8 1140.5 1283.9 1142 1283.2 1143.5 1282.9 1145 1283 1146.5 1283.4 1148 1284.2 1149.5 1285.2 1151 1286.4 1152.5 1287.8 1154 1289.2 1155.5 1290.6 1157 1291.9 1158.5 1293.1 1160 1294.1 1161.5 1295 1163 1295.7 1164.5 1296.3 1166 1296.7 1167.5 1297 1169 1297.7 1170.5 1297.7 1172 1297.7 1173.5 1297.7 1175 1297.7 1176.5 1297.7 1178 1297.7 1179.5 1297.7 1181 1297.7 1182.5 1297.7 1184 1297.7 1185.5 1297.7 1187 1297.7 1188.5 1297.7 1190 1297.7 1191.5 1297.7 1193 1297.7 1194.5 1297.1 1196 1296.8 1197.5 1296.5 1199 1296.2 1200.5 1295.8 1202 1295.4 1203.5 1295 1205 1294.5 1206.5 1294.1 1208 1293.7 1209.5 1293.4 1211 1293.1 1212.5 1293 1214 1293 1215.5 1293.1 1217 1293.3 1218.5 1293.6 1220 1294 1221.5 1294.4 1223 1294.9 1224.5 1295.3 1226 1295.1 1227.5 1294.1 1229 1292.9 1230.5 1291.4 1232 1289.6 1233.5 1287.5 1235 1285.3 1236.5 1282.9 1238 1280.5 1239.5 1278.2 1241 1276.1 1242.5 1274.4 1244 1273.2 1245.5 1272.6 1247 1272.6 1248.5 1273.2 1250 1274.3 1251.5 1276 1253 1278 1254.5 1280.3 1256 1282.7 1257.5 1285.1 1259 1287.4 1260.5 1289.5 1262 1291.3 1263.5 1292.8 1265 1294.1 1266.5 1295.1 1268 1294.6 1269.5 1293.6 1271 1292.4 1272.5 1290.9 1274 1289.4 1275.5 1287.7 1277 1286 1278.5 1284.3 1280 1282.8 1281.5 1281.5 1283 1280.5 1284.5 1279.9 1286 1279.7 1287.5 1280 1289 1280.7 1290.5 1281.8 1292 1283.2 1293.5 1284.7 1295 1286.4 1296.5 1288.2 1298 1289.8 1299.5 1291.3 1301 1292.7 1302.5 1293.9 1304 1294.8 1305.5 1294.2 1307 1293.2 1308.5 1291.9 1310 1290.6 1311.5 1289.1 1313 1287.6 1314.5 1286.1 1316 1284.8 1317.5 1283.6 1319 1282.7 1320.5 1282.1 1322 1281.9 1323.5 1282.1 1325 1282.7 1326.5 1283.6 1328 1284.8 1329.5 1286.1 1331 1287.6 1332.5 1289.1 1334 1290.6 1335.5 1291.9 1337 1293.2 1338.5 1294.2 1340 1295.1 1341.5 1295.8 1343 1295.8 1344.5 1295.4 1346 1294.9 1347.5 1294.4 1349 1293.8 1350.5 1293.4 1352 1292.9 1353.5 1292.6 1355 1292.4 1356.5 1292.3 1358 1292.3 1359.5 1292.5 1361 1292.8 1362.5 1293.2 1364 1293.6 1365.5 1294.1 1367 1294.7 1368.5 1295.2 1370 1295.6 1371.5 1296.1 1373 1296.4 1374.5 1296.7 1376 1297 1377.5 1297.7 1379 1297.7 1380.5 1297.7 1382 1297.7 1383.5 1297.7 1385 1297.7 1386.5 1297.7 1388 1297.7 1389.5 1297.7 1391 1297.7 1392.5 1297.7 1394 1297.7 1395.5 1297.7 1397 1297.7 1398.5 1297.1 1400 1296.9 1401.5 1296.6 1403 1296.4 1404.5 1296 1406 1295.7 1407.5 1295.3 1409 1295 1410.5 1294.6 1412 1294.3 1413.5 1294.1 1415 1294 1416.5 1293.9 1418 1293.9 1419.5 1294.1 1421 1294.3 1422.5 1294.5 1424 1294.9 1425.5 1295.2 1427 1295.6 1428.5 1295.9 1430 1296.3 1431.5 1296.6 1433 1296.8 1434.5 1297 1436 1297.7 1437.5 1297.7 1439 1297.7 1440.5 1297.7 1442 1297.7 1443.5 1297.7 1445 1297.7 1446.5 1297.7 1448 1297.7 1449.5 1297.7 1451 1297.7 1452.5 1297.7 1454 1297.7 1455.5 1297.7 1457 1297.7 1458.5 1297.7 1460 1297.7 1461.5 1296.9 1463 1296.6 1464.5 1296.3 1466 1295.9 1467.5 1295.4 1469 1294.9 1470.5 1294.4 1472 1293.9 1473.5 1293.4 1475 1293 1476.5 1292.7 1478 1292.4 1479.5 1292.3 1481 1292.3 1482.5 1292.5 1484 1292.8 1485.5 1293.1 1487 1293.6 1488.5 1294.1 1490 1294.6 1491.5 1295.1 1493 1295.6 1494.5 1296 1496 1295.4 1497.5 1294.8 1499 1294.1 1500.5 1293.3 1502 1292.5 1503.5 1291.7 1505 1290.9 1506.5 1290.3 1508 1289.7 1509.5 1289.4 1511 1289.2 1512.5 1289.3 1514 1289.5 1515.5 1290 1517 1290.6 1518.5 1291.3 1520 1292.1 1521.5 1292.9 1523 1293.7 1524.5 1294.4 1526 1295.1 1527.5 1295.7 1529 1296.2 1530.5 1296.6 1532 1296.9 1533.5 1297.7 1535 1297.7 1536.5 1297.7 1538 1297.7 1539.5 1297.7 1541 1297.7 1542.5 1297.7 1544 1297 1545.5 1296.8 1547 1296.5 1548.5 1296.2 1550 1295.9 1551.5 1295.5 1553 1295.1 1554.5 1294.7 1556 1294.3 1557.5 1294 1559 1293.8 1560.5 1293.7 1562 1293.6 1563.5 1293.7 1565 1293.8 1566.5 1294 1568 1294.3 1569.5 1294.7 1571 1295.1 1572.5 1295.5 1574 1295.9 1575.5 1296.2 1577 1296.5 1578.5 1296.8 1580 1297 1581.5 1297.7 1583 1297.7 1584.5 1297.7 1586 1297.7 1587.5 1297.7 1589 1297.7 1590.5 1297.7 1592 1297.7 1593.5 1297.7 1595 1297.7 1596.5 1297.7 1598 1297.7 1599.5 1297.7 1601 1297.7 1602.5 1297.7 1604 1297.7 1605.5 1297.7 1607 1297.7 1608.5 1297.7 1610 1297.7 1611.5 1297.7 1613 1297.7 1614.5 1297.7 1616 1297.7 1617.5 1297.7 1619 1297.7 1620.5 1297.7 1622 1297.7 1623.5 1297.7 1625 1297.7 1626.5 1297.7 1628 1297.7 1629.5 1297.7 1631 1297.7 1632.5 1297.7 1634 1297.7 1635.5 1297.7 1637 1297.7 1638.5 1297.7 1640 1297.7 1641.5 1297.7 1643 1296.9 1644.5 1296.6 1646 1296.2 1647.5 1295.8 1649 1295.2 1650.5 1294.6 1652 1294 1653.5 1293.3 1655 1292.6 1656.5 1291.9 1658 1291.3 1659.5 1290.9 1661 1290.6 1662.5 1290.4 1664 1290.4 1665.5 1290.6 1667 1291 1668.5 1291.5 1670 1292.1 1671.5 1292.8 1673 1293.5 1674.5 1294.2 1676 1294.8 1677.5 1295.4 1679 1295.9 1680.5 1296.4 1682 1296.1 1683.5 1295.8 1685 1295.4 1686.5 1295 1688 1294.7 1689.5 1294.4 1691 1294.1 1692.5 1294 1694 1293.9 1695.5 1293.9 1697 1294 1698.5 1294.2 1700 1294.5 1701.5 1294.8 1703 1295.2 1704.5 1295.5 1706 1295.9 1707.5 1296.2 1709 1296.5 1710.5 1296.8 1712 1296.7 1713.5 1296.4 1715 1295.9 1716.5 1295.3 1718 1294.6 1719.5 1293.9 1721 1293 1722.5 1292.1 1724 1291.2 1725.5 1290.3 1727 1289.6 1728.5 1288.9 1730 1288.5 1731.5 1288.2 1733 1288.2 1734.5 1288.5 1736 1288.9 1737.5 1289.5 1739 1290.3 1740.5 1291.2 1742 1292.1 1743.5 1293 1744 1297.7Z" fill="#0096ff"/>
<line x1="752" y1="1298" x2="1744" y2="1298" stroke="#bcd" stroke-width="0.8"/>
<line x1="1259" y1="1309.7" x2="1744" y2="1309.7" stroke="#6b6be0" stroke-width="1.3"/>
<path d="M1270 1307.2L1272.5 1309.7L1270 1312.2M1295.6 1307.2L1298.1 1309.7L1295.6 1312.2M1321.2 1307.2L1323.7 1309.7L1321.2 1312.2M1346.8 1307.2L1349.3 1309.7L1346.8 1312.2M1372.4 1307.2L1374.9 1309.7L1372.4 1312.2M1398 1307.2L1400.5 1309.7L1398 1312.2M1423.6 1307.2L1426.1 1309.7L1423.6 1312.2M1449.2 1307.2L1451.7 1309.7L1449.2 1312.2M1474.8 1307.2L1477.3 1309.7L1474.8 1312.2M1500.4 1307.2L1502.9 1309.7L1500.4 1312.2M1526 1307.2L1528.5 1309.7L1526 1312.2M1551.6 1307.2L1554.1 1309.7L1551.6 1312.2M1577.2 1307.2L1579.7 1309.7L1577.2 1312.2M1602.8 1307.2L1605.3 1309.7L1602.8 1312.2M1628.4 1307.2L1630.9 1309.7L1628.4 1312.2M1654 1307.2L1656.5 1309.7L1654 1312.2M1679.6 1307.2L1682.1 1309.7L1679.6 1312.2M1705.2 1307.2L1707.7 1309.7L1705.2 1312.2M1730.8 1307.2L1733.3 1309.7L1730.8 1312.2" fill="none" stroke="#2a2ad0" stroke-width="1"/>
<rect x="1238.6" y="1306" width="6.5" height="6.8" fill="#0000aa"/>
<rect x="1244.8" y="1303.1" width="15.1" height="12.5" fill="#0000aa"/>
<rect x="1547" y="1303.1" width="11.7" height="12.5" fill="#0000aa"/>
<line x1="1743.5" y1="1305" x2="1743.5" y2="1314" stroke="#4040d0" stroke-width="1"/>
<text x="741" y="1218.5" font-size="18.5" text-anchor="end">12</text>
<text x="741" y="1249.5" font-size="18.5" text-anchor="end">2</text>
<text x="742.5" y="1268.6" font-size="18.5" text-anchor="end">12</text>
<text x="744" y="1302" font-size="18.5" text-anchor="end">2</text>
<rect x="824.1" y="1061.3" width="98.6" height="318" fill="rgba(225,125,47,0.32)"/>
<rect x="1164.3" y="1061.3" width="61.2" height="318" fill="rgba(225,125,47,0.32)"/>
<rect x="1371" y="1061.3" width="60.5" height="318" fill="rgba(225,125,47,0.32)"/>
<rect x="1453.6" y="1061.3" width="61.2" height="318" fill="rgba(225,125,47,0.32)"/>
<rect x="1573.9" y="1061.3" width="60.6" height="318" fill="rgba(225,125,47,0.32)"/>
<path d="M1234.6 1335.3H1269.5V1327.8L1282.5 1340.8L1269.5 1353.8V1346.3H1234.6Z" fill="#000" stroke="#1f2d4d" stroke-width="2.6" stroke-linejoin="miter"/>
<text x="1286.8" y="1349.9" font-size="30.3" font-weight="bold" font-style="italic">Msh6</text>
<text x="1083" y="1409.5" font-size="32" fill="#333" textLength="431" lengthAdjust="spacingAndGlyphs">chr17: 87,966,915-87,983,445</text>
<rect x="1088" y="1426.5" width="28.5" height="22" fill="#7f7f7f"/>
<text x="1133" y="1444.8" font-size="28.8" fill="#222">sgScramble</text>
<rect x="1356.4" y="1426.5" width="24.6" height="22" fill="#5aa3f5"/>
<text x="1391.8" y="1444.8" font-size="28.7" fill="#222">sgKdm6a</text>
<text x="-2.5" y="1473" font-size="58">G</text>
<text x="295.7" y="1425" font-size="33" text-anchor="middle">RNA-seq</text>
<text x="106" y="1460" font-size="29" textLength="152" lengthAdjust="spacingAndGlyphs">sgScramble</text>
<text x="317.5" y="1460" font-size="29" textLength="165.4" lengthAdjust="spacingAndGlyphs">sgKdm6a C1</text>
<path d="M333.4 1828.4h0M286.8 1828.8h0M293.1 1819.7h0M251.9 1839.4h0M302.5 1816.6h0M341.9 1815h0M231 1834.9h0M210.5 1814.2h0M207.3 1819.8h0M322 1828.7h0M246.8 1835.2h0M254 1841h0M213.3 1821.1h0M318.1 1838.6h0M323.3 1826.2h0M334.2 1813.7h0M292.7 1826.6h0M225.4 1839h0M311 1824.5h0M217.1 1817.5h0M227.9 1815.6h0M233.8 1831.8h0M293.9 1837.4h0M233.2 1817.5h0M317.6 1822.4h0M233.6 1823.6h0M294.4 1826.5h0M233.2 1816.9h0M250.2 1822.1h0M216.5 1823.3h0M288.7 1832.6h0M339.1 1825.7h0M325.1 1829.4h0M333 1819.6h0M239 1840.2h0M329.2 1820.1h0M223 1833.3h0M236.6 1814.9h0M317.2 1836.6h0M232.4 1833h0M241.2 1837.1h0M290.5 1831.8h0M232.5 1822.8h0M266.6 1814.2h0M255.5 1815.6h0M256.8 1832.3h0M286.5 1835h0M205.2 1818.2h0M324.9 1843.2h0M338.8 1837.4h0M308.8 1816.1h0M297.2 1842.9h0M331 1825.1h0M307.6 1842h0M289.2 1841.7h0M289.8 1826.1h0M345.8 1816.3h0M262.7 1842.3h0M268.3 1837.5h0M304.1 1840.9h0M271.8 1814.6h0M246.2 1822h0M233 1835.7h0M268.7 1843.1h0M293.3 1842.6h0M318.3 1820.1h0M248.7 1826.2h0M323 1818.1h0M326.6 1841.2h0M267.5 1822.7h0M262.3 1822.6h0M251.2 1834h0M210 1828.4h0M298.4 1842h0M314.1 1832.2h0M268 1814.3h0M236.4 1814.5h0M293.1 1818.2h0M296.2 1828.2h0M270.5 1819.5h0M246.8 1836.9h0M261.4 1833.6h0M306.6 1816.5h0M292.6 1817.9h0M282.4 1843.2h0M290.6 1844.3h0M320 1820.3h0M238.1 1834.5h0M304 1845.4h0M324.8 1824.1h0M266.2 1825h0M211.2 1814.6h0M255.8 1839.7h0M233.2 1839.3h0M321.1 1830.5h0M294.2 1823.1h0M283.1 1830.7h0M323.4 1823.8h0M313.2 1842.9h0M282.1 1845.1h0M337.3 1833.3h0M315.8 1830.4h0M300.7 1832h0M262.1 1815.8h0M221.5 1822.4h0M330.3 1827.8h0M232.5 1829.2h0M205.9 1817.9h0M301.3 1820h0M291.5 1824.1h0M220.1 1817.1h0M233.9 1830.3h0M258.3 1830.9h0M227 1827.1h0M294.3 1820.3h0M290.1 1830.9h0M302.5 1841.5h0M334.3 1823.9h0M246.3 1842.5h0M224.7 1837.3h0M308.9 1840.7h0M301.2 1817.8h0M301 1814.2h0M311.7 1817.4h0M232.6 1830h0M207.6 1816h0M284.4 1831.6h0M232 1818.4h0M228.3 1843.8h0M302.2 1844.6h0M206.9 1827.6h0M234.9 1836.4h0M261.7 1828.4h0M318.4 1814.2h0M292.3 1836.6h0M309.3 1822.1h0M264.1 1838.9h0M309.8 1836.2h0M214.4 1826.9h0M205.5 1824.8h0M292 1825.2h0M298.2 1821.2h0M284.4 1824.6h0M342.5 1831h0M309.7 1834.5h0M286.3 1845.5h0M263.4 1837.7h0M256.5 1815.3h0M333.1 1816.9h0M337.9 1831.5h0M220.1 1834.4h0M215.1 1833.1h0M271.9 1843.9h0M290.5 1819.2h0M263 1815.6h0M256.9 1830.8h0M283.1 1823h0M245.6 1822.9h0M208.1 1814.1h0M258.7 1818.8h0M225.9 1842.8h0M264.3 1816.1h0M336.8 1821.6h0M336.7 1837.2h0M230.2 1840.2h0M236.5 1834h0M220.1 1815.4h0M268.5 1828.1h0M263.1 1822.2h0M336 1838.9h0M330.5 1821.4h0M258.5 1839.2h0M283.7 1822.5h0M308.9 1832.9h0M343.2 1819.8h0M241.3 1815h0M219.2 1827.5h0M219.4 1831.3h0M292.6 1835.6h0M233.8 1825.8h0M322.3 1824.8h0M319.2 1816.1h0M237.8 1833.9h0M317.8 1827.5h0M343.4 1825.7h0M309.3 1824.2h0M260.9 1843.6h0M213.7 1816.8h0M311.2 1835.9h0M298 1816.1h0M307 1816.3h0M229.9 1836.2h0M255.7 1825.3h0M284.5 1817.5h0M307.5 1843.3h0M260.3 1823.6h0M255.4 1821.7h0M258.7 1825.5h0M317 1820h0M283.6 1831.2h0M329.1 1819.4h0M337.8 1831.3h0M218.8 1834.8h0M219.2 1831.4h0M332.2 1816.3h0M223.1 1816.4h0M244 1837.9h0M255.7 1838.5h0M274 1845.1h0M303.1 1831.1h0M310 1843.4h0M315.2 1835.3h0M277.2 1844.8h0M265.8 1836.7h0M308.3 1827.3h0M241.4 1845.9h0M244.8 1820.3h0M255.2 1845.2h0M314.3 1817.4h0M268.6 1819.5h0M213.7 1832.6h0M233.8 1817.2h0M288 1821.3h0M243.3 1820.9h0M247.6 1819.3h0M333.4 1822.1h0M339 1824.8h0M213.2 1829.3h0M212 1835h0M315.6 1829h0M232.1 1836.8h0M240 1818.8h0M290.5 1841.9h0M278 1845.9h0M202.9 1818.6h0M248.5 1840.4h0M249.2 1832.7h0M325.6 1839.3h0M232.4 1816.6h0M229 1831.3h0M253.4 1840.7h0M269.8 1816.1h0M299.7 1836.9h0M269 1817.1h0M259.6 1834.9h0M284 1836.7h0M342.6 1828.6h0M289.3 1839.6h0M259.3 1823.4h0M236.8 1835.3h0M331.9 1837.4h0M252.7 1832h0M233.5 1840.5h0M304.6 1816.7h0M322.8 1819.5h0M239.1 1832.9h0M261.2 1818.8h0M264 1816h0M311.2 1830.3h0M255.6 1840.3h0M260.7 1827.1h0M288.6 1839.3h0M251.6 1814.3h0M259.6 1834.8h0M319.2 1830.2h0M310.5 1833.5h0M259 1843h0M304 1829.9h0M296.2 1845.7h0M326.7 1840.8h0M220.8 1834h0M302.6 1821.6h0M254.9 1824.4h0M340 1828.7h0M243.7 1831.9h0M231.1 1840.2h0M321.7 1840.5h0M321.6 1821.5h0M213.9 1819.7h0M345.2 1814.7h0M254.6 1844.2h0M260.3 1835.5h0M211.2 1832.9h0M223.5 1820.2h0M228.7 1826.2h0M284.2 1830.6h0M209.3 1824.5h0M335 1835.5h0M263.6 1833.2h0M309.3 1833.9h0M337.1 1838.1h0M283.8 1827h0M277.7 1843.1h0M249.7 1827.7h0M332.5 1815.4h0M307.5 1837.5h0M213.6 1823.6h0M301.9 1826.6h0M248.9 1830.8h0M213.9 1826.5h0M265.4 1835.3h0M304.7 1839.8h0M221.6 1832.1h0M248.2 1844.6h0M212.6 1823.4h0M286.5 1826.6h0M332.3 1815.2h0M336 1823.7h0M245 1845.4h0M330.8 1823.3h0M253.7 1820h0M327 1829h0M287.7 1846h0M210.2 1819.9h0M247.6 1817.1h0M300.8 1836.8h0M230.6 1844.1h0M304.6 1820.9h0M236.7 1820.1h0M259.1 1835.3h0M287.3 1835.2h0M335.4 1821.1h0M293.7 1835.3h0M265.9 1816.6h0M213.6 1830.8h0M242.4 1833.2h0M249.9 1839.8h0M248.3 1838.2h0M328.5 1831.5h0M270.8 1845.8h0M329 1838.1h0M282.6 1829.9h0M296.2 1834.6h0M303.8 1844.6h0M236.6 1819h0M314.4 1828h0M305.7 1814.8h0M232.6 1832.3h0M241.7 1827.8h0M324.1 1839.6h0M314.1 1832.2h0M247.6 1821.4h0M292.1 1815h0M287 1830.7h0M227.1 1816.5h0M301.6 1821.9h0M224.4 1840.7h0M234.9 1827h0M273.6 1845.2h0M309.7 1818.4h0M331.1 1814.9h0M245.5 1818.3h0M209.7 1827.5h0M244.7 1837.5h0M270 1831.6h0M257.6 1844h0M228.3 1845.5h0M212.6 1826.8h0M325.9 1824.8h0M270.3 1832.9h0M257.8 1826.4h0M257.1 1839.1h0M226.4 1819.6h0M269.9 1820.3h0M344.4 1823.7h0M237.6 1835.7h0M301.4 1826.1h0M206.7 1825.5h0M259.2 1819.6h0M250.2 1843.7h0M336 1825.4h0M306 1825.4h0M255.7 1843.1h0M328.3 1826.2h0M236.6 1815.5h0M288.4 1815h0M263.5 1814.7h0M302.9 1831.3h0M298.2 1822.1h0M243 1818.5h0M261.3 1836.8h0M251.8 1841.8h0M209.7 1824.9h0M284.1 1814.5h0M333.9 1823.4h0M298.3 1820.7h0M216.1 1821.3h0M213.4 1827.6h0M260.7 1822.8h0M297.5 1829.1h0M252 1821.5h0M286.1 1827.4h0M301.4 1836.5h0M254.8 1814.4h0M210.1 1815.7h0M270.7 1829.8h0M207.2 1824.2h0M283.8 1824.9h0M229.9 1822.2h0M337.3 1828.9h0M336.8 1825.5h0M290.3 1838.7h0M243.3 1827h0M209.6 1826.1h0M247 1818.1h0M235.5 1818.5h0M211.3 1835.8h0M240.1 1831.3h0M281.5 1829.7h0M318.9 1834h0M259 1845.1h0M298.9 1842.5h0M335.3 1836.3h0M289.5 1840.5h0M257.1 1829.6h0M249.6 1821.4h0M221 1819.4h0M217 1815.7h0M269.6 1836.6h0M234.4 1838.8h0M301.3 1839.5h0M249.9 1821.9h0M322.9 1824.5h0M266.1 1840.6h0M318.1 1836.6h0M260.8 1839.7h0M234.8 1835.4h0M338.6 1814.1h0M293.8 1845.2h0M260.2 1827.3h0M219.2 1815.3h0M308.1 1815h0M257.7 1846h0M316.8 1825.8h0M262.8 1840.9h0M338.7 1833.7h0M236.7 1839.7h0M238.7 1817.2h0M250.8 1829.5h0M222.8 1814.3h0M239.7 1834h0M241.9 1829.3h0M331.4 1815.3h0M229.6 1823.7h0M260 1827.1h0M297.2 1815.5h0M333.1 1833.9h0M305.9 1828.1h0M227.1 1819.4h0M254.2 1817.5h0M341.3 1814h0M319.6 1814h0M263.4 1839.4h0M260.4 1816.9h0M328.2 1836.6h0M234.9 1814.4h0M296.6 1826.3h0M291.7 1840h0M331.6 1825.2h0M251.2 1824.1h0M306.2 1837.8h0M231.8 1831.4h0M253 1817.1h0M314.2 1844.6h0M168 1837.1h0M175.8 1843.6h0M186.2 1843.6h0M207 1843.6h0M222.6 1844.9h0M339.5 1843.6h0M357.7 1843.6h0M369.4 1842.3h0M378.5 1837.1h0M383.7 1834.5h0M391.5 1826.7h0M399.3 1818.9h0M404.5 1813.7h0M162.8 1831.9h0M158.9 1824.1h0M175.8 1816.3h0M183.6 1824.1h0M191.4 1831.9h0M199.2 1837.1h0M349.9 1831.9h0M362.9 1826.7h0M157.6 1818.9h0M404.5 1813.7h0M188.8 1813.7h0M347.3 1813.7h0M189.5 1814.6h0M346.9 1814.6h0M159.2 1820.6h0M401.8 1815.6h0M190.2 1815.5h0M346.4 1815.5h0M190.9 1816.4h0M346 1816.4h0M160.8 1822.3h0M399.1 1817.6h0M191.6 1817.3h0M345.5 1817.3h0M192.3 1818.2h0M345.1 1818.2h0M162.4 1824h0M396.4 1819.6h0M193.1 1819h0M344.6 1819h0M193.8 1819.9h0M344.2 1819.9h0M164 1825.7h0M393.7 1821.6h0M194.5 1820.8h0M343.7 1820.8h0M195.2 1821.7h0M343.3 1821.7h0M165.6 1827.4h0M391 1823.5h0M195.9 1822.6h0M342.8 1822.6h0M196.6 1823.5h0M342.4 1823.5h0M167.3 1829.1h0M388.3 1825.5h0M197.4 1824.4h0M341.9 1824.4h0M198.1 1825.3h0M341.5 1825.3h0M168.9 1830.8h0M385.7 1827.5h0M198.8 1826.2h0M341 1826.2h0M199.5 1827.1h0M340.6 1827.1h0M170.5 1832.5h0M383 1829.4h0M200.2 1828h0M340.1 1828h0M201 1828.9h0M339.7 1828.9h0M172.1 1834.2h0M380.3 1831.4h0M201.7 1829.8h0M339.2 1829.8h0M202.4 1830.7h0M338.8 1830.7h0M173.7 1835.9h0M377.6 1833.4h0M203.1 1831.6h0M338.3 1831.6h0M203.8 1832.5h0M337.9 1832.5h0M175.3 1837.6h0M374.9 1835.4h0M204.5 1833.4h0M337.4 1833.4h0M205.3 1834.3h0M337 1834.3h0M176.9 1839.3h0M372.2 1837.3h0M206 1835.2h0M336.5 1835.2h0M206.7 1836.1h0M336.1 1836.1h0M178.5 1841h0M369.5 1839.3h0M207.4 1837h0M335.7 1837h0M208.1 1837.9h0M335.2 1837.9h0M180.2 1842.7h0M366.8 1841.3h0M208.8 1838.8h0M334.8 1838.8h0M209.6 1839.7h0M334.3 1839.7h0" stroke="#d3d3d3" stroke-width="8.4" stroke-linecap="round" fill="none"/>
<line x1="274" y1="1470" x2="274" y2="1861" stroke="#a0a0a0" stroke-width="3.7" stroke-dasharray="3.7 10.2" stroke-dashoffset="-9"/>
<line x1="277.8" y1="1470" x2="277.8" y2="1861" stroke="#87ceeb" stroke-width="4" stroke-dasharray="3.7 10.2" stroke-dashoffset="-9"/>
<path d="M235 1557.8h0M233.7 1544.2h0M209.5 1795.3h0M238 1775.7h0M206.5 1650.9h0M225.6 1759.4h0M221.1 1703.2h0M201.1 1673h0M233.4 1690.8h0M221.5 1810h0M245 1646.4h0M229.5 1756.7h0M262 1810.3h0M247.5 1718.3h0M245.3 1634.3h0M232.7 1550.1h0M211.7 1742.9h0M246.5 1747.1h0M219.8 1746.1h0M222.9 1518.9h0M202.6 1768.3h0M239.5 1545.5h0M208 1772.1h0M198.7 1704.2h0M232.7 1597h0M205.2 1712.8h0M205.3 1712.5h0M210.1 1685.2h0M252.4 1810.7h0M222.9 1603.7h0M226.9 1619.6h0M246.2 1793.3h0M254.6 1706.9h0M202.6 1682.3h0M223.6 1622.9h0M246.5 1797.5h0M222.7 1705.4h0M222 1568.3h0M234.8 1753.8h0M249.4 1664.3h0M223.9 1515h0M218.5 1722h0M195.6 1779.1h0M219.8 1692.7h0M235.6 1637.8h0M257.9 1698.2h0M215.4 1554.5h0M232.1 1513.4h0M213.4 1689.4h0M247 1750.8h0M198 1794.3h0M228.5 1600.7h0M212.6 1584.6h0M204.4 1671.4h0M242.1 1653.3h0M211.8 1566.7h0M229.8 1557.2h0M233.4 1657.4h0M209.7 1621h0M242.9 1753.1h0M222 1495.5h0M258.3 1801.3h0M216.1 1511.7h0M229.5 1785.9h0M232.1 1794.9h0M215.2 1781h0M220 1727.3h0M219.5 1626.2h0M204.1 1626.6h0M230.7 1758.8h0M212.1 1664.8h0M222 1518.5h0M240 1644.1h0M222.1 1645.2h0M240.1 1801.4h0M240 1799.6h0M231.8 1606.5h0M227.6 1678.5h0M220.5 1503.5h0M235.2 1617.4h0M216.5 1757.4h0M238.2 1753.5h0M253.8 1694.5h0M196.7 1731.7h0M239.8 1726.6h0M203.7 1807.1h0M245 1741.1h0M223.9 1609.4h0M235.2 1524.7h0M237.3 1509.5h0M204.6 1703.5h0M242.1 1524.8h0M229 1555.1h0M254.1 1759.9h0M223.3 1640.3h0M244.3 1788.9h0M216.2 1552.1h0M227.9 1600.3h0M242.7 1612.9h0M226.1 1603.1h0M248.5 1806h0M235.9 1562.4h0M202.9 1673.7h0M243.3 1755.2h0M229.5 1627.3h0M230.8 1804.5h0M240.3 1645h0M238.5 1519.6h0M218.2 1671.5h0M202.5 1735.6h0M208.9 1741.9h0M206.6 1660.7h0M254.3 1735.7h0M221 1787.6h0M217.4 1796.4h0M212.8 1765.9h0M229.1 1567.5h0M218.8 1568.9h0M219.4 1575.1h0M231.9 1765h0M238.5 1725.6h0M213.3 1786h0M223.2 1562.3h0M219 1651.1h0M252.3 1700.5h0M229.6 1508.3h0M260.1 1806.8h0M200.9 1742.2h0M228.8 1658.1h0M213.7 1601.7h0M227.4 1716.2h0M216.4 1669.3h0M263.6 1792.4h0M261.5 1788h0M234.3 1678.8h0M205.1 1799.2h0M235.9 1494h0M233.1 1710.8h0M196.3 1733.2h0M227.3 1804.3h0M206.6 1595.6h0M234.1 1737.4h0M236.8 1657.8h0M246.2 1634.6h0M219.5 1543.5h0M233.7 1594.8h0M221 1546.4h0M230.6 1706.1h0M224.7 1565.9h0M224.5 1809h0M240.2 1612.5h0M247.5 1741.4h0M231.1 1610h0M248.7 1728.1h0M245.8 1610.3h0M240 1533h0M221.6 1799.5h0M246.3 1789.8h0M206 1794.6h0M207.4 1634.2h0M223.1 1509.6h0M218.6 1502.3h0M241.9 1662.4h0M215 1512.8h0M206.6 1787.6h0M218.6 1594h0M244.5 1636.2h0M249.7 1637.9h0M253.1 1805.2h0M210.6 1616.8h0M218 1555.2h0M238.7 1746.9h0M201.8 1637.9h0M217.9 1585.5h0M226.3 1688h0M219.5 1689.7h0M223.2 1774.5h0M218.2 1662.4h0M260.7 1784.2h0M205.8 1764.4h0M236.1 1580.3h0M234.7 1578.8h0M226.9 1599.4h0M221.9 1787.1h0M203.7 1692.3h0M234.6 1648.5h0M229.5 1802.6h0M255.2 1746.5h0M230.1 1650.6h0M230.7 1794.7h0M210.9 1650.3h0M251.1 1785.3h0M247.1 1718.3h0M244.1 1585.1h0M200.2 1790.4h0M257.3 1703.8h0M207.3 1770.4h0M258.2 1712.6h0M241.3 1689.4h0M252.7 1736.9h0M221.1 1694.7h0M212.2 1601.5h0M238.7 1745.7h0M229.6 1739.1h0M214.6 1589.3h0M254.5 1697.5h0M261.6 1783.5h0M214.2 1738.7h0M202 1656.6h0M227 1767.5h0M209.2 1729.1h0M217.9 1675.6h0M223.3 1509h0M222.4 1694.8h0M244 1563h0M233.6 1526h0M237.6 1734.9h0M213.8 1792.3h0M241.8 1658.3h0M228.9 1504.8h0M245.2 1723.3h0M225.4 1697.5h0M225.3 1627.3h0M200.8 1797.6h0M233.2 1509.4h0M222.8 1628.9h0M222.2 1673.2h0M235 1698.1h0M226.9 1528.1h0M224.4 1491.7h0M250.3 1639h0M234.8 1764.1h0M218.9 1525.3h0M222.7 1768.6h0M219.9 1717.2h0M217.3 1628.7h0M216.4 1689.7h0M226.8 1738.2h0M220.4 1773.1h0M239.8 1742.5h0M242.7 1727.9h0M244.3 1796h0M212.9 1628.1h0M259.7 1737.5h0M235.8 1736.2h0M245 1558.2h0M221.4 1754.1h0M242.8 1678.8h0M212.5 1729.7h0M231 1716.2h0M255 1808.2h0M237.1 1796.2h0M209.1 1658.5h0M246.6 1702.5h0M231.7 1623.2h0M251.9 1636.4h0M233.2 1510.8h0M220.8 1711.3h0M229.1 1575.4h0M216.7 1700.6h0M211.7 1770.8h0M213.8 1544.2h0M213.1 1745.2h0M202.1 1645.7h0M209.4 1753.3h0M218.1 1715.6h0M227.2 1772.7h0M240 1588.5h0M255.2 1672.1h0M231.9 1559.1h0M224.2 1597.5h0M240.6 1756.2h0M234.6 1542.1h0M219.6 1770.7h0M205.1 1663.4h0M240.7 1500.6h0M213.8 1506.6h0M214.2 1713.5h0M217.3 1703.8h0M230 1638.7h0M216 1602.3h0M208.8 1581.5h0M240.5 1573.8h0M217.1 1639.2h0M237.5 1775.5h0M228.1 1701.3h0M226.7 1621h0M228.5 1639h0M210.5 1743.4h0M215 1493.4h0M214.5 1746h0M241.7 1758.9h0M221.9 1729h0M259.3 1809.6h0M241.4 1510.5h0M216.9 1663.5h0M262.5 1767.3h0M224.4 1490.6h0M231.7 1694.8h0M250.3 1792.6h0M209 1679.3h0M224.9 1706.1h0M231.7 1663.5h0M211.4 1692.2h0M202.3 1700.4h0M258 1734.7h0M235.2 1668.4h0M200.4 1722.4h0M212.5 1532h0M215.6 1798.7h0M237.8 1756.2h0M217.6 1802h0M199.5 1785.5h0M220.6 1547h0M261.4 1761.7h0M221 1704.6h0M200.6 1720.2h0M228.7 1646.7h0M240.8 1502.1h0M211 1607.3h0M210.1 1670.5h0M251.3 1722.5h0M226.4 1497.1h0M245.5 1761.5h0M199.6 1734.4h0M206.1 1755.4h0M237.5 1498.4h0M205.9 1610.5h0M257.1 1762.3h0M221.6 1498.4h0M217.6 1548.5h0M208.2 1695.1h0M208.1 1660.9h0M221.3 1671.5h0M232.8 1640.9h0M211 1549.3h0M221.5 1775.7h0M234.4 1529.3h0M214.4 1782.4h0M256.4 1742h0M239.7 1546.8h0M259.5 1735.9h0M219.6 1727.7h0M256.4 1779.1h0M246.8 1812h0M226 1799.4h0M243.4 1670.2h0M231.6 1577.4h0M239.9 1548.6h0M225 1808.1h0M249.8 1712.5h0M205.9 1596.9h0M221.5 1486.8h0M203.4 1809.6h0M227.1 1719.7h0M255.7 1721.9h0M221.4 1623.5h0M208.9 1637.2h0M224.9 1539.1h0M254.2 1672.9h0M214.3 1505.2h0M250 1709.2h0M233.3 1607.6h0M214.9 1494.5h0M228.8 1538.9h0M203.3 1755h0M251.5 1705.1h0M247.8 1666.9h0M199 1692.6h0M232.2 1641.6h0M203.5 1652.4h0M225.7 1744.8h0M225.9 1644h0M225.2 1535.3h0M224.6 1682.6h0M242.6 1582.4h0M241.2 1555.7h0M207.9 1643.7h0M198.6 1776.6h0M224.8 1706.4h0M253.2 1683.5h0M239 1595.5h0M232.5 1521.8h0M198.7 1744.1h0M216.3 1683h0M240.2 1785.3h0M219.4 1795.7h0M228.9 1745.5h0M214.3 1796.1h0M209 1666.2h0M218 1728.8h0M204.2 1723.5h0M237.7 1517.4h0M219.9 1648.1h0M248.3 1606.5h0M239.6 1683.7h0M243.4 1681.2h0M244.2 1802.5h0M220.8 1608.3h0M219.2 1697.3h0M240.8 1762.4h0M238.5 1761.4h0M213.4 1568.1h0M212.2 1584.9h0M211.9 1777.2h0M252.8 1733.8h0M214 1601.3h0M218.9 1581h0M237.1 1724h0M208.2 1748h0M237 1525.3h0M225.1 1682.9h0M200.9 1681.5h0M249.7 1623.5h0M203.2 1769.3h0M232.5 1749.7h0M225 1517.9h0M243.2 1798.2h0M229.9 1704.5h0M236.9 1621.1h0M246 1710.9h0M204.9 1755.4h0M240.1 1501.6h0M226 1587.2h0M243.3 1670.3h0M231.8 1748.3h0M235.3 1508.8h0M222.8 1678.9h0M225.2 1656h0M218.3 1521h0M200.1 1660h0M226 1808.2h0M252.5 1804.9h0M216.1 1554.2h0M203.4 1783h0M233.5 1601.2h0M224.4 1721h0M220.1 1635.2h0M237.5 1634.6h0M212.5 1592.7h0M208.4 1603.4h0M216.4 1759.4h0M210.6 1606.5h0M208.6 1610.7h0M208.2 1744.1h0M225.3 1726.5h0M239.9 1602h0M262.8 1786.3h0M266.5 1792.1h0M225.9 1525.7h0M208.8 1759.9h0M229.7 1779h0M221.6 1502.7h0M234.3 1509.4h0M208.5 1597.2h0M231.1 1664.4h0M234.3 1581.1h0M222 1595.7h0M220.2 1574.3h0M209 1583.4h0M246.7 1643h0M228.1 1603.7h0M234.7 1494h0M218.8 1667.7h0M247.2 1731.2h0M244 1758.8h0M230.2 1706h0M245.9 1675.1h0M246.1 1766.1h0M251.8 1687.2h0M233 1488.5h0M213.4 1772.9h0M255.9 1724.8h0M226.2 1658.4h0M243.5 1596.5h0M227.4 1791h0M224.9 1522h0M231.8 1640.4h0M260.7 1792.9h0M211.6 1756.6h0M232.2 1636.2h0M210.8 1588.1h0M211 1760.4h0M201.2 1779h0M249 1801.6h0M213.7 1736.5h0M217.7 1657.5h0M256 1694.7h0M243.7 1555.1h0M256.7 1796.1h0M233.4 1763h0M198 1758.8h0M247.7 1809.3h0M220.1 1703.1h0M251.8 1694.8h0M225.9 1722.2h0M234 1553.1h0M199.9 1665h0M213.7 1615.9h0M234.6 1558.4h0M196.1 1784h0M244.9 1769.2h0M218.5 1686.4h0M237.2 1783.4h0M232.6 1636.1h0M198.9 1685.9h0M261.4 1757.1h0M218.4 1615.6h0M235.7 1615h0M224.5 1517.9h0M220.8 1560h0M228.2 1778.3h0M229.2 1657.1h0M221.3 1507.5h0M242.1 1752.2h0M204.9 1727.9h0M259.7 1730.1h0M232.9 1739.1h0M206.4 1689.8h0M216.9 1802.1h0M203.2 1806.2h0M211 1704.4h0M211.8 1776.2h0M234.2 1755h0M240.8 1510.8h0M243.3 1658.1h0M225.1 1753.2h0M203.5 1788h0M217.6 1721.4h0M222.9 1737.9h0M215.7 1657.7h0M247.9 1776.1h0M204.5 1605.8h0M267.8 1800.4h0M208.4 1678.3h0M216.6 1582.8h0M227.5 1534.2h0M248.7 1623.2h0M201.6 1659.9h0M211.6 1757.9h0M232.9 1784.9h0M238.9 1502.9h0M214.3 1508h0M200 1773.4h0M224.1 1602.4h0M204.2 1687.1h0M224.2 1660.5h0M250.1 1749.7h0M238.2 1565.8h0M252 1661.2h0M209.6 1712.7h0M229.7 1643.3h0M207.9 1622.1h0M258.4 1791.2h0M196.4 1793.4h0M237.4 1527.4h0M205.4 1683.9h0M206.1 1695.8h0M245.2 1679.9h0M215.6 1755.9h0M227.4 1708.5h0M253 1783.7h0M218.4 1749.1h0M241.7 1580.6h0M261 1802.2h0M238.8 1787.5h0M207.1 1796.9h0M225.5 1671.9h0M252.3 1753h0M204 1635.4h0M222.6 1743.6h0M215.4 1506.7h0M242.7 1624.8h0M215 1666.7h0M238.7 1760h0M210.2 1692.5h0M214.7 1793.9h0M211 1553.6h0M195.5 1770.4h0M234.2 1674.2h0M214.3 1783.6h0M243 1684.1h0M236.2 1676.1h0M208.8 1587.5h0M204.5 1685.3h0M245.1 1739.5h0M243.8 1575.2h0M261.1 1756.5h0M217.5 1689.2h0M215.2 1609.9h0M198.6 1721.2h0M242.4 1605.9h0M233.3 1664.6h0M230.7 1666.6h0M206.5 1666.5h0M237.4 1795h0M209.8 1655.3h0M210.7 1743.6h0M216.1 1577.1h0M226.7 1682h0M225.8 1686h0M242.5 1710.8h0M243.6 1687.2h0M224.9 1580.3h0M208.4 1725.8h0M232.2 1797.4h0M226.9 1810.9h0M230.4 1514.6h0M246.1 1720.6h0M230.6 1683.2h0M203.3 1703.8h0M223.7 1706.4h0M209.6 1802.6h0M209.2 1653h0M243.8 1776h0M261.4 1811.3h0M239.3 1782.5h0M219.4 1636.2h0M242 1640h0M254.1 1681.7h0M230.6 1681.5h0M239.1 1769.1h0M209.1 1645.2h0M225 1561.8h0M234.8 1682.4h0M260.3 1748.6h0M213.9 1664.4h0M239.8 1718.7h0M230.5 1629.2h0M230.6 1656.7h0M203.1 1796.1h0M202.3 1808.4h0M197.3 1753.2h0M206.1 1761.4h0M222.5 1490.3h0M220.3 1705.8h0M249.1 1642.6h0M226.5 1643.7h0M234.5 1748.8h0M218.2 1516.1h0M212.6 1651.1h0M243.6 1710.9h0M271.3 1810.9h0M210.3 1634.7h0M214.8 1519.8h0M214.3 1663.1h0M205.7 1736.4h0M230.2 1689.1h0M246 1715.4h0M228 1520h0M251.1 1794.4h0M207.2 1646.7h0M229.7 1710.5h0M239 1602.5h0M239.7 1653.2h0M218.6 1568.9h0M238.4 1681.1h0M227.1 1665.9h0M243.9 1568.7h0M215.9 1524.8h0M198.2 1800.8h0M199.6 1725.6h0M211.2 1736.2h0M211.2 1740.2h0M209.5 1683.1h0M228.2 1508.4h0M235.7 1680.6h0M222.6 1670.1h0M254.6 1760.8h0M254.3 1807.8h0M212.6 1711.3h0M223.6 1665.4h0M234.8 1564.3h0M216 1775.1h0M233.4 1632.3h0M248.3 1732.8h0M234.3 1632.5h0M227.5 1622.5h0M217 1605h0M217.9 1803.5h0M240.2 1508.5h0M248.5 1705.9h0M227.6 1517h0M239.8 1752.7h0M213.4 1532.2h0M239.9 1675.6h0M251.8 1721.8h0M229.5 1544.8h0M255.3 1707.7h0M240.3 1638.6h0M225.9 1666h0M231 1638.3h0M215.3 1534.9h0M253.9 1726.8h0M215.4 1684.6h0M253.2 1779.4h0M242.4 1709h0M223.8 1536.9h0M212.8 1595.4h0M240.7 1616.7h0M252.6 1773.1h0M223.8 1784.2h0M220 1679.6h0M237.8 1692.5h0M217 1632.7h0M214.3 1798.5h0M251.6 1660.7h0M234.2 1512.2h0M236.3 1647.8h0M217.8 1516.3h0M218.9 1585.4h0M228.5 1523.5h0M202.3 1733.4h0M205.6 1723.7h0M242 1646.2h0M220.4 1651.3h0M203.9 1662.2h0M266.9 1791.3h0M233.1 1663.8h0M234.3 1642h0M203.5 1630.7h0M237.7 1582.1h0M241.6 1642.5h0M221.4 1656h0M215.6 1486.8h0M236.2 1799.9h0M244.6 1793.1h0M236.8 1685.5h0M204.4 1625.8h0M252.2 1810.6h0M238.6 1612.6h0M228.8 1725.2h0M238 1711.8h0M230.3 1789.4h0M209.9 1652.9h0M233.4 1654.4h0M207.2 1757.1h0M233 1796.7h0M214.8 1636.2h0M212.2 1547h0M213.2 1696.8h0M229.3 1796.6h0M228.4 1788.7h0M216.2 1729.8h0M203.9 1730.2h0M247.4 1729h0M202.9 1689h0M225 1522.5h0M210.4 1764.3h0M208.9 1761h0M207.4 1731.1h0M233.6 1497.8h0M201.1 1734.8h0M200.4 1782.6h0M249.5 1727.6h0M259.2 1733.9h0M233.8 1636.8h0M257.5 1743.3h0M196.3 1772.7h0M254.5 1682.3h0M242.1 1668.3h0M215.3 1629.2h0M202.7 1666.3h0M250.6 1743h0M214.2 1742.7h0M243.4 1637.1h0M226.1 1552.9h0M230.4 1502.7h0M202.9 1683.3h0M216.6 1669.1h0M227.2 1559h0M234.7 1605.8h0M230.3 1726.3h0M213.3 1744.7h0M208.9 1690.5h0M218.1 1749.3h0M211.3 1590.7h0M195 1770.6h0M254.1 1805.9h0M253 1697.3h0M215.3 1511.9h0M201.2 1785h0M246.9 1739.7h0M208.4 1693.1h0M225.5 1532.8h0M241.2 1525.3h0M219.2 1677h0M241.3 1607.5h0M225.5 1688.8h0M227.8 1509h0M232 1661.7h0M216.1 1632.6h0M252.3 1691h0M212.8 1558.3h0M229.3 1547.1h0M211.3 1694.9h0M200.4 1683.3h0M209.6 1749.2h0M231 1687.1h0M213 1562.4h0M266.3 1799h0M221 1689.7h0M207.7 1604h0M225.9 1565.6h0M249.1 1643.3h0M250 1775.1h0M244.2 1739.9h0M223.5 1600.8h0M255.8 1750h0M243.5 1722.9h0M230.7 1680.1h0M227.5 1584.1h0M210.7 1693.7h0M238.5 1688.1h0M236.6 1639.3h0M242.2 1803.7h0M228.2 1686.3h0M250.5 1770.6h0M258.3 1703.9h0M219.7 1509.5h0M235.1 1776.3h0M200.4 1777.6h0M241.5 1801.2h0M216 1731.8h0M262.9 1781.5h0M203.2 1722.8h0M230.1 1542.7h0M210.2 1591.5h0M205 1709.8h0M240.7 1603.9h0M218.3 1738.8h0M231.5 1506.2h0M210.2 1796.9h0M202.4 1670.1h0M202.5 1722.5h0M220.6 1588.8h0M232.6 1541.7h0M262.5 1797.2h0M251.8 1681.4h0M228.2 1797.9h0M244 1602.1h0M228.4 1527.4h0M235.9 1719.8h0M226.2 1516.6h0M251.1 1663.8h0M214.9 1595.5h0M210.1 1726.8h0M239.2 1548.9h0M214.2 1640h0M221.9 1568.7h0M220.9 1499.4h0M221.8 1529.5h0M196.2 1758.4h0M225.4 1495.1h0M216.5 1554.8h0M224.7 1762.9h0M245.1 1558.1h0M219.2 1719.2h0M243.9 1805h0M229.3 1560.3h0M216.7 1811.8h0M201.1 1807.4h0M239.3 1745.7h0M228.9 1662.2h0M222.8 1785.8h0M218.6 1764.3h0M223.2 1590.8h0M199.4 1752.9h0M224.7 1582h0M220.7 1674.8h0M222.3 1667.8h0M253.1 1809.5h0M244.9 1663.9h0M255.5 1774.3h0M253.7 1799h0M221.2 1721.1h0M198.4 1716.4h0M243.9 1777.7h0M240.3 1594.7h0M256.5 1716.9h0M220.7 1549.6h0M260.6 1809.6h0M251.1 1804.4h0M227.3 1515.8h0M207.9 1607.8h0M252 1661.3h0M207.6 1693.1h0M228.2 1685.8h0M235.7 1504.3h0M224.6 1589h0M242.6 1719.2h0M229.6 1519.6h0M200.8 1685.6h0M232.2 1574.8h0M212.7 1561.9h0M252.8 1737.8h0M220.7 1762.9h0M244 1803.8h0M203.7 1691.7h0M232.7 1593.6h0M252.8 1700h0M217.2 1486.4h0M237.8 1545.9h0M200.6 1681.7h0M249.6 1608.6h0M226.8 1678.6h0M214.7 1689.5h0M235 1581.2h0M227.9 1514.8h0M247.1 1809.1h0M229.1 1728.1h0M217.2 1496.7h0M214.9 1598.9h0M240.9 1511.5h0M208.3 1807.4h0M231 1491.3h0M258 1800.7h0M264.9 1791.7h0M241.5 1734.8h0M247.7 1624.1h0M224.7 1672.7h0M227.7 1770.3h0M211.7 1790.9h0M222.2 1490.2h0M255.6 1745.8h0M224.6 1523.3h0M260.9 1744.8h0M245.5 1770.8h0M240.7 1753.1h0M205.5 1764.6h0M252.1 1752.3h0M206.3 1733.1h0M207.6 1700.8h0M253 1782.3h0M246.3 1794.6h0M213.2 1631h0M256.8 1762.3h0M238.8 1796h0M243 1621.2h0M220.1 1497.8h0M196.8 1752.5h0M242.7 1609.4h0M245.5 1766.3h0M226.2 1701.3h0M229.2 1624.3h0M229.4 1711.5h0M208.1 1756h0M242.3 1531.2h0M223.8 1800.9h0M257.3 1729.2h0M236.9 1649.8h0M232 1691.7h0M240.1 1625.9h0M219.3 1553.5h0M229.4 1799.8h0M259 1800.9h0M220.3 1650.3h0M226.2 1513.5h0M209.8 1659.9h0M222.6 1707.9h0M236.4 1647.2h0M227.5 1679.5h0M241.7 1800.8h0M239.5 1651.7h0M230.6 1550.4h0M254.4 1697.6h0M239.2 1630h0M251.1 1666.9h0M229.1 1559.8h0M252 1783.2h0M215.7 1685.4h0M238.8 1540h0M234.7 1747.1h0M255.9 1757.8h0M243.1 1707.1h0M249.6 1650.8h0M221.1 1776.6h0M202.9 1719.4h0M235.1 1652.4h0M219.5 1540.7h0M239 1767.8h0M223.8 1734.6h0M243.2 1698.7h0M199.6 1786.6h0M203.9 1784.9h0M209.1 1687.5h0M230 1684.5h0M242.1 1653h0M248.9 1721.3h0M206.8 1639.6h0M256.3 1708.3h0M226.3 1580.6h0M215.8 1802.9h0M218.7 1693h0M213.8 1630.4h0M245.4 1791.4h0M240.2 1495.7h0M216 1606.8h0M221.7 1604.5h0M226.2 1585.6h0M241.4 1674.3h0M249.2 1634h0M225.1 1524.6h0M244.1 1620.8h0M223.8 1684.9h0M256.1 1724.4h0M255 1703.5h0M233.2 1508.1h0M253 1759.4h0M241.9 1734h0M248.8 1654.6h0M210.8 1761.6h0M228.5 1739.6h0M222.8 1584.9h0M241.9 1665.6h0M209.9 1700.8h0M225.1 1563.7h0M219.6 1806.6h0M234.5 1655.3h0M255.9 1677.7h0M211.5 1588h0M252.8 1727.4h0M230.1 1539.4h0M232.4 1692.3h0M219.7 1793.8h0M238.3 1586.7h0M240.3 1697.7h0M195.6 1772.7h0M222.3 1665.7h0M225.8 1681.1h0M229.6 1774.4h0M246.4 1584.6h0M229.2 1694.8h0M215.7 1625.6h0M252.4 1781.2h0M223.8 1664.4h0M234.2 1793.5h0M216.7 1604.7h0M205.3 1631.3h0M234.2 1605.3h0M229.3 1589.6h0M237.8 1499.8h0M237 1710.7h0M217 1603.7h0M246.5 1662.3h0M224 1787.8h0M235.7 1802.3h0M229.7 1739.8h0M220.7 1700.8h0M260.4 1754.9h0M217 1732.7h0M257.2 1786.9h0M209.5 1746.1h0M198.6 1724.9h0M246.9 1659h0M221.6 1661h0M194.3 1775.6h0M242.2 1792.2h0M203.7 1735.2h0M241.5 1526.5h0M233.8 1619.6h0M231.9 1755.5h0M247.5 1631.5h0M207.6 1806h0M226.5 1702.4h0M239.8 1557.4h0M241.7 1683.2h0M217.2 1617.1h0M245.1 1699.8h0M211.3 1581.4h0M214.2 1498.9h0M245.4 1624.6h0M231.9 1603h0M210.7 1602.3h0M258.3 1707.7h0M217.6 1598h0M242.5 1568.3h0M239.4 1660.4h0M258 1699.2h0M226.7 1721.3h0M239.3 1730.4h0M245.4 1768.6h0M244.9 1713.1h0M228.2 1644.2h0M226 1731.8h0M253.3 1758.5h0M235.7 1600.7h0M208.1 1673.3h0M249.5 1810.7h0M239.1 1538.7h0M202.3 1690h0M225.2 1640.3h0M219.7 1675.8h0M207.8 1756.9h0M217.2 1769.7h0M254.7 1782.6h0M255.2 1708h0M233.9 1602.7h0M215.6 1628.6h0M223.5 1540.2h0M237.7 1590.7h0M221.1 1529.6h0M259.5 1726.4h0M232.7 1568.9h0M229 1737.4h0M256.5 1722h0M230.9 1727.7h0M262.1 1785.7h0M229.8 1589.8h0M242.8 1762.7h0M206.4 1657.7h0M202 1722.4h0M210.3 1590.9h0M222.9 1608.5h0M240.6 1508.7h0M224.7 1667.1h0M212.5 1604.6h0M230.2 1752h0M202.1 1711.5h0M248 1706.3h0M218.7 1544.1h0M250.4 1686.8h0M202.4 1651.2h0M217.9 1514h0M241.2 1582.8h0M239.6 1603.5h0M216.8 1789h0M227.8 1692.8h0M251.2 1693.8h0M256.4 1804.8h0M209.4 1708.9h0M238.8 1628.3h0M241.3 1529.9h0M235.2 1610.6h0M239 1720.3h0M237 1540.4h0M215.1 1536h0M219.8 1676.2h0M234.2 1805.5h0M216.8 1496.7h0M208.9 1688.3h0M216.9 1698.9h0M208 1672h0M237.7 1690.5h0M213.3 1543.5h0M196 1765.8h0M255.4 1673.6h0M241.6 1664.3h0M196.6 1758.5h0M257.9 1762.4h0M254.4 1751.5h0M219.7 1490.7h0M242.2 1669h0M209.2 1669.5h0M226.2 1747h0M252.3 1808.6h0M232.1 1539.6h0M250.8 1809.3h0M233.4 1766.9h0M200.7 1699.6h0M224.7 1573.5h0M227.4 1539.5h0M208.1 1709.6h0M210.1 1639.9h0M256 1701.5h0M203.1 1797.4h0M215.3 1656.5h0M211.8 1700.3h0M249.4 1809.9h0M204 1720.6h0M212 1628.6h0M209.3 1741.2h0M228.8 1539.9h0M222.4 1509h0M220.8 1811.4h0M213.1 1593.6h0M206.8 1601.2h0M213.5 1743.1h0M246.2 1665.8h0M214.8 1735h0M206.9 1758.6h0M211.4 1807.4h0M198.4 1716.8h0M245 1799.1h0M252.7 1706.4h0M239.2 1588.4h0M203 1663.4h0M247 1689.2h0M238 1738.7h0M249.6 1804.7h0M249.1 1603.6h0M230.2 1507.1h0M213.9 1809.9h0M223.7 1492.4h0M243.5 1600h0M213.4 1812.2h0M225.9 1713.6h0M242.2 1649.4h0M201.1 1736h0M244.8 1798.9h0M205 1733.4h0M234.4 1553h0M231 1575.1h0M252.6 1796.3h0M232.9 1502.6h0M243.4 1776h0M247.1 1647.8h0M241.9 1604.4h0M238.7 1733h0M239 1808.7h0M221.5 1700.2h0M232.6 1610.3h0M201.9 1754.6h0M244.3 1554.8h0M196.1 1749.3h0M230.5 1668.5h0M204.1 1760.6h0M231.3 1802.1h0M217.5 1535.5h0M213.6 1570.3h0M208.1 1629.2h0M255.1 1807.1h0M227 1500.4h0M203.1 1672.2h0M226.8 1581.8h0M208.2 1622.8h0M231.7 1506h0M211.5 1800.6h0M215.2 1685.4h0M215.8 1748.4h0M239 1501h0M219.3 1646h0M228 1652.3h0M225.1 1770.8h0M213.9 1525h0M257.1 1751.3h0M224.7 1713.6h0M258.2 1748.9h0M233.4 1788h0M219.8 1764.7h0M229.4 1703.2h0M226.8 1705.2h0M247.6 1712.4h0M256.6 1802.3h0M218.1 1550.4h0M197.1 1757.1h0M255.7 1811.7h0M195.6 1767.2h0M222 1768.9h0M254.6 1701.8h0M208.5 1710.8h0M212 1660.4h0M221.4 1534.2h0M236.6 1574.8h0M217.2 1792.1h0M206.7 1621.4h0M212.7 1666.1h0M232.9 1748.9h0M253.4 1700.2h0M250.9 1802.7h0M220.8 1494.3h0M219.2 1528.4h0M228.8 1751.2h0M232.5 1665.5h0M244.2 1552.3h0M230.6 1550.4h0M221.7 1701.2h0M231.1 1493.8h0M247.4 1593.7h0M231.2 1669h0M223.4 1610.2h0M223 1621.4h0M229.8 1656.1h0M245.6 1679.1h0M206.7 1736.2h0M214.3 1751.4h0M240.4 1775.3h0M230 1663.1h0M226.7 1746.8h0M231.6 1691.4h0M246.5 1784.7h0M240.4 1801.4h0M232.2 1641h0M228.3 1664.4h0M247.9 1717.5h0M197.1 1717.4h0M228 1525.6h0M252.5 1732.8h0M216.6 1603.5h0M221.1 1526.6h0M244.1 1557h0M217.1 1812.1h0M198.4 1806.4h0M214.2 1801.9h0M241.1 1640.9h0M245.1 1616.6h0M235.6 1594.2h0M249.6 1631.2h0M252.9 1712.3h0M216.5 1738h0M244 1795.2h0M229.7 1804.7h0M238.9 1526h0M228 1495h0M210.9 1563.4h0M215.3 1704.3h0M240.3 1549.4h0M209.6 1644.5h0M201 1648.9h0M218.3 1579.5h0M235.1 1717.9h0M252.6 1678.6h0M230.8 1669.3h0M240.6 1658.7h0M245.9 1622.2h0M226.9 1789h0M243.2 1778.9h0M211.5 1669.3h0M246 1578.1h0M219.5 1494.6h0M215.9 1752.3h0M242.1 1729.7h0M244.9 1681.3h0M220.9 1770.3h0M257.4 1807h0M254.3 1761.1h0M256.3 1754.5h0M205.9 1779.1h0M218.6 1749h0M222 1743.6h0M224.1 1811h0M231.7 1564.5h0M243.6 1721h0M229.4 1683.4h0M228.4 1620.3h0M209.3 1803.5h0M260.6 1766.4h0M200 1794.2h0M217.8 1646.7h0M210.9 1679.7h0M203.9 1725.5h0M246.5 1791.3h0M229.2 1488.8h0M215.3 1746.1h0M227.7 1694.5h0M220.8 1680.4h0M259.2 1735.1h0M203.1 1788.5h0M242.6 1650.4h0M195.2 1783h0M233.1 1611.8h0M224.7 1605.2h0M264.9 1807.8h0M253 1802.1h0M232.6 1691.7h0M230.6 1711.8h0M215.1 1615.4h0M234.6 1793.2h0M245.6 1748.9h0M218.2 1616.9h0M238.1 1512.4h0M225.9 1493.2h0M251.5 1693.5h0M261.6 1753.5h0M214.2 1600h0M223.8 1810.3h0M201.6 1812.3h0M215 1682.8h0M219 1720.2h0M222.2 1488.1h0M224.8 1523.2h0M211.9 1570.3h0M200.5 1751.1h0M235.9 1785.6h0M250.3 1732.2h0M213.8 1569.5h0M229.4 1743.5h0M209.2 1701.4h0M235.1 1724.9h0M220.2 1694.9h0M229.6 1675h0M246.8 1734.3h0M212.7 1590h0M228.4 1496.1h0M239.3 1700.7h0M206.6 1721h0M200.1 1663.7h0M230.8 1689.5h0M220.1 1808.6h0M259.8 1781.4h0M226.6 1762.9h0M246.6 1659.1h0M231.8 1596.9h0M246 1766.2h0M224.8 1743.2h0M235.2 1713.9h0M257.2 1772.8h0M212.2 1575.2h0M251.6 1733.1h0M242.4 1628.3h0M206.5 1593.1h0M227.3 1584.7h0M199.3 1676.2h0M244.5 1775.5h0M245.9 1778.1h0M228.2 1558.2h0M215.2 1807.9h0M219.6 1693h0M207.6 1611.3h0M251.2 1762.8h0M211.4 1564.4h0M237.8 1604.1h0M200.3 1801.5h0M247.8 1741h0M237.8 1674.9h0M243 1675.6h0M232.2 1545.7h0M223.6 1775.4h0M204.4 1657.4h0M258.1 1777h0M240.5 1804.7h0M222.7 1797.4h0M233.1 1670h0M232.5 1778.9h0M250.4 1632h0M203.5 1697h0M226.3 1694.7h0M218.1 1555.1h0M214.4 1559.4h0M239.8 1620.4h0M204 1609h0M231.8 1647.4h0M238.6 1515.4h0M249.4 1692.1h0M238.5 1581.2h0M261.7 1764.1h0M228.2 1554.7h0M225.8 1669.5h0M224.3 1740.5h0M226.7 1569.2h0M255.2 1792.8h0M218.6 1776.1h0M212.2 1761.7h0M233 1756.5h0M215.1 1736.2h0M237.6 1681.4h0M246.7 1745.7h0M233.1 1526.6h0M205.2 1629.8h0M244.1 1591.8h0M235.4 1507.3h0M256.5 1709.3h0M249 1623.8h0M206.9 1682.4h0M219.2 1666.8h0M211.7 1798.9h0M252.9 1704.6h0M221.2 1785.9h0M231.6 1640.8h0M237.4 1711.5h0M213.3 1754.8h0M221.4 1525.5h0M230.9 1710.8h0M213.4 1534.6h0M259.9 1811.3h0M215 1566.5h0M206.8 1666.1h0M195.2 1759.4h0M240.1 1755.1h0M231.5 1650.2h0M214 1760.5h0M204.7 1760.1h0M208.1 1808.5h0M222.8 1489.6h0M210.1 1799.4h0M210.5 1615.6h0M221.8 1505h0M229 1803.8h0M238.3 1798.3h0M267.9 1798h0M205.6 1649.5h0M239.8 1615.6h0M216.8 1725.2h0M224.9 1596.8h0M240.3 1640.4h0M215.6 1532.9h0M250.5 1655.3h0M237 1553.4h0M217.4 1578.5h0M255.9 1716.1h0M227.6 1536.9h0M210.4 1595.2h0M220 1689.1h0M226.6 1576.9h0M239.7 1511.7h0M206.6 1772.3h0M228.7 1740.8h0M211.2 1629.9h0M217.3 1788.5h0M221 1589.7h0M218.2 1665.1h0M206.3 1721.4h0M244.1 1783.3h0M249.1 1789.4h0M255.7 1740h0M261.3 1805.5h0M225.9 1617.2h0M241.9 1717.7h0M238.3 1734h0M207.4 1745.2h0M253.7 1665.5h0M234.1 1697.6h0M260.2 1742.8h0M229 1701.2h0M240.5 1535.6h0M211.4 1803.9h0M217.5 1690.3h0M206.3 1717.9h0M227 1552.7h0M216.3 1541.7h0M224.7 1555.3h0M213.4 1596.5h0M216.9 1617.8h0M203.9 1803.7h0M240.9 1549.9h0M223.7 1737.4h0M234 1622.5h0M223.7 1643.9h0M213.2 1761h0M247 1623.8h0M206.8 1626.3h0M214.6 1705.3h0M247.5 1588.2h0M224.7 1679.5h0M209.5 1665.3h0M241.6 1804.9h0M217.1 1732.6h0M199.6 1776.3h0M204.9 1704.1h0M207.8 1765.4h0M218.2 1658.6h0M246.9 1678.8h0M197.1 1788.6h0M242.7 1748.8h0M209.9 1723.4h0M212.6 1789.9h0M212.8 1660.1h0M198.9 1690.4h0M251.8 1687.6h0M217.2 1495.1h0M205.4 1784.4h0M233.1 1640h0M211.8 1643.7h0M227.7 1506.3h0M233.2 1581.6h0M224.8 1702.8h0M260.6 1784.8h0M224.1 1745.5h0M220.5 1612.8h0M204.9 1722.9h0M230.7 1686.7h0M256.8 1735h0M211.1 1670h0M217.6 1591.3h0M212.9 1575.5h0M244.5 1667.6h0M240.8 1783.1h0M205.1 1788.3h0M238.8 1492.9h0M194.6 1773h0M232.9 1603.5h0M226 1793h0M236.2 1719h0M217.4 1577.8h0M221.1 1678.1h0M228.5 1640.9h0M222.8 1787.6h0M236.3 1554.2h0M255.7 1708.5h0M232.4 1606.4h0M256.3 1789.5h0M238 1756.5h0M208.3 1743h0M241.7 1607.6h0M231.3 1716.1h0M208.1 1726.5h0M232.2 1797.4h0M212.6 1669.6h0M208.3 1751.4h0M239.3 1627.2h0M224.3 1566.8h0M202.6 1766.4h0M233.2 1531.8h0M215 1699.5h0M244.6 1764h0M216.5 1756.4h0M233.2 1668.2h0M242.6 1789.3h0M226.3 1645.4h0M211.2 1644.6h0M245.7 1730.6h0M214.7 1549.1h0M220.2 1542.6h0M233.4 1797.2h0M211 1589.2h0M237.8 1690.5h0M235.6 1660h0M254 1717.4h0M258.2 1771.7h0M224.2 1598.1h0M202.5 1785.4h0M225.9 1731.1h0M207.6 1762.6h0M216.1 1677.5h0M214.7 1811.7h0M205.4 1607.7h0M241 1528.4h0M235 1731.1h0M225.9 1548.9h0M228.2 1709.1h0M238.6 1564.2h0M228.6 1795h0M203 1760h0M210.4 1556.9h0M215.5 1758.2h0M263.4 1801.4h0M228.3 1681.2h0M238.5 1747.6h0M206.9 1696.3h0M223.5 1676.1h0M222.9 1604.1h0M228.7 1654.1h0M228.6 1793.7h0M227 1511.2h0M222.8 1542.6h0M228.3 1628.4h0M218.3 1681.3h0M245.9 1733.6h0M246.2 1767.3h0M206 1625.2h0M239.1 1582.2h0M245.8 1742.2h0M219.4 1626.6h0M256.8 1772.4h0M210.9 1612.3h0M207.1 1626.5h0M211.2 1740.7h0M233.4 1648.1h0M210.5 1736.3h0M249.2 1671.2h0M228.3 1751.3h0M203.7 1743.1h0M234.6 1610.7h0M199.5 1740.7h0M235.4 1618.3h0M242.3 1731.7h0M239.3 1502.3h0M228.1 1791h0M209.3 1625.9h0M245.8 1742.2h0M214.3 1642.6h0M252.4 1649.5h0M214.5 1605.1h0M228.1 1576.8h0M243 1623.1h0M214 1603.9h0M214.7 1753.3h0M242.7 1762.8h0M247.6 1614.4h0M203.7 1766.5h0M252.4 1667.2h0M208.7 1593h0M207.4 1645.5h0M248.1 1714.7h0M226 1786.2h0M214.4 1619h0M232.1 1534.8h0M212.5 1573.1h0M213.9 1599.1h0M256.4 1714.7h0M226.6 1619.9h0M247.4 1655.4h0M218.6 1524.9h0M248.6 1653.2h0M224.5 1554.5h0M258.3 1758.3h0M234.4 1788.8h0M254.3 1770.3h0M195.2 1772.3h0M215.9 1688.1h0M232.1 1784.9h0M251.5 1660.8h0M236 1576.8h0M237.3 1625h0M202.1 1771.3h0M242.3 1642.9h0M209.4 1597.4h0M218.9 1575.4h0M235.5 1555.1h0M247.1 1697.8h0M200.1 1733.3h0M224.8 1677.3h0M239.7 1633.3h0M227.5 1519.1h0M221.3 1621.8h0M263.8 1801.9h0M225.4 1519.6h0M230.3 1783h0M243.2 1744.1h0M217.3 1812.1h0M237.6 1592.3h0M254.6 1806.1h0M249.5 1685h0M210.5 1747.2h0M208.9 1672.6h0M203.4 1763.7h0M226.3 1767.1h0M227.2 1613.5h0M230.6 1516.2h0M233.3 1735.1h0M226 1703.5h0M237 1627.3h0M196.1 1746.6h0M199.5 1683.8h0M247.8 1615.4h0M241.6 1808.4h0M260 1738.8h0M204.1 1612.2h0M224.7 1722.9h0M209.9 1711.7h0M235.7 1611.8h0M213.2 1671.5h0M231.8 1687.3h0M240.2 1613.7h0M233.2 1736.6h0M214.8 1696.1h0M228.8 1525.4h0M237.7 1537.2h0M243 1808h0M240.9 1544.6h0M220 1509.7h0M235.9 1559h0M228.9 1591.6h0M229.1 1556.3h0M240 1677.1h0M195.9 1749.6h0M242.3 1581h0M216.9 1574.1h0M226.2 1724.7h0M210.9 1732.1h0M239.4 1653.3h0M198.7 1751.6h0M242.7 1607.8h0M234.2 1797.1h0M230.1 1678.1h0M225.3 1582.7h0M227.7 1502.2h0M262.1 1765.1h0M206.7 1773.9h0M222.5 1713.8h0M250.1 1753.9h0M252.5 1772.9h0M201.5 1758h0M244.1 1564.1h0M206.4 1783.6h0M196.5 1740.2h0M203.2 1799.4h0M201.2 1774.8h0M259.9 1811h0M246.4 1791.7h0M235.5 1765.2h0M257.4 1760h0M207.3 1781.9h0M206 1597h0M235.2 1804.3h0M242.2 1790.4h0M224.2 1752.5h0M218.2 1718.9h0M218.7 1561.6h0M222.2 1757.4h0M217 1765.6h0M241.7 1756h0M207.5 1721.8h0M258.2 1765.9h0M200.2 1772.5h0M255.3 1777.4h0M251.8 1798.2h0M212.3 1532.6h0M222.4 1805.2h0M202.8 1646.3h0M242.1 1605.3h0M229.1 1552.8h0M214.1 1557.1h0M214.6 1642.9h0M215.4 1715.9h0M251.7 1647.8h0M246.3 1596.7h0M226 1655.7h0M221.2 1809.5h0M224.3 1583.9h0M181 1520h0M190.1 1546h0M201.8 1542.1h0M204.4 1539.5h0M200.5 1551.2h0M209.6 1499.2h0M212.2 1496.6h0M205.7 1564.2h0M201.8 1566.8h0M208.3 1590.2h0M208.3 1603.1h0M205.7 1608.3h0M194 1640.8h0M175.8 1618.7h0M168 1657.7h0M173.2 1668.1h0M179.7 1673.3h0M186.2 1681.1h0M188.8 1688.9h0M192.7 1724h0M195.3 1727.9h0M183.6 1740.9h0M184.1 1748.7h0M186.2 1756.5h0M188.8 1774.7h0M192.7 1790.3h0M196.6 1803.3h0M209.6 1798.1h0M212.2 1803.3h0M196.6 1701.9h0M194 1714.9h0M199.2 1665.5h0M196.6 1649.9h0M199.2 1634.3h0M204.4 1623.9h0M109.5 1690.2h0M113.4 1701.9h0M114.7 1709.7h0M116 1717.5h0M117.9 1725.3h0M119.9 1733.1h0M121.8 1742.2h0M123.8 1751.3h0M126.4 1759.1h0M129 1766.9h0M132.2 1774.7h0M135.5 1782.5h0M138.7 1789h0M142 1795.5h0M145.9 1802h0M149.8 1808.5h0M153.7 1813.7h0" stroke="#a9a9a9" stroke-width="8.4" stroke-linecap="round" fill="none"/>
<path d="M337.9 1791.4h0M340.6 1805.9h0M332.2 1776.9h0M351.5 1749.1h0M292.1 1766.7h0M348.4 1775.7h0M338.1 1733.7h0M350.9 1778.9h0M332.8 1737.2h0M311.3 1732.2h0M302.2 1794.1h0M314.3 1793.7h0M309.8 1733.5h0M337.9 1771.9h0M317 1793.9h0M350 1762.5h0M333.3 1755.4h0M335.8 1794.7h0M305.1 1801.9h0M333.4 1782.2h0M335 1779.3h0M317.8 1777.7h0M327.7 1731.1h0M317.9 1740.9h0M320.3 1739.8h0M291.1 1803.8h0M289.5 1760.4h0M302.9 1786.8h0M312.4 1729h0M297.9 1783.2h0M325 1787.9h0M317.9 1758.8h0M353.7 1756.2h0M343.6 1775.3h0M294.3 1736.9h0M294.9 1790.7h0M325.6 1763.1h0M313.1 1732.4h0M292.8 1778h0M313.9 1772.9h0M299.3 1743.9h0M343.5 1784h0M303.6 1748.1h0M342.6 1788.4h0M312.2 1770.8h0M346.2 1772.4h0M296.2 1763.3h0M354.2 1770.6h0M297.7 1734.1h0M295.9 1744.7h0M337.2 1780.6h0M313.4 1756.3h0M342.9 1742.7h0M325.3 1748.5h0M339.4 1770.4h0M339.7 1755.6h0M321.3 1748.3h0M319.2 1799.2h0M338.1 1771.9h0M323.1 1729.8h0M295.2 1774.7h0M304.9 1770.5h0M337.6 1779.2h0M296.4 1781.1h0M345.4 1756.8h0M290 1806.3h0M294.2 1766.1h0M333 1764.6h0M303.6 1745.5h0M344.6 1771.5h0M352.2 1745.6h0M305.6 1730h0M341.8 1760h0M333.2 1745.1h0M313 1738.2h0M325.4 1783.1h0M358.2 1751.7h0M292.3 1758.6h0M352.8 1765.6h0M311.2 1785.7h0M342 1745.6h0M305.9 1730.5h0M337.4 1779.4h0M290.8 1756.8h0M337.8 1752.5h0M292.5 1768.1h0M332 1736.5h0M322.6 1804.4h0M309.3 1763.6h0M313.7 1768.8h0M354.6 1764h0M299.6 1769.6h0M302.1 1762h0M334.2 1758h0M314.4 1798.1h0M343.9 1789h0M304.6 1808.4h0M331 1808.4h0M316.5 1794.6h0M295.5 1755.3h0M326.4 1783.6h0M355.3 1767.4h0M309.7 1796.3h0M336.4 1777.1h0M293.3 1809.1h0M347.5 1773.8h0M338.7 1754.6h0M327 1778.2h0M320.1 1746.9h0M314.8 1772h0M353.3 1755.8h0M313.8 1745.3h0M324.1 1732.2h0M287 1805.4h0M305.6 1760.5h0M330.5 1782.7h0M305.4 1728.9h0M296.7 1760.1h0M319.4 1795.5h0M344.2 1766.2h0M323.6 1739.2h0M332.7 1741h0M304 1809.7h0M347.2 1755.9h0M296.3 1777.5h0M328.9 1790.2h0M324.5 1741.6h0M307.8 1737.1h0M354.6 1760.6h0M325.9 1743.7h0M324.7 1746.4h0M324.2 1762.2h0M298.6 1734h0M318.9 1788.9h0M346.5 1771.4h0M313.3 1766.5h0M338.3 1748.7h0M294.3 1768.3h0M342.4 1780.4h0M307.2 1766.1h0M348 1803.4h0M310.8 1733.2h0M331.2 1806h0M307 1773.3h0M293.7 1759.4h0M302.6 1751.9h0M328.4 1749h0M354.9 1762.9h0M346.3 1777.6h0M339.1 1807.9h0M306.6 1763.3h0M306.7 1789.8h0M344.7 1764.9h0M344.2 1728h0M300.2 1792.3h0M305.3 1762.2h0M293.5 1756.6h0M327.3 1786h0M346 1728.9h0M316.1 1799.4h0M297.2 1728.3h0M294.7 1756.5h0M296.6 1733.1h0M318.7 1739.2h0M294.7 1742.2h0M322.6 1797.6h0M348.8 1770.4h0M330.6 1794.5h0M325.3 1745.9h0M347.7 1730h0M358.6 1752.2h0M313.9 1763.5h0M354 1749.5h0M330 1768.6h0M352.5 1748.3h0M337.4 1739.5h0M322.7 1740.4h0M325.5 1770.8h0M327.7 1753.9h0M314.8 1800.5h0M298.9 1798.5h0M295.9 1758.5h0M327.8 1794.4h0M351 1743.2h0M314 1756h0M337.6 1751.6h0M325.7 1791.6h0M290.6 1796.3h0M298.7 1742.3h0M341.1 1749.5h0M332.5 1765.3h0M310.4 1784.8h0M297.5 1771.3h0M340.4 1766.1h0M340.3 1751.6h0M298.7 1779.6h0M323.1 1756.2h0M352.2 1734h0M316.6 1728.6h0M302.2 1810h0M347.6 1768.2h0M345.3 1785.2h0M337.1 1803.4h0M344.1 1803.9h0M344.6 1753.4h0M342.2 1797.1h0M348.5 1782.8h0M351.9 1762h0M351 1758.8h0M306.8 1792.9h0M342.6 1770.1h0M344.5 1754h0M326.4 1737.3h0M302.8 1784.3h0M307.6 1801.8h0M294.8 1736.8h0M292.5 1752.1h0M306.1 1732.3h0M299.2 1735.8h0M315.8 1741h0M329.1 1784.8h0M307.9 1751.3h0M332.5 1749.4h0M306.6 1732.6h0M313.3 1744.7h0M316.9 1753.6h0M341.3 1802.7h0M328.7 1763.8h0M327 1811h0M293.4 1796.5h0M342.4 1810.9h0M324.8 1767.4h0M352.2 1752.4h0M326.7 1802.8h0M336.9 1783.2h0M288.1 1794.7h0M309.5 1766.8h0M345 1765.8h0M288.4 1791.9h0M328.2 1736.3h0M292.6 1809.8h0M341.1 1748.3h0M338.3 1773.3h0M294.5 1759.7h0M331.7 1792.6h0M322.2 1728.3h0M302.9 1770.8h0M338.3 1768.9h0M337 1788.8h0M325.3 1753.5h0M344.9 1789.4h0M316.2 1738h0M311.8 1742.7h0M324.8 1728.6h0M318 1739.8h0M321.3 1773.4h0M302 1736.9h0M289.4 1801.7h0M342.1 1765.4h0M311.7 1729.7h0M347.1 1736.9h0M285.1 1804.6h0M322.2 1780.9h0M293.7 1775.1h0M306.4 1790.5h0M328.4 1773h0M330.5 1782.9h0M309.7 1782.6h0M342.5 1805.6h0M356.1 1749.6h0M288 1781.1h0M328.4 1760.7h0M343.1 1809.2h0M341 1804.8h0M295.9 1787h0M307.3 1779h0M294.2 1792h0M297.7 1786.6h0M348.1 1766h0M321.7 1809.9h0M307.4 1810h0M335.1 1767.4h0M289.1 1795.9h0M358.9 1755.4h0M349.5 1759.9h0M319.1 1786.5h0M315.5 1775.4h0M296 1756.7h0M301.5 1761.6h0M331.5 1797.5h0M305.9 1778.2h0M311.4 1743.3h0M300.4 1738.7h0M326.8 1809.1h0M339.8 1809.8h0M321.6 1755.5h0M339.1 1772.9h0M350 1759.5h0M319.5 1770.3h0M308.6 1743.2h0M309.6 1758.9h0M332.1 1755.6h0M302 1798.5h0M317 1742.5h0M298.8 1791.8h0M316 1786.9h0M342.7 1738.5h0M343.9 1787.6h0M333.8 1737.1h0M318.8 1738.6h0M308.5 1742.5h0M325.9 1773.1h0M351.3 1755.3h0M317.8 1779.1h0M340 1744.4h0M318.6 1735.7h0M300 1732.2h0M313.8 1786.1h0M327.6 1774.4h0M322 1808.5h0M314.8 1732.6h0M300.1 1773.3h0M352.9 1771.7h0M311.3 1762.3h0M344.3 1794.7h0M330.9 1769.2h0M309.2 1790.2h0M336 1773.6h0M335.9 1746.6h0M334.5 1809.4h0M342.3 1732.3h0M349.4 1742.1h0M314.6 1742.3h0M302.8 1757h0M291.3 1765.9h0M343.2 1767.8h0M304.8 1730.2h0M349.7 1740.7h0M284.7 1810.8h0M297.4 1756.1h0M347.6 1803.9h0M299.5 1731.7h0M291.3 1808.7h0M331.1 1757.3h0M321.8 1761.1h0M322.1 1798.1h0M304.4 1803.8h0M346.2 1762.6h0M351.5 1773h0M298.9 1743.3h0M317 1736.6h0M292 1798.3h0M303 1734.7h0M341.2 1741.4h0M308.2 1793.6h0M316 1749.5h0M301.1 1786.5h0M347.6 1773.4h0M291.7 1797.8h0M314 1759.3h0M293.3 1764.2h0M304.7 1734.3h0M299.3 1762.5h0M306.2 1776.2h0M300.1 1786.6h0M294.1 1799.6h0M309.2 1769.3h0M316.8 1801.7h0M343.6 1730.6h0M347.6 1803.6h0M336.2 1809.2h0M323 1748.5h0M356.4 1746.3h0M337.4 1800.2h0M339.6 1786h0M344.1 1797.9h0M351.5 1757.6h0M319.7 1794.2h0M298.9 1741h0M306.8 1810.7h0M323.4 1803.7h0M285 1803.3h0M341.8 1753.9h0M291.7 1744.6h0M346.9 1728.3h0M301.8 1762.8h0M303.5 1764.5h0M355 1765.7h0M293.3 1763h0M324.9 1787.3h0M295.5 1807.6h0M350.5 1762.1h0M308.2 1774.9h0M329.5 1766h0M341.1 1793.1h0M338.3 1747.8h0M304.6 1799.9h0M309.6 1759.8h0M347.5 1808.9h0M342.1 1762.8h0M340.1 1808.6h0M307.5 1805.7h0M318.9 1736.5h0M348 1758.8h0M308.8 1739.2h0M300 1732.9h0M311.5 1729.4h0M321.9 1774.2h0M338.9 1799.6h0M306.2 1747.7h0M357.6 1759.3h0M304.5 1790.6h0M349.1 1788.8h0M341.6 1804.5h0M311.2 1735.3h0M305.2 1747.5h0M324.2 1767.7h0M290.3 1809.5h0M352.8 1741.1h0M349.7 1795.7h0M303.8 1731.6h0M307.6 1794.7h0M322.9 1802.4h0M322.2 1792.6h0M319 1755.9h0M285.9 1800.9h0M329.1 1770.3h0M320.7 1774.7h0M315.3 1762.6h0M291.1 1752.3h0M322.3 1737h0M351.4 1775.2h0M357.1 1752.6h0M302.7 1803.3h0M292 1802.7h0M295.9 1773.2h0M292.4 1809.1h0M339.3 1799.8h0M346.3 1759.3h0M301.6 1734.1h0M299.5 1806.9h0M331.1 1758.3h0M347.2 1762.6h0M351.7 1770.5h0M326.9 1758h0M338.3 1734.1h0M292.8 1810.4h0M295.6 1792.5h0M329.6 1759.8h0M353.8 1761.8h0M347.6 1802.4h0M320.7 1751.5h0M344.1 1798.2h0M313.9 1794.2h0M325.1 1790.4h0M311.4 1731.9h0M301.1 1766.5h0M329.9 1807.4h0M335.8 1784.2h0M315.4 1748.1h0M289.6 1808h0M299.1 1738.7h0M320.1 1762.2h0M295 1733.1h0M323.2 1778.8h0M322.3 1756.2h0M323.4 1746.4h0M292.4 1778.8h0M310.4 1756.5h0M336.5 1731.3h0M339.3 1809.6h0M329.8 1744.1h0M312.9 1808.8h0M344.8 1758.5h0M287.2 1791.4h0M307.2 1786.7h0M320.6 1802.5h0M324.4 1752.9h0M297.8 1798.8h0M295.1 1778.1h0M344.8 1785.4h0M314.7 1804.4h0M292.9 1739.3h0M290.9 1770.4h0M346.3 1807.5h0M355.2 1753.8h0M351.3 1767.5h0M326.1 1809.3h0M317.2 1735.6h0M328 1791.4h0M305.3 1796.9h0M336.7 1733.4h0M350.6 1730.5h0M339.2 1757.8h0M343.8 1744.4h0M319.9 1786.1h0M340.3 1786h0M332.7 1761.9h0M291.1 1776.9h0M299.4 1770.8h0M322.2 1741.6h0M301.4 1782.2h0M330 1759.1h0M325.7 1797.8h0M330.1 1746.6h0M289.3 1795.8h0M325.6 1738.6h0M331.2 1770.7h0M349 1769.7h0M329.8 1766.1h0M327.6 1803.2h0M304.8 1775.2h0M321.6 1737.7h0M348.7 1753.1h0M307.1 1729.5h0M336.2 1771.5h0M342.3 1760.8h0M344 1750.8h0M318.6 1759h0M293.5 1737.6h0M329.1 1742.5h0M297.1 1765.3h0M341.9 1749.6h0M312.2 1760h0M316.9 1732.6h0M322.8 1803.2h0M344.5 1768.3h0M306.2 1743h0M305.3 1757.4h0M315 1744.4h0M309.6 1780.3h0M309.2 1744.2h0M329.6 1753h0M317.5 1750.6h0M348.2 1777.8h0M303.6 1748.5h0M289.5 1774h0M301.1 1753.5h0M313.4 1790.4h0M336.5 1743.8h0M324.8 1793.7h0M345.3 1803.2h0M351.6 1752h0M336.1 1735.5h0M312.6 1776.7h0M306.5 1796.6h0M294 1748.6h0M317.3 1791h0M334.8 1797h0M347.5 1742.3h0M314.6 1774.7h0M342.1 1760h0M343.8 1764.2h0M326 1750.8h0M313.5 1732.7h0M305 1762.3h0M339.1 1775.9h0M352.5 1750.1h0M348.5 1735.1h0M291.5 1768.2h0M338.6 1810.5h0M309 1737.2h0M346 1792.8h0M310 1801.7h0M298.9 1779.6h0M356.6 1763.5h0M325.1 1745.3h0M347.1 1768.2h0M315.9 1763.7h0M308.4 1734.9h0M332.3 1807.4h0M339 1729.7h0M300.8 1760.8h0M318.1 1773.1h0M358.2 1752.5h0M294.8 1754.2h0M350.9 1752.2h0M295.1 1729.5h0M306.9 1743.1h0M301.2 1737.6h0M341 1808.6h0M285.5 1800.8h0M314.2 1735.5h0M316.3 1763.8h0M333.5 1735h0M315.2 1778h0M309.5 1787.7h0M304.2 1793.5h0M338.7 1734.1h0M307.8 1790.2h0M312.9 1762.9h0M325 1731.5h0M335.9 1804.2h0M344.1 1762.1h0M319.4 1728.4h0M292.3 1754h0M290.2 1771h0M299.4 1745.7h0M299.2 1809.5h0M340.7 1760.7h0M303 1654h0M306.7 1660.7h0M296.9 1719.9h0M306.6 1706.5h0M314.5 1695h0M308 1702.7h0M312.4 1694.2h0M303 1709.9h0M316.5 1671.2h0M315.3 1709.2h0M326.3 1722.9h0M315.7 1685.2h0M306.9 1636h0M311.5 1664h0M303.4 1718.5h0M308.5 1654.1h0M299.1 1715.9h0M306.1 1662.8h0M306.4 1726.5h0M306.6 1606.6h0M323.5 1725.9h0M301.9 1665.2h0M306.3 1691.4h0M305.3 1701.7h0M304.1 1632.5h0M317 1726.7h0M309.4 1716h0M306.2 1702.3h0M303.7 1666.7h0M309 1668.6h0M315.1 1709.2h0M309.4 1653.5h0M326.1 1722.2h0M305.6 1613.5h0M307.8 1710h0M296.5 1720.4h0M310.1 1674.7h0M320.7 1699h0M305 1720.9h0M311.5 1652.1h0M305.9 1650.9h0M305.9 1710.2h0M311.2 1670.5h0M314.7 1694.7h0M311.5 1703.3h0M312 1712h0M305.7 1651.5h0M322.1 1713.7h0M319.4 1690.2h0M320.7 1701.7h0M296.7 1708.3h0M316.7 1722.3h0M308.9 1641.8h0M299.4 1719h0M310.5 1685.1h0M314.6 1666.8h0M297.3 1712.6h0M312.6 1705.6h0M319.2 1695.9h0M316.3 1678.2h0M300.8 1671h0M299.1 1706.7h0M304.1 1703.3h0M299.7 1682.8h0M311.7 1721.4h0M302.7 1654.4h0M310.6 1679.7h0M312.6 1637.7h0M319.4 1723.4h0M307.6 1686.7h0M308.8 1695.9h0M311.2 1700.8h0M325.6 1713h0M318.8 1682.7h0M303.7 1711.2h0M305.6 1637.6h0M307.3 1650.8h0M301.4 1654.4h0M309 1676.3h0M321 1688h0M315.1 1704h0M311.7 1627.5h0M302.9 1709h0M310 1724.1h0M309.8 1677.3h0M304.3 1723.3h0M309.3 1690.1h0M305.8 1615.9h0M323.4 1721.7h0M306.2 1629.9h0M306.6 1680.2h0M300.1 1681.3h0M298.6 1709h0M310.3 1684.1h0M319.2 1686.6h0M308.5 1711.9h0M316.2 1693.2h0M319.3 1685h0M305.8 1663.3h0M297 1712.2h0M314 1687.9h0M325.5 1718.7h0M316.2 1675.1h0M322.1 1725.3h0M304.3 1674.8h0M306.2 1613.2h0M318.4 1684.7h0M297.5 1724.9h0M314.7 1665.3h0M300.9 1682.2h0M322.6 1496.6h0M352.5 1504.4h0M352.5 1523.1h0M348.6 1536.1h0M373.3 1530.9h0M329.1 1544.7h0M334.3 1540.8h0M379.8 1553.2h0M326.5 1561.6h0M333 1564.2h0M334.3 1568.1h0M327.8 1574.6h0M375.9 1584.4h0M313.5 1585.5h0M357.7 1599.3h0M309.6 1600.6h0M390.2 1609.6h0M388.4 1618.7h0M310.9 1610.9h0M316.1 1616.1h0M360.3 1625.2h0M323.9 1622.6h0M368.1 1642.1h0M305.7 1647.3h0M313.5 1649.9h0M321.3 1647.3h0M342.1 1655.1h0M360.3 1651.2h0M349.9 1665.5h0M382.4 1667.6h0M365.5 1673.3h0M313.5 1669.4h0M318.7 1673.3h0M323.9 1669.4h0M379.8 1681.1h0M381.1 1686.3h0M361.6 1690.2h0M347.3 1694.1h0M318.7 1694.1h0M326.5 1691.5h0M377.2 1699.3h0M360.3 1703.2h0M343.4 1705.8h0M321.3 1718.8h0M334.3 1713.6h0M339.5 1717.5h0M348.6 1717.5h0M373.3 1718.8h0M356.4 1721.4h0M339.5 1727.9h0M349.9 1727.9h0M370.7 1733.1h0M329.1 1733.1h0M365.5 1740.9h0M353.8 1738.3h0M369.4 1748.7h0M336.9 1740.9h0M329.1 1747.4h0M347.3 1756.5h0M339.5 1766.9h0M360.3 1764.3h0M331.7 1779.9h0M340.8 1785.1h0M334.3 1795.5h0M452.6 1633h0M451.3 1641.5h0M450 1649.9h0M446.1 1660.3h0M444.1 1667.5h0M442.2 1674.6h0M440.9 1682.9h0M439.6 1691.1h0M438.3 1699.3h0M435.7 1707.1h0M433.9 1715.8h0M432.2 1724.4h0M430.5 1733.1h0M428.5 1740.9h0M426.6 1748.7h0M424 1759.1h0M422 1766.9h0M420.1 1774.7h0M414.9 1787.7h0M409.7 1800.7h0" stroke="#87ceeb" stroke-width="8.4" stroke-linecap="round" fill="none"/>
<line x1="92" y1="1813.7" x2="507" y2="1813.7" stroke="#000" stroke-width="3" stroke-dasharray="3.4 8.4" stroke-dashoffset="0"/>
<path d="M290.1 1634.3L252.4 1664.2M295.3 1766.9L261.5 1759.1M169.3 1776L212.2 1786.4M179.7 1828L212.2 1808.5" fill="none" stroke="#a6a6a6" stroke-width="2.4"/>
<text x="175.8" y="1594" font-size="28">Rfc3</text>
<text x="166.7" y="1638.2" font-size="28">Hmgb1</text>
<text x="290.1" y="1640.8" font-size="28">Rpa1</text>
<text x="131.6" y="1676" font-size="28">Rpa2</text>
<text x="223.8" y="1681.1" font-size="28">Msh6</text>
<text x="162.3" y="1712.3" font-size="28">Exo1</text>
<text x="235" y="1712.3" font-size="28">Pold2</text>
<text x="147.2" y="1746.1" font-size="28">Rpa3</text>
<text x="229.6" y="1742.2" font-size="28">Pcna</text>
<text x="299.2" y="1772.1" font-size="28">Pold3</text>
<text x="99.1" y="1783.8" font-size="28">Pms1</text>
<text x="199.2" y="1777.3" font-size="28">Mlh1</text>
<text x="221.3" y="1804.6" font-size="28">Msh2</text>
<text x="106.9" y="1835.8" font-size="28">Pms2</text>
<rect x="90.9" y="1468.6" width="417.1" height="393.4" fill="none" stroke="#000" stroke-width="3.4"/>
<line x1="84.9" y1="1487.6" x2="90.9" y2="1487.6" stroke="#333" stroke-width="3"/>
<text x="82.9" y="1497.6" font-size="28" text-anchor="end">15</text>
<line x1="84.9" y1="1606.6" x2="90.9" y2="1606.6" stroke="#333" stroke-width="3"/>
<text x="82.9" y="1616.6" font-size="28" text-anchor="end">10</text>
<line x1="84.9" y1="1725.9" x2="90.9" y2="1725.9" stroke="#333" stroke-width="3"/>
<text x="82.9" y="1735.9" font-size="28" text-anchor="end">5</text>
<line x1="84.9" y1="1844.5" x2="90.9" y2="1844.5" stroke="#333" stroke-width="3"/>
<text x="82.9" y="1854.5" font-size="28" text-anchor="end">0</text>
<line x1="133" y1="1862" x2="133" y2="1870" stroke="#333" stroke-width="3"/>
<text x="133" y="1895" font-size="28" text-anchor="middle">-10</text>
<line x1="276" y1="1862" x2="276" y2="1870" stroke="#333" stroke-width="3"/>
<text x="276" y="1895" font-size="28" text-anchor="middle">0</text>
<line x1="420.4" y1="1862" x2="420.4" y2="1870" stroke="#333" stroke-width="3"/>
<text x="420.4" y="1895" font-size="28" text-anchor="middle">10</text>
<text x="44" y="1667" font-size="33" text-anchor="middle" transform="rotate(-90 44 1667)">-log10(FDR)</text>
<text x="299.7" y="1927.3" font-size="32" text-anchor="middle" textLength="108.3" lengthAdjust="spacingAndGlyphs">log2FC</text>
<text x="535" y="1471.5" font-size="58">H</text>
<path d="M574.5 1714.3 L668.5 1714.3 L674.3 1712 L680 1705.3 L683.9 1691.8 L687.7 1672.6 L691.5 1643.9 L694.4 1615.1 L696.3 1590.2 L699.2 1574.8 L702.1 1563.3 L704 1561.4 L706.9 1566.2 L709.8 1568.1 L713.6 1568.1 L715.5 1561.4 L718.4 1555.6 L721.3 1542.2 L724.5 1534.9 L727 1538.4 L729.9 1546 L731.8 1561.4 L733.8 1576.7 L735.7 1592.1 L737.6 1615.1 L739.5 1634.3 L743.3 1657.3 L749.1 1676.5 L756.8 1691.8 L760.6 1707.2 L765.4 1713.9 L770.2 1714.3 L833.5 1714.3 L833.5 1714.7 L574.5 1714.7Z" fill="#4ba4fc"/>
<line x1="574.5" y1="1714.3" x2="833.5" y2="1714.3" stroke="#4ba4fc" stroke-width="1.2"/>
<path d="M699.2 1805.4 L703.1 1799.3 L706.9 1787.7 L710.7 1768.6 L713.6 1749.4 L716.5 1730.2 L719.4 1707.2 L722.2 1684.2 L725.1 1663.1 L727.6 1651.5 L729.9 1648.7 L733.8 1647.7 L737.6 1647.7 L740.5 1647.7 L743.3 1638.1 L747.2 1632.4 L750.1 1634.3 L752 1638.1 L753.9 1645.8 L755.8 1663.1 L757.7 1682.2 L760.6 1711 L763.5 1739.8 L766.4 1764.7 L769.2 1780.1 L773.1 1793.5 L777.9 1802.1 L781.7 1805.4Z" fill="#808080"/>
<rect x="574.5" y="1522.4" width="259" height="283" fill="none" stroke="#000" stroke-width="1.2"/>
<path d="M577.4 1805.4v3.2M580.3 1805.4v3.2M585.1 1805.4v3.2M593.7 1805.4v3.2M597.5 1805.4v3.2M601.4 1805.4v3.2M608.1 1805.4v3.2M611 1805.4v3.2M613.9 1805.4v3.2M616.7 1805.4v3.2M635 1805.4v3.2M643.6 1805.4v3.2M649.3 1805.4v3.2M655.1 1805.4v3.2M659.9 1805.4v3.2M664.7 1805.4v3.2M670.4 1805.4v3.2M678.1 1805.4v3.2M685.8 1805.4v3.2M693.5 1805.4v3.2M699.2 1805.4v3.2M724.2 1805.4v3.2M731.8 1805.4v3.2M741.4 1805.4v3.2M749.1 1805.4v3.2M756.8 1805.4v3.2M766.4 1805.4v3.2M773.1 1805.4v3.2M787.5 1805.4v3.2M802.8 1805.4v3.2M812.4 1805.4v3.2M817.2 1805.4v3.2M822 1805.4v3.2M827.7 1805.4v3.2M831.6 1805.4v3.2M590.8 1805.4v6.5M620.6 1805.4v6.5M706.9 1805.4v6.5" fill="none" stroke="#000" stroke-width="1"/>
<rect x="603" y="1805.4" width="4.5" height="4.5" fill="#000"/>
<line x1="574.5" y1="1806.6" x2="833.5" y2="1806.6" stroke="#000" stroke-width="1"/>
<text x="609.1" y="1841.5" font-size="31" text-anchor="middle">0</text>
<text x="698.3" y="1841.5" font-size="31">10</text>
<text x="733.8" y="1830" font-size="20">4</text>
<text x="565.9" y="1678" font-size="33.5" text-anchor="middle" transform="rotate(-90 565.9 1678)">MSH6-AF647</text>
<line x1="963.3" y1="1578" x2="963.3" y2="1812.5" stroke="#000" stroke-width="2.8"/>
<line x1="961.9" y1="1811.3" x2="1117.7" y2="1811.3" stroke="#000" stroke-width="2.8"/>
<line x1="950.5" y1="1579.2" x2="963.3" y2="1579.2" stroke="#000" stroke-width="2.8"/>
<text x="949.6" y="1588.2" font-size="25.4" text-anchor="end">18000</text>
<line x1="950.5" y1="1637.5" x2="963.3" y2="1637.5" stroke="#000" stroke-width="2.8"/>
<text x="949.6" y="1646.5" font-size="25.4" text-anchor="end">16000</text>
<line x1="950.5" y1="1695.4" x2="963.3" y2="1695.4" stroke="#000" stroke-width="2.8"/>
<text x="949.6" y="1704.4" font-size="25.4" text-anchor="end">14000</text>
<line x1="950.5" y1="1753.7" x2="963.3" y2="1753.7" stroke="#000" stroke-width="2.8"/>
<text x="949.6" y="1762.7" font-size="25.4" text-anchor="end">12000</text>
<line x1="950.5" y1="1811.3" x2="963.3" y2="1811.3" stroke="#000" stroke-width="2.8"/>
<text x="949.6" y="1820.3" font-size="25.4" text-anchor="end">10000</text>
<text x="866" y="1688.8" font-size="32.5" text-anchor="middle" transform="rotate(-90 866 1688.8)">MFI of MSH6</text>
<line x1="1006.4" y1="1586" x2="1006.4" y2="1638.6" stroke="#808080" stroke-width="3.5"/>
<line x1="996" y1="1586" x2="1017.5" y2="1586" stroke="#808080" stroke-width="3.5"/>
<line x1="984.8" y1="1638.6" x2="1028.6" y2="1638.6" stroke="#808080" stroke-width="7.5"/>
<line x1="1072.8" y1="1702.1" x2="1072.8" y2="1763" stroke="#5aa8fb" stroke-width="3.5"/>
<line x1="1061.7" y1="1702.1" x2="1084" y2="1702.1" stroke="#5aa8fb" stroke-width="3.5"/>
<line x1="1061.7" y1="1763" x2="1084" y2="1763" stroke="#5aa8fb" stroke-width="3.5"/>
<line x1="1050.5" y1="1738.1" x2="1095" y2="1738.1" stroke="#5aa8fb" stroke-width="7.5"/>
<path d="M999.7 1639.4h0M1012.7 1639.4h0M1006.4 1586h0M1072.8 1702.1h0M1072.8 1738.1h0M1072.8 1763h0" stroke="#000" stroke-width="7.2" stroke-linecap="round" fill="none"/>
<path d="M1006.4 1571.8V1558.8H1072.8V1571.8" fill="none" stroke="#000" stroke-width="2.6"/>
<text x="1038.7" y="1547.7" font-size="25.3" text-anchor="middle">P = 0.0052</text>
<path d="M1179.3 1715.5 L1261.9 1715.5 L1265.8 1711.6 L1269.7 1707.7 L1273.6 1688.3 L1277.4 1657.3 L1281.3 1614.6 L1285.2 1568 L1289.1 1546.7 L1293 1541.7 L1298.8 1544.8 L1304.6 1556.4 L1308.5 1579.7 L1312.4 1606.8 L1315.5 1634 L1320.1 1672.8 L1324 1703.8 L1327.9 1713.5 L1335.6 1715.5 L1438.5 1715.5 L1438.5 1716.2 L1179.3 1716.2Z" fill="#4ba4fc"/>
<line x1="1179.3" y1="1715.5" x2="1438.5" y2="1715.5" stroke="#4ba4fc" stroke-width="1.2"/>
<path d="M1287.1 1804.7 L1291 1789.2 L1294.9 1750.4 L1298.8 1711.6 L1302.7 1672.8 L1306.5 1641.8 L1311.2 1632.1 L1315.5 1641.8 L1320.1 1657.3 L1324 1668.9 L1327.9 1692.2 L1331.8 1723.2 L1335.6 1758.2 L1339.5 1789.2 L1344.2 1804.7Z" fill="#808080"/>
<rect x="1179.3" y="1526.1" width="259.2" height="278.6" fill="none" stroke="#000" stroke-width="1.2"/>
<path d="M1184.3 1804.7v3M1196 1804.7v3M1201.8 1804.7v3M1205.7 1804.7v3M1209.5 1804.7v3M1213.4 1804.7v3M1217.3 1804.7v3M1221.2 1804.7v3M1225.1 1804.7v3M1228.9 1804.7v3M1234.8 1804.7v3M1238.6 1804.7v3M1242.5 1804.7v3M1246.4 1804.7v3M1250.3 1804.7v3M1254.2 1804.7v3M1260 1804.7v3M1263.9 1804.7v3M1273.6 1804.7v3M1285.2 1804.7v3M1296.8 1804.7v3M1312.4 1804.7v3M1324 1804.7v3M1335.6 1804.7v3M1347.3 1804.7v3M1366.7 1804.7v3M1382.2 1804.7v3M1393.8 1804.7v3M1401.6 1804.7v3M1409.4 1804.7v3M1417.1 1804.7v3M1424.9 1804.7v3M1430.7 1804.7v3M1434.6 1804.7v3M1197.9 1804.7v6M1263.9 1804.7v6M1353.1 1804.7v6" fill="none" stroke="#000" stroke-width="1"/>
<rect x="1227.5" y="1804.7" width="4.5" height="4" fill="#000"/>
<line x1="1179.3" y1="1806" x2="1438.5" y2="1806" stroke="#000" stroke-width="1"/>
<text x="1230" y="1841.5" font-size="31" text-anchor="middle">0</text>
<text x="1339.5" y="1841.5" font-size="31">10</text>
<text x="1375" y="1830" font-size="20">5</text>
<text x="1166" y="1678" font-size="33.9" text-anchor="middle" transform="rotate(-90 1166 1678)">MSH2-AF647</text>
<line x1="1577.4" y1="1576.5" x2="1577.4" y2="1812.5" stroke="#000" stroke-width="2.8"/>
<line x1="1576" y1="1811.3" x2="1732.5" y2="1811.3" stroke="#000" stroke-width="2.8"/>
<line x1="1564" y1="1577.7" x2="1577.4" y2="1577.7" stroke="#000" stroke-width="2.8"/>
<text x="1562.6" y="1586.7" font-size="25.4" text-anchor="end">40000</text>
<line x1="1564" y1="1636.7" x2="1577.4" y2="1636.7" stroke="#000" stroke-width="2.8"/>
<text x="1562.6" y="1645.7" font-size="25.4" text-anchor="end">35000</text>
<line x1="1564" y1="1694.9" x2="1577.4" y2="1694.9" stroke="#000" stroke-width="2.8"/>
<text x="1562.6" y="1703.9" font-size="25.4" text-anchor="end">30000</text>
<line x1="1564" y1="1753.1" x2="1577.4" y2="1753.1" stroke="#000" stroke-width="2.8"/>
<text x="1562.6" y="1762.1" font-size="25.4" text-anchor="end">25000</text>
<line x1="1564" y1="1811.3" x2="1577.4" y2="1811.3" stroke="#000" stroke-width="2.8"/>
<text x="1562.6" y="1820.3" font-size="25.4" text-anchor="end">20000</text>
<text x="1481" y="1688.8" font-size="33.6" text-anchor="middle" transform="rotate(-90 1481 1688.8)">MFI of MSH2</text>
<line x1="1620.8" y1="1584.3" x2="1620.8" y2="1639.4" stroke="#808080" stroke-width="3.5"/>
<line x1="1610" y1="1584.3" x2="1631.7" y2="1584.3" stroke="#808080" stroke-width="3.5"/>
<line x1="1610" y1="1639.4" x2="1631.7" y2="1639.4" stroke="#808080" stroke-width="3.5"/>
<line x1="1598.7" y1="1617.7" x2="1642.9" y2="1617.7" stroke="#808080" stroke-width="7.5"/>
<line x1="1687.2" y1="1739.1" x2="1687.2" y2="1768.6" stroke="#5aa8fb" stroke-width="3.5"/>
<line x1="1676.5" y1="1739.1" x2="1698" y2="1739.1" stroke="#5aa8fb" stroke-width="3.5"/>
<line x1="1676.5" y1="1768.6" x2="1698" y2="1768.6" stroke="#5aa8fb" stroke-width="3.5"/>
<line x1="1665.4" y1="1748.5" x2="1709.3" y2="1748.5" stroke="#5aa8fb" stroke-width="7.5"/>
<path d="M1620.8 1584.3h0M1620.8 1617.7h0M1620.8 1639.4h0M1687.2 1739.1h0M1687.2 1748.5h0M1687.2 1768.6h0" stroke="#000" stroke-width="7.2" stroke-linecap="round" fill="none"/>
<path d="M1620.8 1570V1556.4H1687.4V1570" fill="none" stroke="#000" stroke-width="2.6"/>
<text x="1655.7" y="1546.7" font-size="25.3" text-anchor="middle">P = 0.0008</text>
<rect x="1037.4" y="1883.6" width="22.5" height="21.5" fill="#808080" stroke="#000" stroke-width="2.6"/>
<text x="1071" y="1900.8" font-size="31" textLength="178.6" lengthAdjust="spacingAndGlyphs">sgScramble</text>
<rect x="1276.6" y="1879.3" width="23.7" height="22" fill="#5aa3fa" stroke="#000" stroke-width="2.6"/>
<text x="1309.3" y="1900.8" font-size="31" textLength="193.4" lengthAdjust="spacingAndGlyphs">sgKdm6a C1</text>
<text x="12.8" y="1975" font-size="58">I</text>
<line x1="141.1" y1="1953" x2="141.1" y2="2191.5" stroke="#000" stroke-width="2.8"/>
<line x1="139.7" y1="2190.3" x2="300.2" y2="2190.3" stroke="#000" stroke-width="2.8"/>
<line x1="131" y1="1954.3" x2="141.1" y2="1954.3" stroke="#000" stroke-width="2.8"/>
<text x="127.4" y="1962.3" font-size="22" text-anchor="end">1.5</text>
<line x1="131" y1="2033.6" x2="141.1" y2="2033.6" stroke="#000" stroke-width="2.8"/>
<text x="127.4" y="2041.6" font-size="22" text-anchor="end">1.0</text>
<line x1="131" y1="2111.5" x2="141.1" y2="2111.5" stroke="#000" stroke-width="2.8"/>
<text x="127.4" y="2119.5" font-size="22" text-anchor="end">0.5</text>
<line x1="131" y1="2190.3" x2="141.1" y2="2190.3" stroke="#000" stroke-width="2.8"/>
<text x="127.4" y="2198.3" font-size="22" text-anchor="end">0.0</text>
<line x1="166.9" y1="2033.6" x2="204.8" y2="2033.6" stroke="#999" stroke-width="3"/>
<line x1="253.7" y1="2055.1" x2="253.7" y2="2063.7" stroke="#000" stroke-width="3"/>
<line x1="253.7" y1="2113.6" x2="253.7" y2="2116" stroke="#000" stroke-width="3"/>
<line x1="243.1" y1="2055.1" x2="264.2" y2="2055.1" stroke="#000" stroke-width="3"/>
<line x1="243.1" y1="2116" x2="264.2" y2="2116" stroke="#000" stroke-width="3"/>
<rect x="231.8" y="2063.7" width="43.7" height="49.9" fill="#4fa0f6" stroke="#000" stroke-width="3"/>
<line x1="231.8" y1="2096.7" x2="275.5" y2="2096.7" stroke="#000" stroke-width="3"/>
<path d="M166.9 2033.6h0M179.3 2033.6h0M192.3 2033.6h0M204.8 2033.6h0M253.7 2055.1h0M253.7 2085h0M260.7 2110.5h0M246.4 2116.2h0" stroke="#000" stroke-width="9" stroke-linecap="round" fill="none"/>
<path d="M185.8 2019.3V2005.2H254.2V2019.3" fill="none" stroke="#000" stroke-width="2.6"/>
<text x="153.3" y="1991.5" font-size="28.7" textLength="139.1" lengthAdjust="spacingAndGlyphs">P = 0.0056</text>
<text x="83" y="2070.7" font-size="30" text-anchor="middle" transform="rotate(-90 83 2070.7)"><tspan font-style="italic">MSH6</tspan>(mRNA)</text>
<line x1="143.7" y1="2249" x2="143.7" y2="2487.5" stroke="#000" stroke-width="2.8"/>
<line x1="142.3" y1="2486" x2="304.1" y2="2486" stroke="#000" stroke-width="2.8"/>
<line x1="133.5" y1="2250" x2="143.7" y2="2250" stroke="#000" stroke-width="2.8"/>
<text x="130" y="2258" font-size="22" text-anchor="end">1.1</text>
<line x1="133.5" y1="2289.6" x2="143.7" y2="2289.6" stroke="#000" stroke-width="2.8"/>
<text x="130" y="2297.6" font-size="22" text-anchor="end">1.0</text>
<line x1="133.5" y1="2329.3" x2="143.7" y2="2329.3" stroke="#000" stroke-width="2.8"/>
<text x="130" y="2337.3" font-size="22" text-anchor="end">0.9</text>
<line x1="133.5" y1="2368.3" x2="143.7" y2="2368.3" stroke="#000" stroke-width="2.8"/>
<text x="130" y="2376.3" font-size="22" text-anchor="end">0.8</text>
<line x1="133.5" y1="2408.1" x2="143.7" y2="2408.1" stroke="#000" stroke-width="2.8"/>
<text x="130" y="2416.1" font-size="22" text-anchor="end">0.7</text>
<line x1="133.5" y1="2447.6" x2="143.7" y2="2447.6" stroke="#000" stroke-width="2.8"/>
<text x="130" y="2455.6" font-size="22" text-anchor="end">0.6</text>
<line x1="133.5" y1="2486" x2="143.7" y2="2486" stroke="#000" stroke-width="2.8"/>
<text x="130" y="2494" font-size="22" text-anchor="end">0.5</text>
<line x1="170.2" y1="2289.6" x2="208.7" y2="2289.6" stroke="#999" stroke-width="3"/>
<line x1="257.7" y1="2376.1" x2="257.7" y2="2382.6" stroke="#000" stroke-width="3"/>
<line x1="257.7" y1="2441.1" x2="257.7" y2="2445" stroke="#000" stroke-width="3"/>
<line x1="246.9" y1="2376.1" x2="268.5" y2="2376.1" stroke="#000" stroke-width="3"/>
<line x1="246.9" y1="2445" x2="268.5" y2="2445" stroke="#000" stroke-width="3"/>
<rect x="236" y="2382.6" width="43.4" height="58.5" fill="#4fa0f6" stroke="#000" stroke-width="3"/>
<line x1="236" y1="2417" x2="279.4" y2="2417" stroke="#000" stroke-width="3"/>
<path d="M170.2 2289.6h0M183.2 2289.6h0M196.2 2289.6h0M208.7 2289.6h0M257.3 2376.1h0M257.3 2398.7h0M257.3 2435.1h0M257.3 2443.7h0" stroke="#000" stroke-width="9" stroke-linecap="round" fill="none"/>
<path d="M189.2 2276.1V2261.8H258.1V2276.1" fill="none" stroke="#000" stroke-width="2.6"/>
<text x="156" y="2246.2" font-size="28.9" textLength="140.3" lengthAdjust="spacingAndGlyphs">P = 0.0002</text>
<text x="83" y="2362.5" font-size="30" text-anchor="middle" transform="rotate(-90 83 2362.5)"><tspan font-style="italic">MSH2</tspan> (mRNA)</text>
<rect x="345.4" y="2142.9" width="16.2" height="22" fill="#808080" stroke="#1f2f4f" stroke-width="3"/>
<text x="342.6" y="2180" font-size="27.8" transform="rotate(90 342.6 2180)">RT4</text>
<rect x="346.5" y="2279.6" width="16.4" height="21.5" fill="#4fa0f6" stroke="#1f2f4f" stroke-width="3"/>
<text x="343" y="2315" font-size="26.6" transform="rotate(90 343 2315)">K2</text>
<text x="409" y="1984" font-size="58">J</text>
<path d="M542.2 2414.4L542.2 2414.4 542.9 2414.4 543.6 2414.4 544.3 2414.4 545 2414.4 545.7 2414.4 546.4 2414.4 547.1 2414.4 547.8 2414.4 548.5 2414.4 549.2 2414.4 549.9 2414.4 550.6 2414.4 551.3 2414.4 552 2414.4 552.7 2414.4 553.4 2414.4 554.1 2414.4 554.8 2414.4 555.5 2414.4 556.2 2414.4 556.9 2414.4 557.6 2414.4 558.3 2414.4 559 2414.4 559.7 2414.4 560.4 2414.4 561.1 2414.4 561.8 2414.4 562.5 2414.4 563.2 2414.4 563.9 2414.4 564.6 2414.4 565.3 2414.4 566 2414.4 566.7 2414.4 567.4 2414.4 568.1 2414.4 568.8 2414.4 569.5 2414.4 570.2 2414.4 570.9 2414.4 571.6 2414.4 572.3 2414.4 573 2414.4 573.7 2414.4 574.4 2414.4 575.1 2414.4 575.8 2414.4 576.5 2414.4 577.2 2414.4 577.9 2414.4 578.6 2414.4 579.3 2414.4 580 2414.4 580.7 2414.4 581.4 2414.4 582.1 2414.4 582.8 2414.4 583.5 2414.4 584.2 2414.4 584.9 2414.4 585.6 2414.4 586.3 2414.4 587 2414.4 587.7 2414.4 588.4 2414.4 589.1 2414.4 589.8 2414.4 590.5 2414.4 591.2 2414.4 591.9 2414.4 592.6 2414.4 593.3 2414.4 594 2414.4 594.7 2414.4 595.4 2414.4 596.1 2414.4 596.8 2414.4 597.5 2414.4 598.2 2414.4 598.9 2414.3 599.6 2414.3 600.3 2414.2 601 2414.1 601.7 2413.9 602.4 2413.7 603.1 2413.4 603.8 2412.9 604.5 2412.3 605.2 2411.6 605.9 2410.8 606.6 2409.8 607.3 2408.7 608 2407.5 608.7 2406.4 609.4 2405.3 610.1 2404.3 610.8 2403.5 611.5 2403 612.2 2402.8 612.9 2402.9 613.6 2403.3 614.3 2404 615 2404.9 615.7 2406 616.4 2407.1 617.1 2408.3 617.8 2409.4 618.5 2410.5 619.2 2411.4 619.9 2412.1 620.6 2412.7 621.3 2413.2 622 2413.6 622.7 2413.9 623.4 2414 624.1 2414.2 624.8 2414.3 625.5 2414.3 626.2 2414.4 626.9 2414.4 627.6 2414.4 628.3 2414.4 629 2414.4 629.7 2414.4 630.4 2414.4 631.1 2414.4 631.8 2414.4 632.5 2414.4 633.2 2414.4 633.9 2414.4 634.6 2414.4 635.3 2414.4 636 2414.4 636.7 2414.4 637.4 2414.4 638.1 2414.4 638.8 2414.4 639.5 2414.4 640.2 2414.4 640.9 2414.4 641.6 2414.4 642.3 2414.4 643 2414.4 643.7 2414.4 644.4 2414.4 645.1 2414.4 645.8 2414.4 646.5 2414.4 647.2 2414.4 647.9 2414.4 648.6 2414.4 649.3 2414.4 650 2414.4 650.7 2414.4 651.4 2414.4 652.1 2414.4 652.8 2414.4 653.5 2414.4 654.2 2414.4 654.9 2414.4 655.6 2414.4 656.3 2414.4 657 2414.4 657.7 2414.4 658.4 2414.4 659.1 2414.4 659.8 2414.4 660.5 2414.4 661.2 2414.4 661.9 2414.4 662.6 2414.4 663.3 2414.4 664 2414.4 664.7 2414.4 665.4 2414.4 666.1 2414.4 666.8 2414.4 667.5 2414.4 668.2 2414.4 668.9 2414.4 669.6 2414.4 670.3 2414.4 671 2414.4 671.7 2414.4 672.4 2414.4 673.1 2414.4 673.8 2414.4 674.5 2414.4 675.2 2414.4 675.9 2414.4 676.6 2414.4 677.3 2414.4 678 2414.4 678.7 2414.4 679.4 2414.4 680.1 2414.4 680.8 2414.4 681.5 2414.4 682.2 2414.4 682.9 2414.4 683.6 2414.4 684.3 2414.4 685 2414.4 685.7 2414.4 686.4 2414.4 687.1 2414.4 687.8 2414.4 688.5 2414.4 689.2 2414.4 689.9 2414.4 690.6 2414.4 691.3 2414.4 692 2414.4 692.7 2414.4 693.4 2414.4 694.1 2414.4 694.8 2414.4 695.5 2414.4 696.2 2414.4 696.9 2414.4 697.6 2414.4 698.3 2414.4 699 2414.4 699.7 2414.4 700.4 2414.4 701.1 2414.4 701.8 2414.4 702.5 2414.4 703.2 2414.4 703.9 2414.4 704.6 2414.4 705.3 2414.4 706 2414.4 706.7 2414.4 707.4 2414.4 708.1 2414.4 708.8 2414.4 709.5 2414.4 710.2 2414.4 710.9 2414.4 711.6 2414.4 712.3 2414.4 713 2414.4 713.7 2414.4 714.4 2414.4 715.1 2414.4 715.8 2414.4 716.5 2414.4 717.2 2414.4 717.9 2414.4 718.6 2414.4 719.3 2414.4 720 2414.4 720.7 2414.4 721.4 2414.4 722.1 2414.4 722.8 2414.4 723.5 2414.4 724.2 2414.4 724.9 2414.4 725.6 2414.4 726.3 2414.4 727 2414.4 727.7 2414.4 728.4 2414.4 729.1 2414.4 729.8 2414.4 730.5 2414.4 731.2 2414.4 731.9 2414.4 732.6 2414.4 733.3 2414.4 734 2414.4 734.7 2414.4 735.4 2414.4 736.1 2414.4 736.8 2414.4 737.5 2414.4 738.2 2414.4 738.9 2414.4 739.6 2414.4 740.3 2414.4 741 2414.4 741.7 2414.4 742.4 2414.4 743.1 2414.4 743.8 2414.4 744.5 2414.4 745.2 2414.4 745.9 2414.4 746.6 2414.4 747.3 2414.4 748 2414.4 748.7 2414.4 749.4 2414.4 750.1 2414.4 750.8 2414.4 751.5 2414.4 752.2 2414.4 752.9 2414.4 753.6 2414.4 754.3 2414.4 755 2414.4 755.7 2414.4 756.4 2414.4 757.1 2414.4 757.8 2414.4 758.5 2414.4 759.2 2414.4 759.9 2414.4 760.6 2414.4 761.3 2414.4 762 2414.4 762.7 2414.4 763.4 2414.4 764.1 2414.4 764.8 2414.4 765.5 2414.4 766.2 2414.4 766.9 2414.4 767.6 2414.4 768.3 2414.4 769 2414.4 769.7 2414.4 770.4 2414.4 771.1 2414.4 771.8 2414.4 772.5 2414.4 773.2 2414.4 773.9 2414.4 774.6 2414.4 775.3 2414.4 776 2414.4 776.7 2414.4 777.4 2414.4 778.1 2414.4 778.8 2414.4 779.5 2414.4 780.2 2414.4 780.9 2414.4 781.6 2414.3 782.3 2414.3 783 2414.1 783.7 2413.9 784.4 2413.6 785.1 2413.1 785.8 2412.3 786.5 2411.2 787.2 2409.6 787.9 2407.3 788.6 2404.2 789.3 2400.2 790 2395.1 790.7 2389 791.4 2381.9 792.1 2373.9 792.8 2365.3 793.5 2356.5 794.2 2348 794.9 2340.3 795.6 2334 796.3 2329.6 797 2327.4 797.7 2327.5 798.4 2330.1 799.1 2334.8 799.8 2341.3 800.5 2349.1 801.2 2357.7 801.9 2366.5 802.6 2375 803.3 2382.9 804 2389.9 804.7 2395.9 805.4 2400.8 806.1 2404.7 806.8 2407.6 807.5 2409.8 808.2 2411.4 808.9 2412.5 809.6 2413.2 810.3 2413.5 811 2412.9 811.7 2412 812.4 2410.6 813.1 2408.6 813.8 2405.8 814.5 2402 815.2 2396.9 815.9 2390.4 816.6 2382.4 817.3 2373 818 2362.2 818.7 2350.4 819.4 2338.1 820.1 2326 820.8 2314.7 821.5 2305.1 822.2 2297.8 822.9 2293.4 823.6 2292.3 824.3 2294.6 825 2300 825.7 2308.2 826.4 2318.5 827.1 2330.2 827.8 2342.5 828.5 2354.6 829.2 2366.1 829.9 2376.5 830.6 2385.4 831.3 2392.8 832 2398.8 832.7 2403.4 833.4 2406.9 834.1 2409.4 834.8 2411.2 835.5 2412.4 836.2 2413.2 836.9 2413.7 837.6 2413.4 838.3 2412.7 839 2411.6 839.7 2410 840.4 2407.7 841.1 2404.4 841.8 2399.9 842.5 2393.9 843.2 2386.3 843.9 2376.9 844.6 2365.8 845.3 2353 846 2339.1 846.7 2324.5 847.4 2310 848.1 2296.4 848.8 2284.8 849.5 2276 850.2 2270.5 850.9 2269 851.6 2271.5 852.3 2277.8 853 2287.3 853.7 2299.5 854.4 2313.3 855.1 2327.9 855.8 2342.5 856.5 2356.2 857.2 2368.6 857.9 2379.3 858.6 2388.3 859.3 2395.5 860 2401.1 860.7 2405.3 861.4 2408.3 862.1 2410.5 862.8 2411.9 863.5 2412.9 864.2 2412.8 864.9 2411.7 865.6 2410.1 866.3 2407.8 867 2404.5 867.7 2399.8 868.4 2393.6 869.1 2385.6 869.8 2375.5 870.5 2363.3 871.2 2349.3 871.9 2333.5 872.6 2316.8 873.3 2299.8 874 2283.6 874.7 2269.1 875.4 2257.4 876.1 2249.5 876.8 2245.9 877.5 2246.9 878.2 2252.5 878.9 2262.2 879.6 2275.3 880.3 2290.7 881 2307.4 881.7 2324.4 882.4 2340.7 883.1 2355.8 883.8 2369 884.5 2380.2 885.2 2389.4 885.9 2396.6 886.6 2402.1 887.3 2406.1 888 2409 888.7 2410.9 889.4 2412.3 890.1 2413.1 890.8 2413.6 891.5 2413.4 892.2 2412.7 892.9 2411.6 893.6 2409.9 894.3 2407.4 895 2403.9 895.7 2399 896.4 2392.6 897.1 2384.2 897.8 2373.8 898.5 2361.3 899.2 2346.9 899.9 2330.9 900.6 2313.9 901.3 2296.7 902 2280.5 902.7 2266.1 903.4 2254.7 904.1 2247.1 904.8 2244 905.5 2245.6 906.2 2251.8 906.9 2262 907.6 2275.5 908.3 2291.2 909 2308.2 909.7 2325.3 910.4 2341.7 911.1 2356.8 911.8 2369.9 912.5 2381 913.2 2390 913.9 2397.1 914.6 2402.5 915.3 2406.4 916 2409.2 916.7 2411.1 917.4 2412.3 918.1 2413.2 918.8 2413.1 919.5 2412.3 920.2 2410.9 920.9 2408.9 921.6 2405.8 922.3 2401.5 923 2395.5 923.7 2387.5 924.4 2377.2 925.1 2364.2 925.8 2348.7 926.5 2330.7 927.2 2310.7 927.9 2289.4 928.6 2267.8 929.3 2247.3 930 2229.1 930.7 2214.5 931.4 2204.7 932.1 2200.5 932.8 2202.1 933.5 2209.5 934.2 2222.1 934.9 2238.8 935.6 2258.5 936.3 2279.8 937 2301.3 937.7 2322 938.4 2341 939.1 2357.7 939.8 2371.8 940.5 2383.2 941.2 2392.2 941.9 2399.1 942.6 2404.1 943.3 2407.7 944 2410.1 944.7 2411.7 945.4 2412.8 946.1 2412 946.8 2410.5 947.5 2408.2 948.2 2404.7 948.9 2399.7 949.6 2392.8 950.3 2383.4 951 2371.2 951.7 2355.9 952.4 2337.3 953.1 2315.5 953.8 2291.1 954.5 2264.8 955.2 2238 955.9 2212 956.6 2188.5 957.3 2169.3 958 2155.6 958.7 2148.7 959.4 2149.1 960.1 2156.7 960.8 2171 961.5 2190.8 962.2 2214.6 962.9 2240.8 963.6 2267.6 964.3 2293.7 965 2317.9 965.7 2339.4 966.4 2357.7 967.1 2372.7 967.8 2384.5 968.5 2393.6 969.2 2400.3 969.9 2405.1 970.6 2408.5 971.3 2410.7 972 2412.2 972.7 2412.8 973.4 2411.7 974.1 2409.9 974.8 2407.2 975.5 2403.1 976.2 2397.3 976.9 2389.1 977.6 2378.1 978.3 2363.8 979 2345.7 979.7 2323.7 980.4 2297.9 981.1 2268.9 981.8 2237.6 982.5 2205.5 983.2 2174.4 983.9 2146.1 984.6 2122.8 985.3 2106.1 986 2097.3 986.7 2097.3 987.4 2105.9 988.1 2122.6 988.8 2145.9 989.5 2174.1 990.2 2205.2 990.9 2237.3 991.6 2268.6 992.3 2297.6 993 2323.4 993.7 2345.5 994.4 2363.6 995.1 2378 995.8 2389 996.5 2397.2 997.2 2403.1 997.9 2407.1 998.6 2409.9 999.3 2411.6 1000 2410.4 1000.7 2407.9 1001.4 2404.2 1002.1 2398.8 1002.8 2391.1 1003.5 2380.5 1004.2 2366.6 1004.9 2348.8 1005.6 2326.9 1006.3 2300.7 1007 2270.9 1007.7 2238.1 1008.4 2203.8 1009.1 2169.8 1009.8 2138 1010.5 2110.6 1011.2 2089.6 1011.9 2076.8 1012.6 2073 1013.3 2078.6 1014 2093.2 1014.7 2115.6 1015.4 2144 1016.1 2176.5 1016.8 2210.8 1017.5 2244.9 1018.2 2277.1 1018.9 2306.3 1019.6 2331.6 1020.3 2352.7 1021 2369.7 1021.7 2382.9 1022.4 2392.8 1023.1 2400 1023.8 2405.1 1024.5 2408.5 1025.2 2410.8 1025.9 2412.2 1026.6 2412.3 1027.3 2411 1028 2408.8 1028.7 2405.6 1029.4 2400.9 1030.1 2394.2 1030.8 2385 1031.5 2372.9 1032.2 2357.3 1032.9 2338.1 1033.6 2315.1 1034.3 2288.8 1035 2260 1035.7 2229.6 1036.4 2199.4 1037.1 2171 1037.8 2146.5 1038.5 2127.6 1039.2 2115.7 1039.9 2111.9 1040.6 2116.5 1041.3 2129 1042 2148.4 1042.7 2173.4 1043.4 2201.9 1044.1 2232.3 1044.8 2262.5 1045.5 2291.2 1046.2 2317.3 1046.9 2339.9 1047.6 2358.8 1048.3 2374.1 1049 2385.9 1049.7 2394.9 1050.4 2401.3 1051.1 2405.9 1051.8 2409 1052.5 2411.1 1053.2 2412.4 1053.9 2412.2 1054.6 2410.8 1055.3 2408.7 1056 2405.6 1056.7 2401.2 1057.4 2395 1058.1 2386.9 1058.8 2376.3 1059.5 2363.1 1060.2 2347.3 1060.9 2329 1061.6 2308.7 1062.3 2287.1 1063 2265.4 1063.7 2244.7 1064.4 2226.4 1065.1 2211.9 1065.8 2202.2 1066.5 2198.1 1067.2 2200 1067.9 2207.7 1068.6 2220.6 1069.3 2237.7 1070 2257.6 1070.7 2279.2 1071.4 2300.9 1072.1 2321.8 1072.8 2340.9 1073.5 2357.7 1074.2 2371.8 1074.9 2383.3 1075.6 2392.3 1076.3 2399.1 1077 2404.1 1077.7 2407.7 1078.4 2410.1 1079.1 2411.8 1079.8 2412.8 1080.5 2413.5 1081.2 2413.1 1081.9 2412.3 1082.6 2411 1083.3 2409.2 1084 2406.6 1084.7 2402.9 1085.4 2398.1 1086.1 2391.8 1086.8 2383.9 1087.5 2374.4 1088.2 2363.4 1088.9 2351.2 1089.6 2338.2 1090.3 2325 1091 2312.4 1091.7 2301.3 1092.4 2292.3 1093.1 2286.3 1093.8 2283.6 1094.5 2284.6 1095.2 2289 1095.9 2296.7 1096.6 2306.9 1097.3 2318.9 1098 2331.8 1098.7 2345 1099.4 2357.7 1100.1 2369.3 1100.8 2379.5 1101.5 2388.2 1102.2 2395.2 1102.9 2400.8 1103.6 2405 1104.3 2408.1 1105 2410.2 1105.7 2411.8 1106.4 2412.8 1107.1 2413.4 1107.8 2413.8 1108.5 2413.7 1109.2 2413.3 1109.9 2412.7 1110.6 2411.8 1111.3 2410.4 1112 2408.6 1112.7 2406.1 1113.4 2402.8 1114.1 2398.8 1114.8 2393.9 1115.5 2388.2 1116.2 2381.9 1116.9 2375.2 1117.6 2368.3 1118.3 2361.7 1119 2355.9 1119.7 2351.1 1120.4 2347.9 1121.1 2346.4 1121.8 2346.8 1122.5 2349 1123.2 2352.9 1123.9 2358.1 1124.6 2364.3 1125.3 2371.1 1126 2377.9 1126.7 2384.5 1127.4 2390.6 1128.1 2396 1128.8 2400.5 1129.5 2404.2 1130.2 2407.2 1130.9 2409.4 1131.6 2411 1132.3 2412.2 1133 2413 1133.7 2413.5 1134.4 2413.9 1135.1 2414.1 1135.8 2414.1 1136.5 2413.9 1137.2 2413.6 1137.9 2413.2 1138.6 2412.6 1139.3 2411.7 1140 2410.6 1140.7 2409.1 1141.4 2407.2 1142.1 2404.9 1142.8 2402.3 1143.5 2399.3 1144.2 2396.1 1144.9 2392.9 1145.6 2389.8 1146.3 2387 1147 2384.8 1147.7 2383.2 1148.4 2382.5 1149.1 2382.6 1149.8 2383.6 1150.5 2385.4 1151.2 2387.8 1151.9 2390.7 1152.6 2393.9 1153.3 2397.1 1154 2400.2 1154.7 2403.1 1155.4 2405.6 1156.1 2407.8 1156.8 2409.5 1157.5 2410.9 1158.2 2412 1158.9 2412.8 1159.6 2413.3 1160.3 2413.7 1161 2414 1161.7 2414.1 1162.4 2414.2 1163.1 2414.2 1163.8 2414 1164.5 2413.8 1165.2 2413.5 1165.9 2413.1 1166.6 2412.6 1167.3 2411.9 1168 2411 1168.7 2409.8 1169.4 2408.5 1170.1 2407.1 1170.8 2405.5 1171.5 2403.8 1172.2 2402.2 1172.9 2400.8 1173.6 2399.6 1174.3 2398.7 1175 2398.2 1175.7 2398.2 1176.4 2398.6 1177.1 2399.4 1177.8 2400.6 1178.5 2402 1179.2 2403.6 1179.9 2405.2 1180.6 2406.8 1181.3 2408.3 1182 2409.7 1182.7 2410.8 1183.4 2411.7 1184.1 2412.5 1184.8 2413.1 1185.5 2413.5 1186.2 2413.8 1186.9 2414 1187.6 2414.2 1188.3 2414.3 1189 2414.3 1189.7 2414.3 1190.4 2414.3 1191.1 2414.2 1191.8 2414.1 1192.5 2413.9 1193.2 2413.7 1193.9 2413.3 1194.6 2412.9 1195.3 2412.3 1196 2411.7 1196.7 2410.9 1197.4 2410 1198.1 2409 1198.8 2408 1199.5 2407.1 1200.2 2406.2 1200.9 2405.4 1201.6 2404.9 1202.3 2404.6 1203 2404.5 1203.7 2404.8 1204.4 2405.2 1205.1 2405.9 1205.8 2406.8 1206.5 2407.8 1207.2 2408.8 1207.9 2409.7 1208.6 2410.7 1209.3 2411.5 1210 2412.2 1210.7 2412.8 1211.4 2413.2 1212.1 2413.6 1212.8 2413.8 1213.5 2414 1214.2 2414.2 1214.9 2414.2 1215.6 2414.3 1216.3 2414.3 1217 2414.3 1217.7 2414.2 1218.4 2414.1 1219.1 2414 1219.8 2413.9 1220.5 2413.6 1221.2 2413.3 1221.9 2413 1222.6 2412.5 1223.3 2412 1224 2411.5 1224.7 2410.9 1225.4 2410.3 1226.1 2409.8 1226.8 2409.3 1227.5 2408.9 1228.2 2408.7 1228.9 2408.6 1229.6 2408.7 1230.3 2408.9 1231 2409.3 1231.7 2409.7 1232.4 2410.3 1233.1 2410.9 1233.8 2411.4 1234.5 2412 1235.2 2412.5 1235.9 2412.9 1236.6 2413.3 1237.3 2413.6 1238 2413.8 1238.7 2414 1239.4 2414.1 1240.1 2414.2 1240.8 2414.3 1241.5 2414.3 1242.2 2414.4 1242.9 2414.4 1243.6 2414.4 1244.3 2414.4 1245 2414.4 1245.7 2414.4 1246.4 2414.4 1247.1 2414.4 1247.8 2414.4 1248.5 2414.4 1249.2 2414.4 1249.9 2414.4 1250.6 2414.4 1251.3 2414.4 1252 2414.4 1252.7 2414.4 1253.4 2414.4 1254.1 2414.4 1254.8 2414.4 1255.5 2414.4 1256.2 2414.4 1256.9 2414.4 1257.6 2414.4 1258.3 2414.4 1259 2414.4 1259.7 2414.4 1260.4 2414.4 1261.1 2414.4 1261.8 2414.4 1262.5 2414.4 1263.2 2414.4 1263.9 2414.4 1264.6 2414.4 1265.3 2414.4 1266 2414.4 1266.7 2414.4 1267.4 2414.4 1268.1 2414.4 1268.8 2414.4 1269.5 2414.4 1270.2 2414.4 1270.9 2414.4 1271.6 2414.4 1272.3 2414.4 1273 2414.4 1273.7 2414.4 1274.4 2414.4 1275.1 2414.4 1275.8 2414.4 1276.5 2414.4 1277.2 2414.4 1277.9 2414.4 1278.6 2414.4 1279.3 2414.4 1280 2414.4 1280.7 2414.4 1281.4 2414.4 1282.1 2414.4 1282.8 2414.4 1283.5 2414.4 1284.2 2414.4 1284.9 2414.4 1285.6 2414.4 1286.3 2414.4 1287 2414.4 1287.7 2414.4 1288.4 2414.4 1289.1 2414.4 1289.8 2414.4 1290.5 2414.4 1291.2 2414.4 1291.9 2414.4 1292.6 2414.4 1293.3 2414.4 1294 2414.4 1294.7 2414.4 1295.4 2414.4 1296.1 2414.4 1296.8 2414.4 1297.5 2414.4 1298.2 2414.4 1298.9 2414.4 1299.6 2414.4 1300.3 2414.4 1301 2414.4 1301.7 2414.4 1302.4 2414.4 1303.1 2414.4 1303.8 2414.4 1304.5 2414.4 1305.2 2414.4 1305.9 2414.4 1306.6 2414.4 1307.3 2414.4 1308 2414.4 1308.7 2414.4 1309.4 2414.4 1310.1 2414.4 1310.8 2414.4 1311.5 2414.4 1312.2 2414.4 1312.9 2414.4 1313.6 2414.4 1314.3 2414.4 1315 2414.4 1315.7 2414.4 1316.4 2414.4L1317 2414.4Z" fill="#808080"/>
<path d="M542.2 2414.4L542.2 2414.4 542.9 2414.4 543.6 2414.4 544.3 2414.4 545 2414.4 545.7 2414.4 546.4 2414.4 547.1 2414.4 547.8 2414.4 548.5 2414.4 549.2 2414.4 549.9 2414.4 550.6 2414.4 551.3 2414.4 552 2414.4 552.7 2414.4 553.4 2414.4 554.1 2414.4 554.8 2414.4 555.5 2414.4 556.2 2414.4 556.9 2414.4 557.6 2414.4 558.3 2414.4 559 2414.4 559.7 2414.4 560.4 2414.4 561.1 2414.4 561.8 2414.4 562.5 2414.4 563.2 2414.4 563.9 2414.4 564.6 2414.4 565.3 2414.4 566 2414.4 566.7 2414.4 567.4 2414.4 568.1 2414.4 568.8 2414.4 569.5 2414.4 570.2 2414.4 570.9 2414.4 571.6 2414.4 572.3 2414.4 573 2414.4 573.7 2414.4 574.4 2414.4 575.1 2414.4 575.8 2414.4 576.5 2414.4 577.2 2414.4 577.9 2414.4 578.6 2414.4 579.3 2414.4 580 2414.4 580.7 2414.4 581.4 2414.4 582.1 2414.4 582.8 2414.4 583.5 2414.4 584.2 2414.4 584.9 2414.4 585.6 2414.4 586.3 2414.4 587 2414.4 587.7 2414.4 588.4 2414.4 589.1 2414.4 589.8 2414.4 590.5 2414.4 591.2 2414.4 591.9 2414.4 592.6 2414.4 593.3 2414.4 594 2414.4 594.7 2414.4 595.4 2414.4 596.1 2414.4 596.8 2414.4 597.5 2414.4 598.2 2414.4 598.9 2414.4 599.6 2414.4 600.3 2414.4 601 2414.4 601.7 2414.4 602.4 2414.4 603.1 2414.4 603.8 2414.4 604.5 2414.4 605.2 2414.4 605.9 2414.4 606.6 2414.4 607.3 2414.4 608 2414.4 608.7 2414.4 609.4 2414.4 610.1 2414.4 610.8 2414.4 611.5 2414.4 612.2 2414.4 612.9 2414.4 613.6 2414.4 614.3 2414.4 615 2414.4 615.7 2414.4 616.4 2414.4 617.1 2414.4 617.8 2414.4 618.5 2414.4 619.2 2414.4 619.9 2414.4 620.6 2414.4 621.3 2414.4 622 2414.4 622.7 2414.4 623.4 2414.4 624.1 2414.4 624.8 2414.4 625.5 2414.4 626.2 2414.3 626.9 2414.3 627.6 2414.2 628.3 2414 629 2413.8 629.7 2413.5 630.4 2413.1 631.1 2412.5 631.8 2411.7 632.5 2410.8 633.2 2409.8 633.9 2408.6 634.6 2407.3 635.3 2406.1 636 2404.9 636.7 2403.9 637.4 2403.2 638.1 2402.8 638.8 2402.8 639.5 2403.1 640.2 2403.8 640.9 2404.8 641.6 2405.9 642.3 2407.2 643 2408.4 643.7 2409.6 644.4 2410.7 645.1 2411.6 645.8 2412.4 646.5 2413 647.2 2413.4 647.9 2413.8 648.6 2414 649.3 2414.1 650 2414.2 650.7 2414.3 651.4 2414.4 652.1 2414.3 652.8 2414.3 653.5 2414.2 654.2 2414 654.9 2413.8 655.6 2413.4 656.3 2412.9 657 2412.3 657.7 2411.5 658.4 2410.4 659.1 2409.2 659.8 2407.7 660.5 2406.2 661.2 2404.6 661.9 2403.1 662.6 2401.8 663.3 2400.7 664 2400.1 664.7 2399.9 665.4 2400.1 666.1 2400.8 666.8 2401.9 667.5 2403.2 668.2 2404.7 668.9 2406.3 669.6 2407.9 670.3 2409.3 671 2410.5 671.7 2411.5 672.4 2412.4 673.1 2413 673.8 2413.5 674.5 2413.8 675.2 2414 675.9 2414.2 676.6 2414.3 677.3 2414.3 678 2414.3 678.7 2414.2 679.4 2414 680.1 2413.8 680.8 2413.4 681.5 2412.9 682.2 2412.1 682.9 2411 683.6 2409.5 684.3 2407.7 685 2405.5 685.7 2403 686.4 2400.1 687.1 2397.2 687.8 2394.3 688.5 2391.6 689.2 2389.4 689.9 2387.9 690.6 2387.1 691.3 2387.2 692 2388.2 692.7 2390 693.4 2392.3 694.1 2395.1 694.8 2398 695.5 2401 696.2 2403.7 696.9 2406.2 697.6 2408.3 698.3 2410 699 2411.3 699.7 2412.3 700.4 2413 701.1 2413.5 701.8 2413.9 702.5 2414.1 703.2 2414.2 703.9 2414.3 704.6 2414.2 705.3 2414.1 706 2413.8 706.7 2413.4 707.4 2412.8 708.1 2411.9 708.8 2410.6 709.5 2408.8 710.2 2406.5 710.9 2403.4 711.6 2399.7 712.3 2395.3 713 2390.4 713.7 2385.2 714.4 2380 715.1 2375.1 715.8 2371 716.5 2368 717.2 2366.4 717.9 2366.3 718.6 2367.7 719.3 2370.5 720 2374.4 720.7 2379.1 721.4 2384.3 722.1 2389.5 722.8 2394.5 723.5 2399 724.2 2402.8 724.9 2406 725.6 2408.5 726.3 2410.4 727 2411.7 727.7 2412.7 728.4 2413.4 729.1 2413.8 729.8 2414 730.5 2414.2 731.2 2414 731.9 2413.7 732.6 2413.2 733.3 2412.5 734 2411.4 734.7 2409.7 735.4 2407.4 736.1 2404.2 736.8 2400.1 737.5 2395 738.2 2388.9 738.9 2382 739.6 2374.5 740.3 2366.8 741 2359.4 741.7 2352.9 742.4 2347.8 743.1 2344.5 743.8 2343.4 744.5 2344.6 745.2 2348 745.9 2353.1 746.6 2359.7 747.3 2367.1 748 2374.8 748.7 2382.3 749.4 2389.2 750.1 2395.3 750.8 2400.3 751.5 2404.4 752.2 2407.5 752.9 2409.8 753.6 2411.4 754.3 2412.5 755 2413.3 755.7 2413.7 756.4 2414 757.1 2414.1 757.8 2413.9 758.5 2413.6 759.2 2413 759.9 2412 760.6 2410.6 761.3 2408.5 762 2405.5 762.7 2401.5 763.4 2396.1 764.1 2389.4 764.8 2381.3 765.5 2372 766.2 2361.8 766.9 2351.2 767.6 2340.9 768.3 2331.6 769 2324 769.7 2318.9 770.4 2316.7 771.1 2317.7 771.8 2321.6 772.5 2328.2 773.2 2336.9 773.9 2346.9 774.6 2357.5 775.3 2368 776 2377.7 776.7 2386.3 777.4 2393.6 778.1 2399.5 778.8 2404 779.5 2407.4 780.2 2409.8 780.9 2411.5 781.6 2412.6 782.3 2413.4 783 2413.8 783.7 2414.1 784.4 2413.8 785.1 2413.3 785.8 2412.6 786.5 2411.3 787.2 2409.4 787.9 2406.6 788.6 2402.6 789.3 2397 790 2389.7 790.7 2380.4 791.4 2369 792.1 2355.8 792.8 2341.2 793.5 2325.8 794.2 2310.5 794.9 2296.5 795.6 2284.8 796.3 2276.5 797 2272.3 797.7 2272.6 798.4 2277.4 799.1 2286.3 799.8 2298.3 800.5 2312.6 801.2 2327.9 801.9 2343.3 802.6 2357.8 803.3 2370.7 804 2381.8 804.7 2390.8 805.4 2397.9 806.1 2403.2 806.8 2407.1 807.5 2409.7 808.2 2411.5 808.9 2412.7 809.6 2413.4 810.3 2413.8 811 2413.4 811.7 2412.6 812.4 2411.3 813.1 2409.3 813.8 2406.4 814.5 2402.1 815.2 2396 815.9 2388 816.6 2377.5 817.3 2364.6 818 2349.3 818.7 2332 819.4 2313.4 820.1 2294.5 820.8 2276.5 821.5 2260.9 822.2 2249 822.9 2241.8 823.6 2240 824.3 2243.7 825 2252.7 825.7 2266 826.4 2282.6 827.1 2301 827.8 2320 828.5 2338.2 829.2 2354.9 829.9 2369.4 830.6 2381.5 831.3 2391.1 832 2398.4 832.7 2403.7 833.4 2407.5 834.1 2410.1 834.8 2411.8 835.5 2412.9 836.2 2413.5 836.9 2413.9 837.6 2413.8 838.3 2413.3 839 2412.4 839.7 2411 840.4 2408.9 841.1 2405.7 841.8 2400.9 842.5 2394.3 843.2 2385.5 843.9 2374 844.6 2359.7 845.3 2342.8 846 2323.5 846.7 2302.8 847.4 2281.7 848.1 2261.5 848.8 2243.9 849.5 2230.3 850.2 2222 850.9 2219.6 851.6 2223.4 852.3 2233.1 853 2247.8 853.7 2266.1 854.4 2286.6 855.1 2307.8 855.8 2328.2 856.5 2347 857.2 2363.3 857.9 2376.9 858.6 2387.8 859.3 2396.1 860 2402.2 860.7 2406.5 861.4 2409.5 862.1 2411.4 862.8 2412.7 863.5 2413.4 864.2 2413.6 864.9 2412.9 865.6 2411.8 866.3 2410.1 867 2407.5 867.7 2403.6 868.4 2398.1 869.1 2390.6 869.8 2380.8 870.5 2368.3 871.2 2353.2 871.9 2335.8 872.6 2316.6 873.3 2296.6 874 2277.1 874.7 2259.3 875.4 2244.8 876.1 2234.8 876.8 2230.2 877.5 2231.5 878.2 2238.6 878.9 2250.8 879.6 2266.9 880.3 2285.7 881 2305.6 881.7 2325.4 882.4 2343.9 883.1 2360.3 883.8 2374.2 884.5 2385.5 885.2 2394.2 885.9 2400.8 886.6 2405.5 887.3 2408.8 888 2411 888.7 2412.4 889.4 2413.2 890.1 2413.7 890.8 2413.8 891.5 2413.3 892.2 2412.5 892.9 2411.2 893.6 2409.2 894.3 2406.2 895 2402 895.7 2396.1 896.4 2388.3 897.1 2378.4 897.8 2366.3 898.5 2352.1 899.2 2336.4 899.9 2319.8 900.6 2303.2 901.3 2287.9 902 2275 902.7 2265.8 903.4 2260.9 904.1 2260.9 904.8 2265.7 905.5 2275 906.2 2287.8 906.9 2303.1 907.6 2319.7 908.3 2336.3 909 2352.1 909.7 2366.2 910.4 2378.3 911.1 2388.3 911.8 2396.1 912.5 2401.9 913.2 2406.2 913.9 2409.2 914.6 2411.2 915.3 2412.5 916 2413.3 916.7 2413.8 917.4 2414 918.1 2413.6 918.8 2413 919.5 2412 920.2 2410.5 920.9 2408.3 921.6 2405.1 922.3 2400.6 923 2394.5 923.7 2386.8 924.4 2377.2 925.1 2366 925.8 2353.2 926.5 2339.7 927.2 2325.9 927.9 2313 928.6 2301.9 929.3 2293.5 930 2288.7 930.7 2287.7 931.4 2290.8 932.1 2297.7 932.8 2307.7 933.5 2319.9 934.2 2333.3 934.9 2347.1 935.6 2360.3 936.3 2372.3 937 2382.6 937.7 2391.2 938.4 2398 939.1 2403.2 939.8 2407 940.5 2409.6 941.2 2411.4 941.9 2412.6 942.6 2413.4 943.3 2413.8 944 2414 944.7 2413.8 945.4 2413.3 946.1 2412.5 946.8 2411.3 947.5 2409.4 948.2 2406.7 948.9 2402.9 949.6 2397.8 950.3 2391.2 951 2382.9 951.7 2373 952.4 2361.8 953.1 2349.7 953.8 2337.2 954.5 2325.3 955.2 2314.8 955.9 2306.6 956.6 2301.5 957.3 2299.8 958 2301.8 958.7 2307.3 959.4 2315.7 960.1 2326.4 960.8 2338.4 961.5 2350.8 962.2 2362.9 962.9 2374 963.6 2383.7 964.3 2391.8 965 2398.3 965.7 2403.3 966.4 2407 967.1 2409.6 967.8 2411.4 968.5 2412.6 969.2 2413.3 969.9 2413.8 970.6 2414.1 971.3 2413.9 972 2413.5 972.7 2412.8 973.4 2411.8 974.1 2410.3 974.8 2408 975.5 2404.7 976.2 2400.3 976.9 2394.5 977.6 2387.2 978.3 2378.4 979 2368.3 979.7 2357.2 980.4 2345.7 981.1 2334.5 981.8 2324.5 982.5 2316.3 983.2 2310.9 983.9 2308.6 984.6 2309.7 985.3 2314 986 2321.3 986.7 2330.7 987.4 2341.6 988.1 2353 988.8 2364.3 989.5 2374.9 990.2 2384.2 990.9 2392 991.6 2398.3 992.3 2403.2 993 2406.9 993.7 2409.5 994.4 2411.3 995.1 2412.5 995.8 2413.3 996.5 2413.8 997.2 2414 997.9 2413.9 998.6 2413.6 999.3 2413 1000 2412 1000.7 2410.5 1001.4 2408.3 1002.1 2405.1 1002.8 2400.8 1003.5 2395.1 1004.2 2387.8 1004.9 2379 1005.6 2368.7 1006.3 2357.3 1007 2345.4 1007.7 2333.6 1008.4 2322.7 1009.1 2313.7 1009.8 2307.3 1010.5 2304.2 1011.2 2304.5 1011.9 2308.3 1012.6 2315.2 1013.3 2324.6 1014 2335.7 1014.7 2347.6 1015.4 2359.5 1016.1 2370.7 1016.8 2380.8 1017.5 2389.3 1018.2 2396.3 1018.9 2401.7 1019.6 2405.8 1020.3 2408.8 1021 2410.8 1021.7 2412.2 1022.4 2413.1 1023.1 2413.6 1023.8 2414 1024.5 2414.2 1025.2 2414 1025.9 2413.7 1026.6 2413.2 1027.3 2412.5 1028 2411.3 1028.7 2409.5 1029.4 2406.9 1030.1 2403.4 1030.8 2398.7 1031.5 2392.8 1032.2 2385.6 1032.9 2377.2 1033.6 2367.8 1034.3 2357.9 1035 2348.1 1035.7 2339.1 1036.4 2331.6 1037.1 2326.2 1037.8 2323.4 1038.5 2323.5 1039.2 2326.5 1039.9 2332.1 1040.6 2339.7 1041.3 2348.8 1042 2358.7 1042.7 2368.5 1043.4 2377.8 1044.1 2386.2 1044.8 2393.3 1045.5 2399.1 1046.2 2403.7 1046.9 2407.1 1047.6 2409.6 1048.3 2411.4 1049 2412.5 1049.7 2413.3 1050.4 2413.8 1051.1 2414 1051.8 2414.2 1052.5 2414 1053.2 2413.7 1053.9 2413.2 1054.6 2412.4 1055.3 2411.2 1056 2409.5 1056.7 2407.2 1057.4 2404.1 1058.1 2400 1058.8 2395.1 1059.5 2389.3 1060.2 2382.7 1060.9 2375.7 1061.6 2368.7 1062.3 2362.1 1063 2356.4 1063.7 2352.2 1064.4 2349.7 1065.1 2349.4 1065.8 2351 1066.5 2354.6 1067.2 2359.8 1067.9 2366.1 1068.6 2373 1069.3 2380.1 1070 2386.9 1070.7 2393 1071.4 2398.3 1072.1 2402.6 1072.8 2406.1 1073.5 2408.7 1074.2 2410.6 1074.9 2412 1075.6 2412.9 1076.3 2413.5 1077 2413.9 1077.7 2414.1 1078.4 2414.2 1079.1 2414.3 1079.8 2414.2 1080.5 2414 1081.2 2413.7 1081.9 2413.3 1082.6 2412.6 1083.3 2411.6 1084 2410.3 1084.7 2408.5 1085.4 2406.2 1086.1 2403.4 1086.8 2400 1087.5 2396.2 1088.2 2392.2 1088.9 2388.1 1089.6 2384.2 1090.3 2380.9 1091 2378.4 1091.7 2376.9 1092.4 2376.6 1093.1 2377.5 1093.8 2379.6 1094.5 2382.5 1095.2 2386.1 1095.9 2390.2 1096.6 2394.3 1097.3 2398.2 1098 2401.8 1098.7 2404.9 1099.4 2407.4 1100.1 2409.5 1100.8 2411 1101.5 2412.2 1102.2 2413 1102.9 2413.5 1103.6 2413.9 1104.3 2414.1 1105 2414.2 1105.7 2414.3 1106.4 2414.3 1107.1 2414.2 1107.8 2414 1108.5 2413.7 1109.2 2413.3 1109.9 2412.8 1110.6 2412 1111.3 2410.9 1112 2409.5 1112.7 2407.7 1113.4 2405.6 1114.1 2403.2 1114.8 2400.6 1115.5 2398 1116.2 2395.5 1116.9 2393.2 1117.6 2391.5 1118.3 2390.3 1119 2390 1119.7 2390.4 1120.4 2391.5 1121.1 2393.3 1121.8 2395.6 1122.5 2398.1 1123.2 2400.8 1123.9 2403.4 1124.6 2405.7 1125.3 2407.8 1126 2409.6 1126.7 2411 1127.4 2412 1128.1 2412.8 1128.8 2413.4 1129.5 2413.8 1130.2 2414 1130.9 2414.2 1131.6 2414.3 1132.3 2414.3 1133 2414.3 1133.7 2414.3 1134.4 2414.2 1135.1 2414 1135.8 2413.8 1136.5 2413.5 1137.2 2413.1 1137.9 2412.5 1138.6 2411.7 1139.3 2410.7 1140 2409.5 1140.7 2408.1 1141.4 2406.6 1142.1 2405 1142.8 2403.5 1143.5 2402.1 1144.2 2400.9 1144.9 2400.2 1145.6 2399.9 1146.3 2400 1147 2400.6 1147.7 2401.6 1148.4 2402.9 1149.1 2404.4 1149.8 2405.9 1150.5 2407.5 1151.2 2408.9 1151.9 2410.2 1152.6 2411.3 1153.3 2412.2 1154 2412.9 1154.7 2413.4 1155.4 2413.7 1156.1 2414 1156.8 2414.1 1157.5 2414.2 1158.2 2414.3 1158.9 2414.4 1159.6 2414.4 1160.3 2414.4 1161 2414.4 1161.7 2414.4 1162.4 2414.4 1163.1 2414.4 1163.8 2414.4 1164.5 2414.4 1165.2 2414.4 1165.9 2414.4 1166.6 2414.4 1167.3 2414.4 1168 2414.4 1168.7 2414.4 1169.4 2414.4 1170.1 2414.4 1170.8 2414.4 1171.5 2414.4 1172.2 2414.4 1172.9 2414.4 1173.6 2414.4 1174.3 2414.4 1175 2414.4 1175.7 2414.4 1176.4 2414.4 1177.1 2414.4 1177.8 2414.4 1178.5 2414.4 1179.2 2414.4 1179.9 2414.4 1180.6 2414.4 1181.3 2414.4 1182 2414.4 1182.7 2414.4 1183.4 2414.4 1184.1 2414.4 1184.8 2414.4 1185.5 2414.4 1186.2 2414.4 1186.9 2414.4 1187.6 2414.4 1188.3 2414.4 1189 2414.4 1189.7 2414.4 1190.4 2414.4 1191.1 2414.4 1191.8 2414.4 1192.5 2414.4 1193.2 2414.4 1193.9 2414.4 1194.6 2414.4 1195.3 2414.4 1196 2414.4 1196.7 2414.4 1197.4 2414.4 1198.1 2414.4 1198.8 2414.4 1199.5 2414.4 1200.2 2414.4 1200.9 2414.4 1201.6 2414.4 1202.3 2414.4 1203 2414.4 1203.7 2414.4 1204.4 2414.4 1205.1 2414.4 1205.8 2414.4 1206.5 2414.4 1207.2 2414.4 1207.9 2414.4 1208.6 2414.4 1209.3 2414.4 1210 2414.4 1210.7 2414.4 1211.4 2414.4 1212.1 2414.4 1212.8 2414.4 1213.5 2414.4 1214.2 2414.4 1214.9 2414.4 1215.6 2414.4 1216.3 2414.4 1217 2414.4 1217.7 2414.4 1218.4 2414.4 1219.1 2414.4 1219.8 2414.4 1220.5 2414.4 1221.2 2414.4 1221.9 2414.4 1222.6 2414.4 1223.3 2414.4 1224 2414.4 1224.7 2414.4 1225.4 2414.4 1226.1 2414.4 1226.8 2414.4 1227.5 2414.4 1228.2 2414.4 1228.9 2414.4 1229.6 2414.4 1230.3 2414.4 1231 2414.4 1231.7 2414.4 1232.4 2414.4 1233.1 2414.4 1233.8 2414.4 1234.5 2414.4 1235.2 2414.4 1235.9 2414.4 1236.6 2414.4 1237.3 2414.4 1238 2414.4 1238.7 2414.4 1239.4 2414.4 1240.1 2414.4 1240.8 2414.4 1241.5 2414.4 1242.2 2414.4 1242.9 2414.4 1243.6 2414.4 1244.3 2414.4 1245 2414.4 1245.7 2414.4 1246.4 2414.4 1247.1 2414.4 1247.8 2414.4 1248.5 2414.4 1249.2 2414.4 1249.9 2414.4 1250.6 2414.4 1251.3 2414.4 1252 2414.4 1252.7 2414.4 1253.4 2414.4 1254.1 2414.4 1254.8 2414.4 1255.5 2414.4 1256.2 2414.4 1256.9 2414.4 1257.6 2414.4 1258.3 2414.4 1259 2414.4 1259.7 2414.4 1260.4 2414.4 1261.1 2414.4 1261.8 2414.4 1262.5 2414.4 1263.2 2414.4 1263.9 2414.4 1264.6 2414.4 1265.3 2414.4 1266 2414.4 1266.7 2414.4 1267.4 2414.4 1268.1 2414.4 1268.8 2414.4 1269.5 2414.4 1270.2 2414.4 1270.9 2414.4 1271.6 2414.4 1272.3 2414.4 1273 2414.4 1273.7 2414.4 1274.4 2414.4 1275.1 2414.4 1275.8 2414.4 1276.5 2414.4 1277.2 2414.4 1277.9 2414.4 1278.6 2414.4 1279.3 2414.4 1280 2414.4 1280.7 2414.4 1281.4 2414.4 1282.1 2414.4 1282.8 2414.4 1283.5 2414.4 1284.2 2414.4 1284.9 2414.4 1285.6 2414.4 1286.3 2414.4 1287 2414.4 1287.7 2414.4 1288.4 2414.4 1289.1 2414.4 1289.8 2414.4 1290.5 2414.4 1291.2 2414.4 1291.9 2414.4 1292.6 2414.4 1293.3 2414.4 1294 2414.4 1294.7 2414.4 1295.4 2414.4 1296.1 2414.4 1296.8 2414.4 1297.5 2414.4 1298.2 2414.4 1298.9 2414.4 1299.6 2414.4 1300.3 2414.4 1301 2414.4 1301.7 2414.4 1302.4 2414.4 1303.1 2414.4 1303.8 2414.4 1304.5 2414.4 1305.2 2414.4 1305.9 2414.4 1306.6 2414.4 1307.3 2414.4 1308 2414.4 1308.7 2414.4 1309.4 2414.4 1310.1 2414.4 1310.8 2414.4 1311.5 2414.4 1312.2 2414.4 1312.9 2414.4 1313.6 2414.4 1314.3 2414.4 1315 2414.4 1315.7 2414.4 1316.4 2414.4L1317 2414.4Z" fill="#4d9ef8"/>
<path d="M541.2 2412.5 L600 2411.5 L640 2412.8 L700 2411.8 L760 2413 L1150 2412.5 L1200 2411.6 L1250 2412.6 L1318 2411.8" fill="none" stroke="#8ab8f0" stroke-width="0.8"/>
<path d="M541.2 2413 L620 2412.2 L680 2413.2 L1180 2412.9 L1260 2412.3 L1318 2412.6" fill="none" stroke="#aaa" stroke-width="0.8"/>
<rect x="541.2" y="2032.4" width="776.8" height="382" fill="none" stroke="#000" stroke-width="1.6"/>
<line x1="533.3" y1="2414.4" x2="541.2" y2="2414.4" stroke="#000" stroke-width="1.6"/>
<text x="528.4" y="2430.6" font-size="26" text-anchor="end">0</text>
<line x1="533.3" y1="2350.7" x2="541.2" y2="2350.7" stroke="#000" stroke-width="1.6"/>
<text x="528.4" y="2366.9" font-size="26" text-anchor="end">400</text>
<line x1="533.3" y1="2287.1" x2="541.2" y2="2287.1" stroke="#000" stroke-width="1.6"/>
<text x="528.4" y="2303.3" font-size="26" text-anchor="end">800</text>
<line x1="533.3" y1="2223.4" x2="541.2" y2="2223.4" stroke="#000" stroke-width="1.6"/>
<text x="528.4" y="2239.6" font-size="26" text-anchor="end">1200</text>
<line x1="533.3" y1="2159.7" x2="541.2" y2="2159.7" stroke="#000" stroke-width="1.6"/>
<text x="528.4" y="2175.9" font-size="26" text-anchor="end">1600</text>
<line x1="533.3" y1="2096.1" x2="541.2" y2="2096.1" stroke="#000" stroke-width="1.6"/>
<text x="528.4" y="2112.3" font-size="26" text-anchor="end">2000</text>
<line x1="533.3" y1="2032.4" x2="541.2" y2="2032.4" stroke="#000" stroke-width="1.6"/>
<text x="528.4" y="2048.6" font-size="26" text-anchor="end">2400</text>
<line x1="541.2" y1="2024.7" x2="541.2" y2="2032.4" stroke="#000" stroke-width="1.6"/>
<text x="546.2" y="2023.7" font-size="24.5" text-anchor="middle">110</text>
<line x1="593" y1="2024.7" x2="593" y2="2032.4" stroke="#000" stroke-width="1.6"/>
<text x="598" y="2023.7" font-size="24.5" text-anchor="middle">112</text>
<line x1="644.8" y1="2024.7" x2="644.8" y2="2032.4" stroke="#000" stroke-width="1.6"/>
<text x="649.8" y="2023.7" font-size="24.5" text-anchor="middle">114</text>
<line x1="696.6" y1="2024.7" x2="696.6" y2="2032.4" stroke="#000" stroke-width="1.6"/>
<text x="701.6" y="2023.7" font-size="24.5" text-anchor="middle">116</text>
<line x1="748.3" y1="2024.7" x2="748.3" y2="2032.4" stroke="#000" stroke-width="1.6"/>
<text x="753.3" y="2023.7" font-size="24.5" text-anchor="middle">118</text>
<line x1="800.1" y1="2024.7" x2="800.1" y2="2032.4" stroke="#000" stroke-width="1.6"/>
<text x="805.1" y="2023.7" font-size="24.5" text-anchor="middle">120</text>
<line x1="851.9" y1="2024.7" x2="851.9" y2="2032.4" stroke="#000" stroke-width="1.6"/>
<text x="856.9" y="2023.7" font-size="24.5" text-anchor="middle">122</text>
<line x1="903.7" y1="2024.7" x2="903.7" y2="2032.4" stroke="#000" stroke-width="1.6"/>
<text x="908.7" y="2023.7" font-size="24.5" text-anchor="middle">124</text>
<line x1="955.5" y1="2024.7" x2="955.5" y2="2032.4" stroke="#000" stroke-width="1.6"/>
<text x="960.5" y="2023.7" font-size="24.5" text-anchor="middle">126</text>
<line x1="1007.3" y1="2024.7" x2="1007.3" y2="2032.4" stroke="#000" stroke-width="1.6"/>
<text x="1012.3" y="2023.7" font-size="24.5" text-anchor="middle">128</text>
<line x1="1059.1" y1="2024.7" x2="1059.1" y2="2032.4" stroke="#000" stroke-width="1.6"/>
<text x="1064.1" y="2023.7" font-size="24.5" text-anchor="middle">130</text>
<line x1="1110.9" y1="2024.7" x2="1110.9" y2="2032.4" stroke="#000" stroke-width="1.6"/>
<text x="1115.9" y="2023.7" font-size="24.5" text-anchor="middle">132</text>
<line x1="1162.6" y1="2024.7" x2="1162.6" y2="2032.4" stroke="#000" stroke-width="1.6"/>
<text x="1167.6" y="2023.7" font-size="24.5" text-anchor="middle">134</text>
<line x1="1214.4" y1="2024.7" x2="1214.4" y2="2032.4" stroke="#000" stroke-width="1.6"/>
<text x="1219.4" y="2023.7" font-size="24.5" text-anchor="middle">136</text>
<line x1="1266.2" y1="2024.7" x2="1266.2" y2="2032.4" stroke="#000" stroke-width="1.6"/>
<text x="1271.2" y="2023.7" font-size="24.5" text-anchor="middle">138</text>
<line x1="1318" y1="2024.7" x2="1318" y2="2032.4" stroke="#000" stroke-width="1.6"/>
<text x="1323" y="2023.7" font-size="24.5" text-anchor="middle">140</text>
<text x="943.8" y="1995.5" font-size="34" text-anchor="middle" textLength="244.3" lengthAdjust="spacingAndGlyphs">Base pair (bp)</text>
<text x="464" y="2222.5" font-size="35.4" text-anchor="middle" transform="rotate(-90 464 2222.5)">Fluorescence intensity</text>
<line x1="568.2" y1="2079.6" x2="600.8" y2="2079.6" stroke="#808080" stroke-width="4.9"/>
<text x="609.8" y="2094.9" font-size="29" textLength="152.2" lengthAdjust="spacingAndGlyphs">sgScramble</text>
<line x1="568.2" y1="2109.4" x2="600.8" y2="2109.4" stroke="#5aa3fa" stroke-width="4.9"/>
<text x="617.2" y="2124.6" font-size="28.6" textLength="120.3" lengthAdjust="spacingAndGlyphs">sgKdm6a</text>
<text x="981.7" y="2078.2" font-size="28.5" textLength="87.3" lengthAdjust="spacingAndGlyphs">128.22</text>
<text x="810" y="2217.8" font-size="28.5" textLength="87.3" lengthAdjust="spacingAndGlyphs">121.99</text>
<line x1="1497.7" y1="2021.4" x2="1497.7" y2="2357" stroke="#000" stroke-width="2.8"/>
<line x1="1496.3" y1="2355.9" x2="1723.7" y2="2355.9" stroke="#000" stroke-width="2.8"/>
<line x1="1483.4" y1="2022.9" x2="1497.7" y2="2022.9" stroke="#000" stroke-width="2.8"/>
<text x="1477.8" y="2032.9" font-size="28.6" text-anchor="end">130</text>
<line x1="1483.4" y1="2189.6" x2="1497.7" y2="2189.6" stroke="#000" stroke-width="2.8"/>
<text x="1477.8" y="2199.6" font-size="28.6" text-anchor="end">125</text>
<line x1="1483.4" y1="2355.9" x2="1497.7" y2="2355.9" stroke="#000" stroke-width="2.8"/>
<text x="1477.8" y="2365.9" font-size="28.6" text-anchor="end">120</text>
<path d="M1548.6 2052.3V2035.9H1652.3V2052.3" fill="none" stroke="#000" stroke-width="2.8"/>
<text x="1532.8" y="2025.7" font-size="25.3" textLength="129.4" lengthAdjust="spacingAndGlyphs">P=7.67x10</text>
<text x="1663.3" y="2014.7" font-size="18" textLength="30.6" lengthAdjust="spacingAndGlyphs">-10</text>
<rect x="1532.4" y="2081.7" width="60.4" height="35.3" fill="#888888" stroke="#000" stroke-width="3"/>
<rect x="1626.4" y="2256.7" width="61.4" height="31.6" fill="#56a0fa" stroke="#000" stroke-width="3"/>
<line x1="1626.4" y1="2259.6" x2="1687.8" y2="2259.6" stroke="#000" stroke-width="2.5"/>
<line x1="1657" y1="2252" x2="1657" y2="2256.7" stroke="#000" stroke-width="2.5"/>
<line x1="1640.4" y1="2252" x2="1674.2" y2="2252" stroke="#000" stroke-width="2.5"/>
<path d="M1544.1 2080.5h0M1561.5 2080h0M1579.9 2080.5h0M1534.7 2118.2h0M1552.8 2114.6h0M1570.4 2115.8h0M1588.8 2116.5h0M1630.4 2251.3h0M1648.5 2260.2h0M1666.1 2254.8h0M1684.5 2257.5h0M1639.6 2289.9h0M1657.5 2288.3h0M1675.6 2289.1h0" stroke="#000" stroke-width="10.8" stroke-linecap="round" fill="none"/>
<text x="1368.7" y="2185" font-size="34.5" text-anchor="middle" transform="rotate(-90 1368.7 2185)">Length of the modal</text>
<text x="1409.5" y="2185" font-size="34.5" text-anchor="middle" transform="rotate(-90 1409.5 2185)">peak in base pair</text>
<rect x="1510" y="2385.1" width="23.1" height="29.8" fill="#808080" stroke="#000" stroke-width="2.8"/>
<text x="1541.7" y="2416" font-size="32.5" textLength="171.8" lengthAdjust="spacingAndGlyphs">sgScramble</text>
<rect x="1508.7" y="2440.5" width="21.7" height="28.5" fill="#56a0fa" stroke="#000" stroke-width="2.8"/>
<text x="1541.7" y="2465" font-size="31.8" textLength="183.9" lengthAdjust="spacingAndGlyphs">sgKdm6a C1</text>
</svg></body></html>
